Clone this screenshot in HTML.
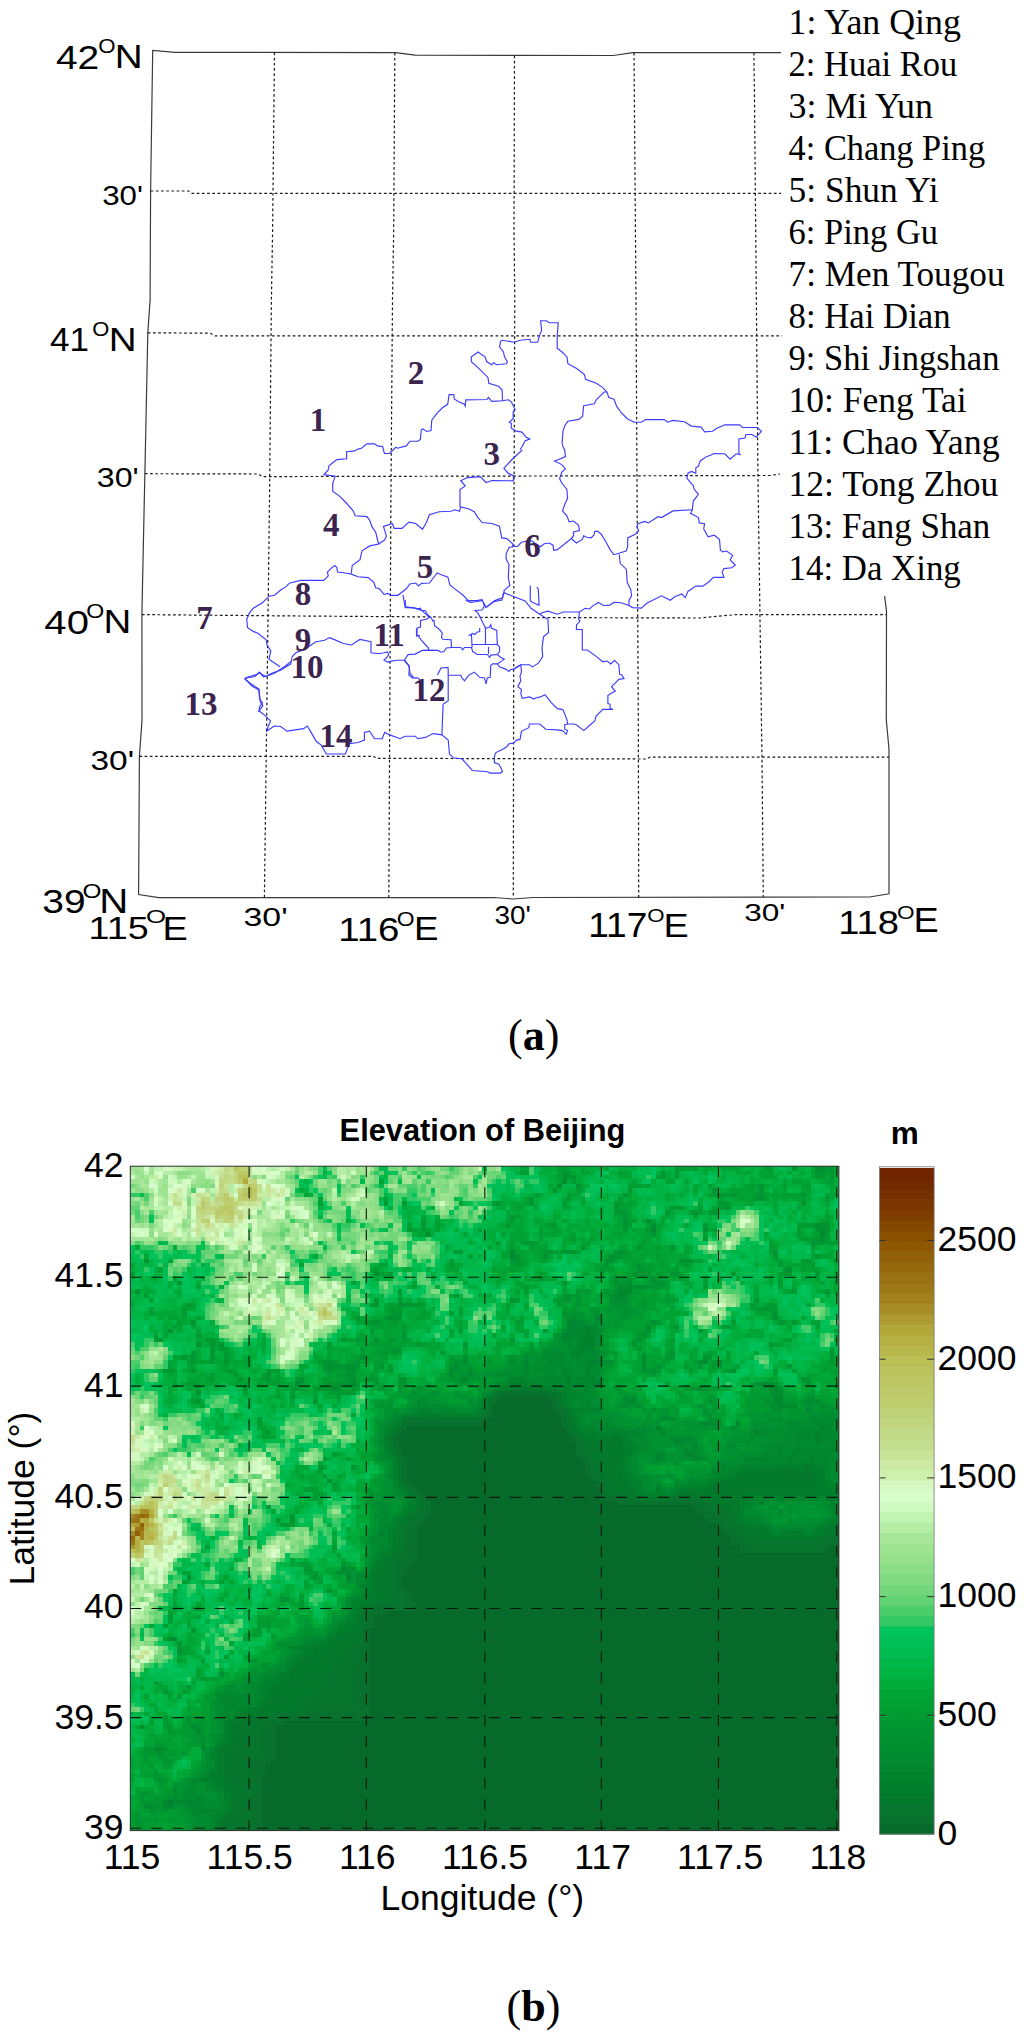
<!DOCTYPE html><html><head><meta charset="utf-8"><style>html,body{margin:0;padding:0;background:#fff;}svg{display:block;}</style></head><body><svg width="1024" height="2038" viewBox="0 0 1024 2038"><rect width="1024" height="2038" fill="#fff"/><g shape-rendering="crispEdges"><path fill="#066a2b" d="M501 1395h47v4h-47zM496 1399h57v5h-57zM492 1404h61v4h-61zM492 1408h61v5h-61zM492 1413h65v4h-65zM487 1417h75v4h-75zM482 1421h80v5h-80zM407 1426h155v4h-155zM402 1430h165v5h-165zM398 1435h173v4h-173zM398 1439h173v4h-173zM398 1443h178v5h-178zM402 1448h174v4h-174zM402 1452h174v5h-174zM407 1457h174v4h-174zM407 1461h178v4h-178zM407 1465h178v5h-178zM407 1470h178v4h-178zM407 1474h183v5h-183zM407 1479h188v4h-188zM412 1483h183v4h-183zM417 1487h183v5h-183zM421 1492h179v4h-179zM426 1496h174v5h-174zM431 1501h187v4h-187zM431 1505h262v4h-262zM431 1509h267v5h-267zM426 1514h277v4h-277zM426 1518h282v5h-282zM421 1523h296v4h-296zM417 1527h300v4h-300zM417 1531h309v5h-309zM417 1536h314v4h-314zM417 1540h314v5h-314zM417 1545h323v4h-323zM830 1545h9v4h-9zM417 1549h323v4h-323zM825 1549h14v4h-14zM417 1553h422v5h-422zM417 1558h422v4h-422zM412 1562h427v5h-427zM407 1567h432v4h-432zM407 1571h432v4h-432zM402 1575h437v5h-437zM402 1580h437v4h-437zM402 1584h437v5h-437zM407 1589h432v4h-432zM412 1593h427v4h-427zM412 1597h427v5h-427zM417 1602h422v4h-422zM412 1606h427v5h-427zM388 1611h451v4h-451zM374 1615h465v4h-465zM374 1619h465v5h-465zM374 1624h465v4h-465zM370 1628h469v5h-469zM370 1633h469v4h-469zM370 1637h469v4h-469zM370 1641h469v5h-469zM370 1646h469v4h-469zM370 1650h469v5h-469zM370 1655h469v4h-469zM370 1659h469v4h-469zM370 1663h469v5h-469zM370 1668h469v4h-469zM370 1672h469v5h-469zM370 1677h469v4h-469zM370 1681h469v4h-469zM370 1685h469v5h-469zM370 1690h469v4h-469zM370 1694h469v5h-469zM370 1699h469v4h-469zM370 1703h469v4h-469zM370 1707h469v5h-469zM370 1712h469v4h-469zM365 1716h474v5h-474zM285 1721h554v4h-554zM276 1725h563v4h-563zM276 1729h563v5h-563zM276 1734h563v4h-563zM276 1738h563v5h-563zM276 1743h563v4h-563zM276 1747h563v4h-563zM276 1751h563v5h-563zM276 1756h563v4h-563zM271 1760h568v5h-568zM266 1765h573v4h-573zM266 1769h573v4h-573zM262 1773h577v5h-577zM262 1778h577v4h-577zM262 1782h577v5h-577zM262 1787h577v4h-577zM262 1791h577v4h-577zM262 1795h577v5h-577zM262 1800h577v4h-577zM262 1804h577v5h-577zM262 1809h577v4h-577zM262 1813h577v4h-577zM262 1817h577v5h-577zM262 1822h577v4h-577zM262 1826h577v5h-577z"/><path fill="#08712d" d="M501 1391h47v4h-47zM496 1395h5v4h-5zM548 1395h5v4h-5zM492 1399h4v5h-4zM553 1399h4v5h-4zM553 1404h4v4h-4zM487 1408h5v5h-5zM553 1408h9v5h-9zM487 1413h5v4h-5zM557 1413h10v4h-10zM482 1417h5v4h-5zM562 1417h5v4h-5zM407 1421h75v5h-75zM562 1421h5v5h-5zM402 1426h5v4h-5zM562 1426h5v4h-5zM398 1430h4v5h-4zM567 1430h4v5h-4zM393 1435h5v4h-5zM571 1435h5v4h-5zM393 1439h5v4h-5zM571 1439h5v4h-5zM393 1443h5v5h-5zM576 1443h5v5h-5zM398 1448h4v4h-4zM576 1448h5v4h-5zM398 1452h4v5h-4zM576 1452h9v5h-9zM402 1457h5v4h-5zM581 1457h9v4h-9zM402 1461h5v4h-5zM585 1461h5v4h-5zM402 1465h5v5h-5zM585 1465h5v5h-5zM402 1470h5v4h-5zM585 1470h5v4h-5zM402 1474h5v5h-5zM590 1474h5v5h-5zM402 1479h5v4h-5zM595 1479h5v4h-5zM407 1483h5v4h-5zM595 1483h9v4h-9zM412 1487h5v5h-5zM600 1487h4v5h-4zM417 1492h4v4h-4zM600 1492h4v4h-4zM421 1496h5v5h-5zM600 1496h28v5h-28zM684 1496h5v5h-5zM426 1501h5v4h-5zM618 1501h80v4h-80zM426 1505h5v4h-5zM693 1505h15v4h-15zM421 1509h10v5h-10zM698 1509h14v5h-14zM421 1514h5v4h-5zM703 1514h14v4h-14zM417 1518h9v5h-9zM708 1518h18v5h-18zM412 1523h9v4h-9zM717 1523h9v4h-9zM407 1527h10v4h-10zM717 1527h19v4h-19zM407 1531h10v5h-10zM726 1531h10v5h-10zM407 1536h10v4h-10zM731 1536h14v4h-14zM834 1536h5v4h-5zM407 1540h10v5h-10zM731 1540h19v5h-19zM825 1540h14v5h-14zM407 1545h10v4h-10zM740 1545h14v4h-14zM820 1545h10v4h-10zM407 1549h10v4h-10zM740 1549h85v4h-85zM407 1553h10v5h-10zM402 1558h15v4h-15zM398 1562h14v5h-14zM398 1567h9v4h-9zM398 1571h9v4h-9zM398 1575h4v5h-4zM398 1580h4v4h-4zM398 1584h4v5h-4zM398 1589h9v4h-9zM402 1593h10v4h-10zM402 1597h10v5h-10zM402 1602h15v4h-15zM374 1606h38v5h-38zM370 1611h18v4h-18zM370 1615h4v4h-4zM365 1619h9v5h-9zM365 1624h9v4h-9zM365 1628h5v5h-5zM365 1633h5v4h-5zM365 1637h5v4h-5zM365 1641h5v5h-5zM360 1646h10v4h-10zM360 1650h10v5h-10zM360 1655h10v4h-10zM360 1659h10v4h-10zM356 1663h14v5h-14zM356 1668h14v4h-14zM356 1672h14v5h-14zM356 1677h14v4h-14zM356 1681h14v4h-14zM356 1685h14v5h-14zM356 1690h14v4h-14zM356 1694h14v5h-14zM356 1699h14v4h-14zM356 1703h14v4h-14zM323 1707h47v5h-47zM304 1712h66v4h-66zM280 1716h85v5h-85zM271 1721h14v4h-14zM266 1725h10v4h-10zM262 1729h14v5h-14zM262 1734h14v4h-14zM262 1738h14v5h-14zM262 1743h14v4h-14zM262 1747h14v4h-14zM262 1751h14v5h-14zM257 1756h19v4h-19zM252 1760h19v5h-19zM252 1765h14v4h-14zM252 1769h14v4h-14zM252 1773h10v5h-10zM252 1778h10v4h-10zM257 1782h5v5h-5zM257 1787h5v4h-5zM257 1791h5v4h-5zM252 1795h10v5h-10zM252 1800h10v4h-10zM252 1804h10v5h-10zM252 1809h10v4h-10zM252 1813h10v4h-10zM252 1817h10v5h-10zM252 1822h10v4h-10zM252 1826h10v5h-10z"/><path fill="#06752d" d="M496 1391h5v4h-5zM548 1391h9v4h-9zM492 1395h4v4h-4zM553 1395h4v4h-4zM487 1399h5v5h-5zM487 1404h5v4h-5zM557 1404h5v4h-5zM562 1408h5v5h-5zM482 1413h5v4h-5zM402 1417h80v4h-80zM567 1417h4v4h-4zM402 1421h5v5h-5zM567 1421h4v5h-4zM398 1426h4v4h-4zM567 1426h4v4h-4zM393 1430h5v5h-5zM571 1430h5v5h-5zM388 1435h5v4h-5zM576 1435h5v4h-5zM388 1439h5v4h-5zM576 1439h5v4h-5zM581 1443h4v5h-4zM393 1448h5v4h-5zM581 1448h9v4h-9zM585 1452h5v5h-5zM398 1457h4v4h-4zM590 1457h5v4h-5zM398 1461h4v4h-4zM590 1461h5v4h-5zM614 1461h4v4h-4zM398 1465h4v5h-4zM590 1465h10v5h-10zM398 1470h4v4h-4zM590 1470h10v4h-10zM783 1470h4v4h-4zM398 1474h4v5h-4zM595 1474h9v5h-9zM806 1474h5v5h-5zM398 1479h4v4h-4zM600 1479h9v4h-9zM402 1483h5v4h-5zM604 1483h5v4h-5zM623 1483h5v4h-5zM407 1487h5v5h-5zM604 1487h5v5h-5zM712 1487h5v5h-5zM412 1492h5v4h-5zM604 1492h28v4h-28zM684 1492h9v4h-9zM417 1496h4v5h-4zM628 1496h9v5h-9zM670 1496h14v5h-14zM689 1496h14v5h-14zM421 1501h5v4h-5zM698 1501h14v4h-14zM421 1505h5v4h-5zM708 1505h18v4h-18zM417 1509h4v5h-4zM712 1509h19v5h-19zM407 1514h14v4h-14zM717 1514h19v4h-19zM407 1518h10v5h-10zM726 1518h10v5h-10zM402 1523h10v4h-10zM726 1523h14v4h-14zM402 1527h5v4h-5zM736 1527h9v4h-9zM834 1527h5v4h-5zM402 1531h5v5h-5zM736 1531h18v5h-18zM830 1531h9v5h-9zM402 1536h5v4h-5zM745 1536h14v4h-14zM820 1536h14v4h-14zM402 1540h5v5h-5zM750 1540h75v5h-75zM402 1545h5v4h-5zM754 1545h66v4h-66zM398 1549h9v4h-9zM393 1553h14v5h-14zM388 1558h14v4h-14zM388 1562h10v5h-10zM388 1567h10v4h-10zM388 1571h10v4h-10zM388 1575h10v5h-10zM388 1580h10v4h-10zM388 1584h10v5h-10zM388 1589h10v4h-10zM388 1593h14v4h-14zM393 1597h9v5h-9zM374 1602h28v4h-28zM365 1606h9v5h-9zM360 1611h10v4h-10zM360 1615h10v4h-10zM360 1619h5v5h-5zM360 1624h5v4h-5zM360 1628h5v5h-5zM360 1633h5v4h-5zM341 1637h10v4h-10zM356 1637h9v4h-9zM356 1641h9v5h-9zM351 1646h9v4h-9zM332 1650h5v5h-5zM346 1650h14v5h-14zM341 1655h19v4h-19zM304 1659h9v4h-9zM337 1659h23v4h-23zM332 1663h24v5h-24zM332 1668h24v4h-24zM327 1672h29v5h-29zM313 1677h5v4h-5zM327 1677h29v4h-29zM295 1681h4v4h-4zM327 1681h29v4h-29zM318 1685h38v5h-38zM318 1690h38v4h-38zM313 1694h43v5h-43zM271 1699h5v4h-5zM304 1699h52v4h-52zM304 1703h52v4h-52zM299 1707h24v5h-24zM276 1712h28v4h-28zM248 1716h32v5h-32zM243 1721h28v4h-28zM234 1725h32v4h-32zM238 1729h24v5h-24zM238 1734h24v4h-24zM234 1738h28v5h-28zM234 1743h28v4h-28zM234 1747h28v4h-28zM224 1751h38v5h-38zM229 1756h28v4h-28zM229 1760h23v5h-23zM224 1765h28v4h-28zM224 1769h28v4h-28zM224 1773h28v5h-28zM229 1778h23v4h-23zM234 1782h23v5h-23zM243 1787h14v4h-14zM238 1791h19v4h-19zM238 1795h14v5h-14zM234 1800h18v4h-18zM234 1804h18v5h-18zM234 1809h18v4h-18zM229 1813h23v4h-23zM224 1817h28v5h-28zM219 1822h33v4h-33zM219 1826h33v5h-33z"/><path fill="#047a2d" d="M510 1386h33v5h-33zM557 1391h5v4h-5zM557 1395h5v4h-5zM557 1399h5v5h-5zM562 1404h5v4h-5zM482 1408h5v5h-5zM567 1408h4v5h-4zM426 1413h9v4h-9zM478 1413h4v4h-4zM567 1413h4v4h-4zM398 1421h4v5h-4zM571 1421h5v5h-5zM393 1426h5v4h-5zM571 1426h5v4h-5zM576 1430h5v5h-5zM581 1435h4v4h-4zM604 1435h5v4h-5zM614 1435h4v4h-4zM581 1439h42v4h-42zM388 1443h5v5h-5zM585 1443h38v5h-38zM388 1448h5v4h-5zM590 1448h38v4h-38zM393 1452h5v5h-5zM590 1452h33v5h-33zM595 1457h28v4h-28zM595 1461h19v4h-19zM600 1465h18v5h-18zM783 1465h4v5h-4zM806 1465h5v5h-5zM600 1470h23v4h-23zM750 1470h4v4h-4zM759 1470h24v4h-24zM787 1470h28v4h-28zM604 1474h19v5h-19zM736 1474h70v5h-70zM811 1474h4v5h-4zM609 1479h19v4h-19zM726 1479h94v4h-94zM398 1483h4v4h-4zM609 1483h14v4h-14zM628 1483h4v4h-4zM712 1483h108v4h-108zM402 1487h5v5h-5zM609 1487h28v5h-28zM689 1487h4v5h-4zM708 1487h4v5h-4zM717 1487h103v5h-103zM407 1492h5v4h-5zM632 1492h5v4h-5zM675 1492h9v4h-9zM693 1492h52v4h-52zM412 1496h5v5h-5zM637 1496h33v5h-33zM703 1496h37v5h-37zM417 1501h4v4h-4zM712 1501h28v4h-28zM417 1505h4v4h-4zM726 1505h14v4h-14zM412 1509h5v5h-5zM731 1509h9v5h-9zM736 1514h4v4h-4zM402 1518h5v5h-5zM736 1518h4v5h-4zM398 1523h4v4h-4zM740 1523h10v4h-10zM830 1523h9v4h-9zM398 1527h4v4h-4zM745 1527h19v4h-19zM825 1527h9v4h-9zM393 1531h9v5h-9zM754 1531h15v5h-15zM792 1531h9v5h-9zM820 1531h10v5h-10zM393 1536h9v4h-9zM759 1536h61v4h-61zM393 1540h9v5h-9zM393 1545h9v4h-9zM393 1549h5v4h-5zM388 1553h5v5h-5zM384 1558h4v4h-4zM379 1562h9v5h-9zM374 1567h14v4h-14zM374 1571h14v4h-14zM374 1575h14v5h-14zM374 1580h14v4h-14zM374 1584h14v5h-14zM374 1589h14v4h-14zM374 1593h14v4h-14zM370 1597h23v5h-23zM360 1602h14v4h-14zM360 1606h5v5h-5zM356 1611h4v4h-4zM356 1615h4v4h-4zM356 1619h4v5h-4zM351 1624h9v4h-9zM346 1628h14v5h-14zM337 1633h23v4h-23zM337 1637h4v4h-4zM351 1637h5v4h-5zM327 1641h29v5h-29zM313 1646h38v4h-38zM313 1650h19v5h-19zM337 1650h9v5h-9zM304 1655h37v4h-37zM299 1659h5v4h-5zM313 1659h24v4h-24zM295 1663h37v5h-37zM290 1668h42v4h-42zM290 1672h37v5h-37zM285 1677h28v4h-28zM318 1677h9v4h-9zM280 1681h15v4h-15zM299 1681h28v4h-28zM271 1685h47v5h-47zM271 1690h47v4h-47zM271 1694h42v5h-42zM266 1699h5v4h-5zM276 1699h28v4h-28zM262 1703h42v4h-42zM257 1707h42v5h-42zM243 1712h33v4h-33zM238 1716h10v5h-10zM229 1721h14v4h-14zM229 1725h5v4h-5zM229 1729h9v5h-9zM229 1734h9v4h-9zM229 1738h5v5h-5zM224 1743h10v4h-10zM219 1747h15v4h-15zM219 1751h5v5h-5zM219 1756h10v4h-10zM219 1760h10v5h-10zM219 1765h5v4h-5zM219 1769h5v4h-5zM210 1773h5v5h-5zM219 1773h5v5h-5zM224 1778h5v4h-5zM224 1782h10v5h-10zM224 1787h19v4h-19zM229 1791h9v4h-9zM229 1795h9v5h-9zM229 1800h5v4h-5zM229 1804h5v5h-5zM229 1809h5v4h-5zM224 1813h5v4h-5zM219 1817h5v5h-5z"/><path fill="#027f2d" d="M581 1342h4v5h-4zM590 1360h5v4h-5zM567 1377h4v5h-4zM510 1382h14v4h-14zM501 1386h9v5h-9zM543 1386h14v5h-14zM492 1391h4v4h-4zM487 1395h5v4h-5zM562 1395h5v4h-5zM482 1399h5v5h-5zM562 1399h5v5h-5zM482 1404h5v4h-5zM421 1408h5v5h-5zM478 1408h4v5h-4zM412 1413h14v4h-14zM435 1413h19v4h-19zM459 1413h19v4h-19zM571 1413h5v4h-5zM571 1417h5v4h-5zM393 1421h5v5h-5zM576 1426h5v4h-5zM388 1430h5v5h-5zM581 1430h4v5h-4zM590 1430h5v5h-5zM614 1430h4v5h-4zM384 1435h4v4h-4zM585 1435h19v4h-19zM609 1435h5v4h-5zM618 1435h10v4h-10zM815 1435h5v4h-5zM384 1439h4v4h-4zM623 1439h5v4h-5zM384 1443h4v5h-4zM623 1443h5v5h-5zM628 1448h4v4h-4zM388 1452h5v5h-5zM623 1452h5v5h-5zM393 1457h5v4h-5zM623 1457h5v4h-5zM787 1457h5v4h-5zM811 1457h4v4h-4zM393 1461h5v4h-5zM618 1461h10v4h-10zM393 1465h5v5h-5zM618 1465h10v5h-10zM745 1465h5v5h-5zM764 1465h5v5h-5zM773 1465h10v5h-10zM787 1465h19v5h-19zM811 1465h9v5h-9zM393 1470h5v4h-5zM623 1470h5v4h-5zM736 1470h14v4h-14zM754 1470h5v4h-5zM815 1470h10v4h-10zM393 1474h5v5h-5zM623 1474h9v5h-9zM731 1474h5v5h-5zM815 1474h10v5h-10zM628 1479h4v4h-4zM712 1479h14v4h-14zM820 1479h5v4h-5zM632 1483h10v4h-10zM708 1483h4v4h-4zM820 1483h5v4h-5zM656 1487h5v5h-5zM675 1487h14v5h-14zM693 1487h15v5h-15zM820 1487h19v5h-19zM637 1492h5v4h-5zM656 1492h5v4h-5zM745 1492h94v4h-94zM740 1496h14v5h-14zM830 1496h9v5h-9zM412 1501h5v4h-5zM740 1501h5v4h-5zM759 1501h5v4h-5zM412 1505h5v4h-5zM402 1509h10v5h-10zM402 1514h5v4h-5zM398 1518h4v5h-4zM740 1518h5v5h-5zM834 1518h5v5h-5zM393 1523h5v4h-5zM750 1523h14v4h-14zM825 1523h5v4h-5zM393 1527h5v4h-5zM764 1527h5v4h-5zM820 1527h5v4h-5zM769 1531h4v5h-4zM778 1531h14v5h-14zM801 1531h5v5h-5zM811 1531h9v5h-9zM388 1549h5v4h-5zM379 1553h9v5h-9zM379 1558h5v4h-5zM374 1562h5v5h-5zM370 1571h4v4h-4zM370 1575h4v5h-4zM370 1580h4v4h-4zM370 1584h4v5h-4zM370 1589h4v4h-4zM365 1593h9v4h-9zM360 1597h10v5h-10zM356 1602h4v4h-4zM356 1606h4v5h-4zM351 1615h5v4h-5zM346 1619h10v5h-10zM346 1624h5v4h-5zM337 1628h9v5h-9zM332 1633h5v4h-5zM327 1637h10v4h-10zM313 1641h14v5h-14zM299 1646h14v4h-14zM304 1650h9v5h-9zM299 1655h5v4h-5zM295 1659h4v4h-4zM290 1663h5v5h-5zM285 1668h5v4h-5zM280 1672h10v5h-10zM276 1677h9v4h-9zM271 1681h9v4h-9zM266 1685h5v5h-5zM262 1690h9v4h-9zM262 1694h9v5h-9zM262 1699h4v4h-4zM248 1707h9v5h-9zM238 1712h5v4h-5zM234 1716h4v5h-4zM224 1725h5v4h-5zM224 1729h5v5h-5zM224 1738h5v5h-5zM219 1743h5v4h-5zM215 1747h4v4h-4zM215 1751h4v5h-4zM215 1756h4v4h-4zM215 1760h4v5h-4zM215 1765h4v4h-4zM215 1769h4v4h-4zM215 1773h4v5h-4zM201 1778h9v4h-9zM215 1778h9v4h-9zM215 1782h9v5h-9zM215 1787h9v4h-9zM224 1791h5v4h-5zM224 1795h5v5h-5zM168 1800h5v4h-5zM224 1809h5v4h-5zM215 1822h4v4h-4zM215 1826h4v5h-4z"/><path fill="#00832d" d="M585 1325h5v4h-5zM585 1329h5v4h-5zM562 1333h5v5h-5zM585 1333h10v5h-10zM581 1338h14v4h-14zM585 1342h10v5h-10zM581 1347h4v4h-4zM571 1351h10v4h-10zM524 1364h5v5h-5zM562 1369h5v4h-5zM585 1369h5v4h-5zM585 1373h5v4h-5zM510 1377h14v5h-14zM590 1377h5v5h-5zM524 1382h10v4h-10zM567 1382h4v4h-4zM496 1386h5v5h-5zM557 1386h14v5h-14zM562 1391h14v4h-14zM567 1395h4v4h-4zM567 1399h4v5h-4zM567 1404h4v4h-4zM417 1408h4v5h-4zM426 1408h5v5h-5zM571 1408h14v5h-14zM590 1408h10v5h-10zM402 1413h10v4h-10zM454 1413h5v4h-5zM576 1413h5v4h-5zM398 1417h4v4h-4zM576 1417h5v4h-5zM576 1421h5v5h-5zM388 1426h5v4h-5zM581 1426h14v4h-14zM604 1426h5v4h-5zM656 1426h5v4h-5zM820 1426h5v4h-5zM384 1430h4v5h-4zM585 1430h5v5h-5zM595 1430h19v5h-19zM618 1430h19v5h-19zM661 1430h4v5h-4zM754 1430h5v5h-5zM815 1430h5v5h-5zM830 1430h4v5h-4zM801 1435h5v4h-5zM628 1439h4v4h-4zM675 1439h4v4h-4zM797 1439h4v4h-4zM815 1439h5v4h-5zM628 1443h9v5h-9zM384 1448h4v4h-4zM632 1448h5v4h-5zM797 1448h4v4h-4zM830 1448h4v4h-4zM384 1452h4v5h-4zM628 1452h4v5h-4zM689 1452h4v5h-4zM792 1452h5v5h-5zM656 1457h5v4h-5zM754 1457h15v4h-15zM834 1457h5v4h-5zM764 1461h5v4h-5zM783 1461h9v4h-9zM797 1461h18v4h-18zM722 1465h4v5h-4zM740 1465h5v5h-5zM750 1465h14v5h-14zM769 1465h4v5h-4zM820 1465h5v5h-5zM628 1470h4v4h-4zM712 1470h5v4h-5zM731 1470h5v4h-5zM722 1474h9v5h-9zM393 1479h5v4h-5zM632 1479h10v4h-10zM708 1479h4v4h-4zM825 1479h5v4h-5zM393 1483h5v4h-5zM689 1483h19v4h-19zM825 1483h9v4h-9zM398 1487h4v5h-4zM637 1487h5v5h-5zM402 1492h5v4h-5zM642 1492h14v4h-14zM661 1492h4v4h-4zM670 1492h5v4h-5zM407 1496h5v5h-5zM754 1496h5v5h-5zM778 1496h9v5h-9zM801 1496h5v5h-5zM825 1496h5v5h-5zM407 1501h5v4h-5zM745 1501h5v4h-5zM830 1501h4v4h-4zM407 1505h5v4h-5zM740 1505h5v4h-5zM830 1505h9v4h-9zM740 1509h5v5h-5zM834 1509h5v5h-5zM398 1514h4v4h-4zM740 1514h5v4h-5zM834 1514h5v4h-5zM393 1518h5v5h-5zM745 1518h14v5h-14zM825 1518h9v5h-9zM388 1523h5v4h-5zM764 1523h5v4h-5zM820 1523h5v4h-5zM388 1527h5v4h-5zM769 1527h4v4h-4zM792 1527h14v4h-14zM815 1527h5v4h-5zM379 1531h5v5h-5zM388 1531h5v5h-5zM773 1531h5v5h-5zM806 1531h5v5h-5zM388 1536h5v4h-5zM388 1540h5v5h-5zM388 1545h5v4h-5zM379 1549h9v4h-9zM374 1558h5v4h-5zM370 1567h4v4h-4zM365 1575h5v5h-5zM365 1580h5v4h-5zM360 1584h10v5h-10zM365 1589h5v4h-5zM351 1597h9v5h-9zM351 1602h5v4h-5zM351 1606h5v5h-5zM351 1611h5v4h-5zM346 1615h5v4h-5zM337 1624h9v4h-9zM327 1633h5v4h-5zM309 1641h4v5h-4zM290 1646h9v4h-9zM299 1650h5v5h-5zM295 1655h4v4h-4zM290 1659h5v4h-5zM285 1663h5v5h-5zM276 1672h4v5h-4zM262 1677h14v4h-14zM262 1681h9v4h-9zM257 1685h9v5h-9zM257 1690h5v4h-5zM224 1699h5v4h-5zM257 1699h5v4h-5zM229 1703h5v4h-5zM257 1703h5v4h-5zM238 1707h10v5h-10zM224 1712h5v4h-5zM234 1712h4v4h-4zM224 1716h10v5h-10zM224 1721h5v4h-5zM224 1734h5v4h-5zM219 1738h5v5h-5zM210 1751h5v5h-5zM210 1756h5v4h-5zM210 1769h5v4h-5zM205 1773h5v5h-5zM210 1778h5v4h-5zM187 1800h9v4h-9zM224 1800h5v4h-5zM224 1804h5v5h-5zM201 1809h9v4h-9zM215 1809h4v4h-4zM215 1813h9v4h-9zM215 1817h4v5h-4zM210 1826h5v5h-5z"/><path fill="#00872f" d="M628 1285h4v4h-4zM618 1289h10v5h-10zM618 1294h5v4h-5zM595 1316h5v4h-5zM567 1320h14v5h-14zM567 1325h9v4h-9zM581 1325h4v4h-4zM567 1329h18v4h-18zM590 1329h5v4h-5zM567 1333h18v5h-18zM562 1338h5v4h-5zM567 1342h4v5h-4zM576 1342h5v5h-5zM576 1347h5v4h-5zM585 1347h10v4h-10zM543 1351h5v4h-5zM581 1351h4v4h-4zM590 1351h10v4h-10zM543 1355h5v5h-5zM553 1355h9v5h-9zM576 1355h5v5h-5zM590 1355h5v5h-5zM524 1360h5v4h-5zM548 1360h5v4h-5zM585 1360h5v4h-5zM595 1360h5v4h-5zM557 1364h5v5h-5zM585 1364h10v5h-10zM524 1369h5v4h-5zM524 1373h5v4h-5zM548 1373h5v4h-5zM562 1373h9v4h-9zM463 1377h5v5h-5zM524 1377h5v5h-5zM539 1377h28v5h-28zM576 1377h14v5h-14zM501 1382h9v4h-9zM534 1382h28v4h-28zM576 1382h9v4h-9zM590 1382h10v4h-10zM492 1386h4v5h-4zM571 1386h5v5h-5zM585 1386h5v5h-5zM773 1386h5v5h-5zM487 1391h5v4h-5zM576 1391h5v4h-5zM482 1395h5v4h-5zM571 1395h14v4h-14zM773 1395h5v4h-5zM417 1399h4v5h-4zM571 1399h5v5h-5zM581 1399h9v5h-9zM628 1399h4v5h-4zM417 1404h4v4h-4zM478 1404h4v4h-4zM571 1404h19v4h-19zM778 1404h5v4h-5zM412 1408h5v5h-5zM431 1408h23v5h-23zM473 1408h5v5h-5zM585 1408h5v5h-5zM806 1408h5v5h-5zM393 1413h9v4h-9zM581 1413h4v4h-4zM393 1417h5v4h-5zM811 1417h9v4h-9zM834 1417h5v4h-5zM388 1421h5v5h-5zM581 1421h4v5h-4zM590 1421h5v5h-5zM604 1421h5v5h-5zM703 1421h5v5h-5zM787 1421h10v5h-10zM820 1421h10v5h-10zM384 1426h4v4h-4zM595 1426h9v4h-9zM609 1426h5v4h-5zM618 1426h5v4h-5zM642 1426h4v4h-4zM801 1426h10v4h-10zM825 1426h5v4h-5zM637 1430h5v5h-5zM764 1430h5v5h-5zM797 1430h18v5h-18zM820 1430h10v5h-10zM628 1435h4v4h-4zM750 1435h4v4h-4zM797 1435h4v4h-4zM806 1435h5v4h-5zM820 1435h14v4h-14zM379 1439h5v4h-5zM632 1439h5v4h-5zM642 1439h4v4h-4zM679 1439h5v4h-5zM783 1439h4v4h-4zM820 1439h14v4h-14zM637 1443h5v5h-5zM693 1443h5v5h-5zM773 1443h10v5h-10zM797 1443h4v5h-4zM815 1443h5v5h-5zM830 1443h4v5h-4zM637 1448h5v4h-5zM769 1448h14v4h-14zM787 1448h10v4h-10zM801 1448h29v4h-29zM632 1452h5v5h-5zM656 1452h9v5h-9zM684 1452h5v5h-5zM764 1452h5v5h-5zM773 1452h10v5h-10zM797 1452h4v5h-4zM806 1452h24v5h-24zM379 1457h5v4h-5zM388 1457h5v4h-5zM628 1457h4v4h-4zM661 1457h4v4h-4zM693 1457h10v4h-10zM745 1457h9v4h-9zM769 1457h18v4h-18zM792 1457h19v4h-19zM815 1457h19v4h-19zM628 1461h4v4h-4zM745 1461h19v4h-19zM769 1461h14v4h-14zM792 1461h5v4h-5zM815 1461h15v4h-15zM834 1461h5v4h-5zM628 1465h9v5h-9zM717 1465h5v5h-5zM726 1465h5v5h-5zM736 1465h4v5h-4zM825 1465h5v5h-5zM834 1465h5v5h-5zM632 1470h5v4h-5zM717 1470h14v4h-14zM825 1470h5v4h-5zM388 1474h5v5h-5zM632 1474h5v5h-5zM642 1474h4v5h-4zM712 1474h10v5h-10zM825 1474h5v5h-5zM642 1479h9v4h-9zM675 1479h4v4h-4zM689 1479h19v4h-19zM830 1479h4v4h-4zM656 1483h5v4h-5zM675 1483h4v4h-4zM684 1483h5v4h-5zM834 1483h5v4h-5zM393 1487h5v5h-5zM642 1487h4v5h-4zM670 1487h5v5h-5zM398 1492h4v4h-4zM665 1492h5v4h-5zM402 1496h5v5h-5zM759 1496h10v5h-10zM773 1496h5v5h-5zM787 1496h14v5h-14zM806 1496h19v5h-19zM750 1501h4v4h-4zM834 1501h5v4h-5zM384 1505h4v4h-4zM402 1505h5v4h-5zM745 1505h9v4h-9zM384 1509h4v5h-4zM778 1509h5v5h-5zM830 1509h4v5h-4zM393 1514h5v4h-5zM754 1514h5v4h-5zM830 1514h4v4h-4zM379 1518h14v5h-14zM759 1518h5v5h-5zM811 1518h4v5h-4zM379 1523h9v4h-9zM769 1523h4v4h-4zM815 1523h5v4h-5zM379 1527h9v4h-9zM773 1527h19v4h-19zM806 1527h9v4h-9zM384 1531h4v5h-4zM370 1536h9v4h-9zM384 1536h4v4h-4zM379 1540h9v5h-9zM379 1545h9v4h-9zM374 1553h5v5h-5zM370 1562h4v5h-4zM341 1567h5v4h-5zM346 1575h5v5h-5zM360 1580h5v4h-5zM360 1593h5v4h-5zM341 1619h5v5h-5zM332 1628h5v5h-5zM309 1637h18v4h-18zM304 1641h5v5h-5zM295 1650h4v5h-4zM290 1655h5v4h-5zM285 1659h5v4h-5zM266 1668h5v4h-5zM280 1668h5v4h-5zM266 1672h10v5h-10zM257 1681h5v4h-5zM252 1685h5v5h-5zM252 1690h5v4h-5zM219 1694h29v5h-29zM257 1694h5v5h-5zM219 1699h5v4h-5zM229 1699h28v4h-28zM224 1703h5v4h-5zM234 1703h23v4h-23zM224 1707h5v5h-5zM234 1707h4v5h-4zM219 1721h5v4h-5zM191 1725h5v4h-5zM196 1729h5v5h-5zM219 1734h5v4h-5zM215 1743h4v4h-4zM154 1747h4v4h-4zM210 1747h5v4h-5zM210 1765h5v4h-5zM191 1778h10v4h-10zM210 1782h5v5h-5zM210 1787h5v4h-5zM219 1791h5v4h-5zM196 1795h9v5h-9zM219 1795h5v5h-5zM163 1800h5v4h-5zM177 1800h10v4h-10zM196 1800h5v4h-5zM219 1800h5v4h-5zM163 1804h10v5h-10zM187 1804h18v5h-18zM219 1804h5v5h-5zM191 1809h10v4h-10zM210 1809h5v4h-5zM219 1809h5v4h-5zM196 1813h5v4h-5zM205 1813h10v4h-10zM210 1817h5v5h-5zM210 1822h5v4h-5zM196 1826h5v5h-5zM205 1826h5v5h-5z"/><path fill="#008b30" d="M651 1228h5v4h-5zM820 1232h5v5h-5zM510 1250h5v4h-5zM510 1254h5v5h-5zM618 1285h5v4h-5zM637 1285h5v4h-5zM628 1289h4v5h-4zM614 1294h4v4h-4zM623 1294h5v4h-5zM614 1298h9v5h-9zM567 1316h9v4h-9zM581 1320h4v5h-4zM576 1325h5v4h-5zM590 1325h10v4h-10zM595 1329h9v4h-9zM595 1333h5v5h-5zM567 1338h14v4h-14zM595 1338h5v4h-5zM567 1347h9v4h-9zM548 1351h19v4h-19zM585 1351h5v4h-5zM600 1351h4v4h-4zM524 1355h5v5h-5zM548 1355h5v5h-5zM562 1355h5v5h-5zM571 1355h5v5h-5zM581 1355h9v5h-9zM595 1355h5v5h-5zM642 1355h4v5h-4zM463 1360h5v4h-5zM510 1360h5v4h-5zM539 1360h4v4h-4zM553 1360h18v4h-18zM576 1360h9v4h-9zM600 1360h4v4h-4zM642 1360h4v4h-4zM703 1360h5v4h-5zM454 1364h5v5h-5zM534 1364h23v5h-23zM562 1364h9v5h-9zM576 1364h9v5h-9zM595 1364h5v5h-5zM449 1369h5v4h-5zM468 1369h5v4h-5zM506 1369h4v4h-4zM534 1369h23v4h-23zM567 1369h14v4h-14zM590 1369h10v4h-10zM449 1373h5v4h-5zM468 1373h5v4h-5zM496 1373h19v4h-19zM520 1373h4v4h-4zM543 1373h5v4h-5zM553 1373h9v4h-9zM571 1373h5v4h-5zM581 1373h4v4h-4zM590 1373h10v4h-10zM459 1377h4v5h-4zM506 1377h4v5h-4zM529 1377h10v5h-10zM571 1377h5v5h-5zM595 1377h5v5h-5zM295 1382h4v4h-4zM351 1382h5v4h-5zM496 1382h5v4h-5zM562 1382h5v4h-5zM571 1382h5v4h-5zM585 1382h5v4h-5zM764 1382h5v4h-5zM332 1386h5v5h-5zM576 1386h9v5h-9zM590 1386h5v5h-5zM698 1386h5v5h-5zM769 1386h4v5h-4zM431 1391h4v4h-4zM581 1391h14v4h-14zM585 1395h10v4h-10zM778 1395h5v4h-5zM421 1399h5v5h-5zM468 1399h5v5h-5zM478 1399h4v5h-4zM576 1399h5v5h-5zM590 1399h5v5h-5zM632 1399h5v5h-5zM773 1399h10v5h-10zM806 1399h5v5h-5zM412 1404h5v4h-5zM421 1404h19v4h-19zM445 1404h4v4h-4zM473 1404h5v4h-5zM590 1404h10v4h-10zM623 1404h5v4h-5zM769 1404h4v4h-4zM783 1404h14v4h-14zM820 1404h5v4h-5zM407 1408h5v5h-5zM454 1408h19v5h-19zM600 1408h4v5h-4zM773 1408h5v5h-5zM585 1413h5v4h-5zM595 1413h9v4h-9zM811 1413h4v4h-4zM825 1413h9v4h-9zM388 1417h5v4h-5zM581 1417h4v4h-4zM590 1417h24v4h-24zM661 1417h4v4h-4zM670 1417h5v4h-5zM769 1417h14v4h-14zM820 1417h14v4h-14zM384 1421h4v5h-4zM585 1421h5v5h-5zM595 1421h9v5h-9zM609 1421h5v5h-5zM708 1421h9v5h-9zM736 1421h4v5h-4zM797 1421h23v5h-23zM830 1421h9v5h-9zM614 1426h4v4h-4zM623 1426h5v4h-5zM637 1426h5v4h-5zM787 1426h14v4h-14zM811 1426h9v4h-9zM830 1426h4v4h-4zM379 1430h5v5h-5zM642 1430h9v5h-9zM759 1430h5v5h-5zM773 1430h24v5h-24zM834 1430h5v5h-5zM379 1435h5v4h-5zM632 1435h14v4h-14zM670 1435h5v4h-5zM689 1435h4v4h-4zM769 1435h4v4h-4zM778 1435h19v4h-19zM811 1435h4v4h-4zM834 1435h5v4h-5zM637 1439h5v4h-5zM646 1439h5v4h-5zM684 1439h9v4h-9zM745 1439h5v4h-5zM769 1439h4v4h-4zM778 1439h5v4h-5zM787 1439h10v4h-10zM801 1439h14v4h-14zM834 1439h5v4h-5zM379 1443h5v5h-5zM642 1443h9v5h-9zM726 1443h10v5h-10zM759 1443h14v5h-14zM783 1443h14v5h-14zM801 1443h14v5h-14zM820 1443h10v5h-10zM834 1443h5v5h-5zM642 1448h9v4h-9zM684 1448h5v4h-5zM693 1448h5v4h-5zM764 1448h5v4h-5zM783 1448h4v4h-4zM834 1448h5v4h-5zM379 1452h5v5h-5zM637 1452h5v5h-5zM693 1452h5v5h-5zM740 1452h10v5h-10zM759 1452h5v5h-5zM769 1452h4v5h-4zM783 1452h9v5h-9zM801 1452h5v5h-5zM830 1452h9v5h-9zM384 1457h4v4h-4zM632 1457h5v4h-5zM651 1457h5v4h-5zM679 1457h5v4h-5zM689 1457h4v4h-4zM740 1457h5v4h-5zM388 1461h5v4h-5zM632 1461h5v4h-5zM675 1461h4v4h-4zM722 1461h23v4h-23zM830 1461h4v4h-4zM388 1465h5v5h-5zM731 1465h5v5h-5zM830 1465h4v5h-4zM388 1470h5v4h-5zM830 1470h4v4h-4zM637 1474h5v5h-5zM646 1474h5v5h-5zM708 1474h4v5h-4zM830 1474h9v5h-9zM834 1479h5v4h-5zM642 1483h9v4h-9zM679 1483h5v4h-5zM646 1487h10v5h-10zM661 1487h9v5h-9zM393 1492h5v4h-5zM370 1496h4v5h-4zM398 1496h4v5h-4zM769 1496h4v5h-4zM374 1501h14v4h-14zM402 1501h5v4h-5zM754 1501h5v4h-5zM764 1501h5v4h-5zM825 1501h5v4h-5zM379 1505h5v4h-5zM773 1505h5v4h-5zM825 1505h5v4h-5zM379 1509h5v5h-5zM398 1509h4v5h-4zM745 1509h14v5h-14zM374 1514h19v4h-19zM745 1514h9v4h-9zM759 1514h5v4h-5zM764 1518h5v5h-5zM787 1518h5v5h-5zM820 1518h5v5h-5zM783 1523h14v4h-14zM806 1523h9v4h-9zM374 1531h5v5h-5zM379 1536h5v4h-5zM370 1540h9v5h-9zM374 1545h5v4h-5zM374 1549h5v4h-5zM370 1558h4v4h-4zM337 1571h4v4h-4zM346 1571h5v4h-5zM365 1571h5v4h-5zM356 1575h9v5h-9zM356 1580h4v4h-4zM360 1589h5v4h-5zM356 1593h4v4h-4zM346 1602h5v4h-5zM346 1606h5v5h-5zM346 1611h5v4h-5zM332 1619h9v5h-9zM332 1624h5v4h-5zM327 1628h5v5h-5zM173 1637h4v4h-4zM304 1637h5v4h-5zM299 1641h5v5h-5zM290 1650h5v5h-5zM285 1655h5v4h-5zM280 1663h5v5h-5zM271 1668h9v4h-9zM262 1672h4v5h-4zM248 1677h4v4h-4zM257 1677h5v4h-5zM248 1681h9v4h-9zM229 1685h5v5h-5zM243 1685h9v5h-9zM224 1690h14v4h-14zM243 1690h9v4h-9zM248 1694h9v5h-9zM215 1699h4v4h-4zM215 1703h9v4h-9zM219 1707h5v5h-5zM229 1707h5v5h-5zM219 1712h5v4h-5zM229 1712h5v4h-5zM219 1716h5v5h-5zM219 1725h5v4h-5zM219 1729h5v5h-5zM215 1734h4v4h-4zM201 1738h4v5h-4zM215 1738h4v5h-4zM201 1743h4v4h-4zM158 1747h5v4h-5zM201 1747h4v4h-4zM205 1751h5v5h-5zM205 1756h5v4h-5zM205 1760h10v5h-10zM205 1765h5v4h-5zM205 1769h5v4h-5zM201 1773h4v5h-4zM191 1782h10v5h-10zM205 1782h5v5h-5zM173 1787h4v4h-4zM187 1787h9v4h-9zM205 1787h5v4h-5zM173 1791h4v4h-4zM182 1791h14v4h-14zM215 1791h4v4h-4zM173 1795h4v5h-4zM182 1795h14v5h-14zM215 1795h4v5h-4zM173 1800h4v4h-4zM201 1800h18v4h-18zM144 1804h10v5h-10zM205 1804h10v5h-10zM191 1813h5v4h-5zM201 1813h4v4h-4zM196 1817h14v5h-14zM196 1822h14v4h-14zM191 1826h5v5h-5zM201 1826h4v5h-4z"/><path fill="#008f31" d="M820 1166h5v5h-5zM562 1175h5v4h-5zM562 1179h5v5h-5zM557 1184h5v4h-5zM576 1184h5v4h-5zM646 1219h5v4h-5zM651 1223h5v5h-5zM815 1223h10v5h-10zM703 1228h5v4h-5zM820 1228h10v4h-10zM811 1241h4v4h-4zM618 1250h5v4h-5zM609 1254h5v5h-5zM679 1259h5v4h-5zM689 1259h4v4h-4zM787 1267h5v5h-5zM374 1272h5v4h-5zM539 1276h4v5h-4zM651 1276h5v5h-5zM614 1281h4v4h-4zM628 1281h4v4h-4zM623 1285h5v4h-5zM642 1285h4v4h-4zM609 1294h5v4h-5zM609 1298h5v5h-5zM623 1298h5v5h-5zM614 1303h4v4h-4zM571 1311h5v5h-5zM595 1311h5v5h-5zM623 1311h5v5h-5zM388 1316h10v4h-10zM773 1316h5v4h-5zM374 1320h5v5h-5zM595 1320h5v5h-5zM651 1320h5v5h-5zM600 1325h4v4h-4zM646 1325h5v4h-5zM562 1329h5v4h-5zM646 1329h5v4h-5zM553 1338h4v4h-4zM562 1342h5v5h-5zM571 1342h5v5h-5zM595 1342h5v5h-5zM548 1347h19v4h-19zM595 1347h5v4h-5zM567 1351h4v4h-4zM604 1351h5v4h-5zM670 1351h5v4h-5zM360 1355h5v5h-5zM463 1355h5v5h-5zM510 1355h5v5h-5zM534 1355h9v5h-9zM567 1355h4v5h-4zM600 1355h4v5h-4zM520 1360h4v4h-4zM534 1360h5v4h-5zM543 1360h5v4h-5zM571 1360h5v4h-5zM604 1360h10v4h-10zM717 1360h5v4h-5zM327 1364h5v5h-5zM346 1364h10v5h-10zM510 1364h14v5h-14zM529 1364h5v5h-5zM571 1364h5v5h-5zM600 1364h4v5h-4zM642 1364h4v5h-4zM351 1369h5v4h-5zM501 1369h5v4h-5zM510 1369h14v4h-14zM529 1369h5v4h-5zM557 1369h5v4h-5zM581 1369h4v4h-4zM651 1369h5v4h-5zM731 1369h5v4h-5zM492 1373h4v4h-4zM515 1373h5v4h-5zM529 1373h14v4h-14zM576 1373h5v4h-5zM299 1377h5v5h-5zM351 1377h5v5h-5zM402 1377h5v5h-5zM482 1377h5v5h-5zM600 1377h4v5h-4zM801 1377h5v5h-5zM492 1382h4v4h-4zM759 1382h5v4h-5zM769 1382h4v4h-4zM806 1382h5v4h-5zM337 1386h4v5h-4zM478 1386h4v5h-4zM487 1386h5v5h-5zM412 1391h5v4h-5zM482 1391h5v4h-5zM595 1391h5v4h-5zM769 1391h14v4h-14zM463 1395h5v4h-5zM595 1395h5v4h-5zM623 1395h5v4h-5zM632 1395h5v4h-5zM811 1395h4v4h-4zM426 1399h14v5h-14zM595 1399h5v5h-5zM623 1399h5v5h-5zM708 1399h4v5h-4zM764 1399h5v5h-5zM811 1399h9v5h-9zM440 1404h5v4h-5zM459 1404h4v4h-4zM600 1404h4v4h-4zM618 1404h5v4h-5zM637 1404h5v4h-5zM773 1404h5v4h-5zM806 1404h5v4h-5zM825 1404h5v4h-5zM393 1408h5v5h-5zM402 1408h5v5h-5zM778 1408h5v5h-5zM820 1408h5v5h-5zM830 1408h4v5h-4zM388 1413h5v4h-5zM590 1413h5v4h-5zM604 1413h14v4h-14zM801 1413h5v4h-5zM815 1413h10v4h-10zM834 1413h5v4h-5zM384 1417h4v4h-4zM585 1417h5v4h-5zM614 1417h4v4h-4zM646 1417h5v4h-5zM665 1417h5v4h-5zM708 1417h4v4h-4zM797 1417h4v4h-4zM806 1417h5v4h-5zM379 1421h5v5h-5zM614 1421h9v5h-9zM642 1421h4v5h-4zM698 1421h5v5h-5zM754 1421h15v5h-15zM778 1421h9v5h-9zM379 1426h5v4h-5zM628 1426h9v4h-9zM646 1426h10v4h-10zM703 1426h5v4h-5zM731 1426h5v4h-5zM754 1426h33v4h-33zM834 1426h5v4h-5zM651 1430h10v5h-10zM750 1430h4v5h-4zM769 1430h4v5h-4zM646 1435h10v4h-10zM661 1435h9v4h-9zM675 1435h14v4h-14zM754 1435h15v4h-15zM773 1435h5v4h-5zM374 1439h5v4h-5zM651 1439h10v4h-10zM670 1439h5v4h-5zM693 1439h5v4h-5zM731 1439h14v4h-14zM759 1439h10v4h-10zM773 1439h5v4h-5zM661 1443h9v5h-9zM675 1443h14v5h-14zM379 1448h5v4h-5zM651 1448h5v4h-5zM679 1448h5v4h-5zM689 1448h4v4h-4zM731 1448h9v4h-9zM759 1448h5v4h-5zM642 1452h14v5h-14zM670 1452h5v5h-5zM698 1452h5v5h-5zM726 1452h5v5h-5zM736 1452h4v5h-4zM750 1452h9v5h-9zM374 1457h5v4h-5zM646 1457h5v4h-5zM670 1457h5v4h-5zM684 1457h5v4h-5zM703 1457h5v4h-5zM717 1457h23v4h-23zM651 1461h10v4h-10zM717 1461h5v4h-5zM637 1465h5v5h-5zM712 1465h5v5h-5zM637 1470h5v4h-5zM834 1470h5v4h-5zM384 1474h4v5h-4zM656 1474h5v5h-5zM670 1474h5v5h-5zM689 1474h4v5h-4zM703 1474h5v5h-5zM384 1479h9v4h-9zM651 1479h10v4h-10zM684 1479h5v4h-5zM384 1483h9v4h-9zM651 1483h5v4h-5zM388 1487h5v5h-5zM370 1492h4v4h-4zM388 1492h5v4h-5zM388 1496h10v5h-10zM365 1501h5v4h-5zM388 1501h5v4h-5zM773 1501h19v4h-19zM797 1501h4v4h-4zM811 1501h14v4h-14zM374 1505h5v4h-5zM388 1505h5v4h-5zM398 1505h4v4h-4zM754 1505h5v4h-5zM769 1505h4v4h-4zM787 1505h5v4h-5zM820 1505h5v4h-5zM374 1509h5v5h-5zM388 1509h5v5h-5zM759 1509h5v5h-5zM769 1509h4v5h-4zM787 1509h5v5h-5zM825 1509h5v5h-5zM764 1514h9v4h-9zM825 1514h5v4h-5zM290 1518h5v5h-5zM769 1518h4v5h-4zM797 1518h14v5h-14zM815 1518h5v5h-5zM773 1523h10v4h-10zM797 1523h9v4h-9zM365 1540h5v5h-5zM370 1545h4v4h-4zM370 1549h4v4h-4zM370 1553h4v5h-4zM365 1562h5v5h-5zM346 1567h10v4h-10zM365 1567h5v4h-5zM356 1571h9v4h-9zM187 1575h4v5h-4zM346 1580h5v4h-5zM356 1584h4v5h-4zM356 1589h4v4h-4zM346 1597h5v5h-5zM332 1615h5v4h-5zM341 1615h5v4h-5zM327 1624h5v4h-5zM304 1633h23v4h-23zM168 1637h5v4h-5zM295 1637h9v4h-9zM276 1641h23v5h-23zM285 1646h5v4h-5zM285 1650h5v5h-5zM280 1659h5v4h-5zM262 1663h4v5h-4zM276 1663h4v5h-4zM219 1672h5v5h-5zM252 1672h10v5h-10zM243 1677h5v4h-5zM252 1677h5v4h-5zM234 1681h4v4h-4zM243 1681h5v4h-5zM234 1685h4v5h-4zM215 1690h9v4h-9zM238 1690h5v4h-5zM215 1694h4v5h-4zM215 1707h4v5h-4zM187 1716h4v5h-4zM215 1716h4v5h-4zM187 1721h4v4h-4zM215 1721h4v4h-4zM140 1725h4v4h-4zM215 1725h4v4h-4zM196 1734h5v4h-5zM210 1734h5v4h-5zM205 1747h5v4h-5zM201 1765h4v4h-4zM201 1769h4v4h-4zM196 1773h5v5h-5zM158 1778h5v4h-5zM187 1778h4v4h-4zM187 1782h4v5h-4zM201 1782h4v5h-4zM182 1787h5v4h-5zM196 1787h5v4h-5zM196 1791h19v4h-19zM168 1795h5v5h-5zM177 1795h5v5h-5zM205 1795h10v5h-10zM154 1804h4v5h-4zM173 1804h4v5h-4zM182 1804h5v5h-5zM215 1804h4v5h-4zM187 1809h4v4h-4zM191 1817h5v5h-5zM191 1822h5v4h-5z"/><path fill="#009332" d="M792 1166h5v5h-5zM815 1166h5v5h-5zM562 1171h5v4h-5zM815 1171h5v4h-5zM830 1171h4v4h-4zM571 1175h5v4h-5zM553 1188h4v5h-4zM712 1188h5v5h-5zM759 1188h5v5h-5zM717 1193h5v4h-5zM759 1193h5v4h-5zM801 1193h5v4h-5zM529 1197h5v4h-5zM759 1197h5v4h-5zM801 1201h5v5h-5zM614 1206h4v4h-4zM726 1206h5v4h-5zM618 1210h5v5h-5zM712 1210h5v5h-5zM623 1219h5v4h-5zM506 1223h4v5h-4zM623 1223h5v5h-5zM825 1223h5v5h-5zM426 1232h5v5h-5zM651 1232h5v5h-5zM820 1237h5v4h-5zM581 1245h4v5h-4zM637 1245h5v5h-5zM567 1250h4v4h-4zM515 1254h5v5h-5zM543 1254h5v5h-5zM144 1259h5v4h-5zM515 1259h5v4h-5zM604 1259h10v4h-10zM684 1259h5v4h-5zM604 1263h5v4h-5zM811 1263h4v4h-4zM637 1267h5v5h-5zM632 1272h5v4h-5zM642 1272h4v4h-4zM675 1272h4v4h-4zM614 1276h4v5h-4zM618 1281h10v4h-10zM651 1281h14v4h-14zM632 1285h5v4h-5zM646 1285h5v4h-5zM604 1289h5v5h-5zM614 1289h4v5h-4zM567 1294h4v4h-4zM374 1298h5v5h-5zM510 1298h5v5h-5zM567 1298h4v5h-4zM374 1303h5v4h-5zM398 1303h9v4h-9zM618 1303h10v4h-10zM750 1303h4v4h-4zM590 1307h5v4h-5zM623 1307h5v4h-5zM764 1307h5v4h-5zM562 1311h5v5h-5zM628 1311h4v5h-4zM773 1311h5v5h-5zM356 1316h4v4h-4zM576 1316h9v4h-9zM590 1316h5v4h-5zM618 1316h5v4h-5zM191 1320h5v5h-5zM370 1320h4v5h-4zM585 1320h5v5h-5zM614 1320h4v5h-4zM168 1329h5v4h-5zM553 1333h9v5h-9zM600 1333h4v5h-4zM642 1333h4v5h-4zM374 1338h5v4h-5zM557 1338h5v4h-5zM600 1338h4v4h-4zM637 1338h5v4h-5zM196 1342h5v5h-5zM210 1342h5v5h-5zM463 1342h5v5h-5zM557 1342h5v5h-5zM600 1342h4v5h-4zM632 1342h5v5h-5zM210 1347h5v4h-5zM219 1347h5v4h-5zM398 1347h4v4h-4zM543 1347h5v4h-5zM637 1347h5v4h-5zM210 1351h5v4h-5zM384 1351h4v4h-4zM393 1351h5v4h-5zM524 1351h10v4h-10zM830 1351h4v4h-4zM529 1355h5v5h-5zM665 1355h5v5h-5zM703 1355h5v5h-5zM830 1355h4v5h-4zM323 1360h9v4h-9zM356 1360h4v4h-4zM454 1360h5v4h-5zM506 1360h4v4h-4zM529 1360h5v4h-5zM698 1360h5v4h-5zM830 1360h4v4h-4zM332 1364h14v5h-14zM379 1364h5v5h-5zM449 1364h5v5h-5zM506 1364h4v5h-4zM604 1364h5v5h-5zM656 1364h5v5h-5zM698 1364h5v5h-5zM717 1364h5v5h-5zM191 1369h5v4h-5zM327 1369h5v4h-5zM346 1369h5v4h-5zM454 1369h5v4h-5zM496 1369h5v4h-5zM600 1369h4v4h-4zM642 1369h4v4h-4zM234 1373h4v4h-4zM266 1373h5v4h-5zM459 1373h9v4h-9zM473 1373h5v4h-5zM482 1373h10v4h-10zM600 1373h4v4h-4zM266 1377h5v5h-5zM449 1377h10v5h-10zM468 1377h5v5h-5zM492 1377h14v5h-14zM332 1382h5v4h-5zM341 1382h5v4h-5zM398 1382h9v4h-9zM459 1382h4v4h-4zM600 1382h4v4h-4zM754 1382h5v4h-5zM773 1382h5v4h-5zM318 1386h14v5h-14zM398 1386h4v5h-4zM417 1386h9v5h-9zM595 1386h5v5h-5zM614 1386h4v5h-4zM703 1386h5v5h-5zM778 1386h5v5h-5zM196 1391h5v4h-5zM346 1391h5v4h-5zM417 1391h4v4h-4zM426 1391h5v4h-5zM435 1391h5v4h-5zM454 1391h5v4h-5zM618 1391h5v4h-5zM407 1395h5v4h-5zM417 1395h18v4h-18zM459 1395h4v4h-4zM478 1395h4v4h-4zM628 1395h4v4h-4zM806 1395h5v4h-5zM196 1399h5v5h-5zM388 1399h5v5h-5zM412 1399h5v5h-5zM473 1399h5v5h-5zM600 1399h4v5h-4zM769 1399h4v5h-4zM783 1399h4v5h-4zM801 1399h5v5h-5zM379 1404h5v4h-5zM388 1404h5v4h-5zM407 1404h5v4h-5zM449 1404h10v4h-10zM463 1404h10v4h-10zM628 1404h4v4h-4zM698 1404h5v4h-5zM811 1404h4v4h-4zM388 1408h5v5h-5zM398 1408h4v5h-4zM604 1408h5v5h-5zM642 1408h4v5h-4zM651 1408h5v5h-5zM661 1408h4v5h-4zM703 1408h5v5h-5zM712 1408h5v5h-5zM787 1408h10v5h-10zM811 1408h4v5h-4zM825 1408h5v5h-5zM834 1408h5v5h-5zM384 1413h4v4h-4zM646 1413h5v4h-5zM661 1413h9v4h-9zM703 1413h9v4h-9zM754 1413h5v4h-5zM764 1413h9v4h-9zM778 1413h5v4h-5zM797 1413h4v4h-4zM806 1413h5v4h-5zM618 1417h5v4h-5zM632 1417h5v4h-5zM712 1417h5v4h-5zM754 1417h5v4h-5zM783 1417h9v4h-9zM801 1417h5v4h-5zM623 1421h14v5h-14zM646 1421h15v5h-15zM679 1421h14v5h-14zM717 1421h5v5h-5zM750 1421h4v5h-4zM769 1421h9v5h-9zM661 1426h4v4h-4zM670 1426h5v4h-5zM689 1426h14v4h-14zM708 1426h9v4h-9zM736 1426h4v4h-4zM750 1426h4v4h-4zM665 1430h10v5h-10zM740 1430h10v5h-10zM656 1435h5v4h-5zM693 1435h5v4h-5zM731 1435h19v4h-19zM661 1439h9v4h-9zM750 1439h9v4h-9zM651 1443h10v5h-10zM670 1443h5v5h-5zM689 1443h4v5h-4zM698 1443h5v5h-5zM745 1443h14v5h-14zM656 1448h9v4h-9zM698 1448h5v4h-5zM726 1448h5v4h-5zM745 1448h14v4h-14zM374 1452h5v5h-5zM679 1452h5v5h-5zM722 1452h4v5h-4zM731 1452h5v5h-5zM637 1457h9v4h-9zM665 1457h5v4h-5zM675 1457h4v4h-4zM384 1461h4v4h-4zM637 1461h5v4h-5zM646 1461h5v4h-5zM708 1461h9v4h-9zM384 1470h4v4h-4zM642 1470h4v4h-4zM689 1470h23v4h-23zM651 1474h5v5h-5zM661 1474h9v5h-9zM693 1474h10v5h-10zM327 1479h5v4h-5zM379 1479h5v4h-5zM679 1479h5v4h-5zM379 1483h5v4h-5zM661 1483h4v4h-4zM384 1487h4v5h-4zM384 1492h4v4h-4zM374 1496h14v5h-14zM370 1501h4v4h-4zM393 1501h9v4h-9zM769 1501h4v4h-4zM792 1501h5v4h-5zM801 1501h10v4h-10zM370 1505h4v4h-4zM393 1505h5v4h-5zM759 1505h5v4h-5zM815 1505h5v4h-5zM393 1509h5v5h-5zM764 1509h5v5h-5zM773 1509h5v5h-5zM797 1509h4v5h-4zM820 1509h5v5h-5zM773 1514h19v4h-19zM797 1514h9v4h-9zM820 1514h5v4h-5zM374 1518h5v5h-5zM792 1518h5v5h-5zM374 1523h5v4h-5zM370 1527h9v4h-9zM370 1531h4v5h-4zM365 1536h5v4h-5zM365 1558h5v4h-5zM341 1562h5v5h-5zM341 1571h5v4h-5zM313 1575h5v5h-5zM351 1575h5v5h-5zM351 1580h5v4h-5zM351 1593h5v4h-5zM280 1597h10v5h-10zM173 1606h4v5h-4zM341 1611h5v4h-5zM304 1628h9v5h-9zM323 1628h4v5h-4zM299 1633h5v4h-5zM177 1646h5v4h-5zM276 1646h9v4h-9zM177 1650h5v5h-5zM280 1655h5v4h-5zM252 1659h5v4h-5zM266 1663h10v5h-10zM252 1668h5v4h-5zM262 1668h4v4h-4zM248 1672h4v5h-4zM229 1681h5v4h-5zM238 1681h5v4h-5zM224 1685h5v5h-5zM238 1685h5v5h-5zM210 1699h5v4h-5zM210 1703h5v4h-5zM210 1707h5v5h-5zM215 1712h4v4h-4zM210 1716h5v5h-5zM196 1721h5v4h-5zM210 1721h5v4h-5zM196 1725h9v4h-9zM210 1725h5v4h-5zM210 1729h9v5h-9zM201 1734h4v4h-4zM210 1738h5v5h-5zM210 1743h5v4h-5zM149 1747h5v4h-5zM163 1747h5v4h-5zM158 1751h5v5h-5zM201 1751h4v5h-4zM201 1760h4v5h-4zM196 1769h5v4h-5zM154 1773h4v5h-4zM173 1782h14v5h-14zM201 1787h4v4h-4zM140 1791h9v4h-9zM177 1791h5v4h-5zM154 1795h4v5h-4zM163 1795h5v5h-5zM154 1800h4v4h-4zM158 1804h5v5h-5zM177 1804h5v5h-5zM149 1809h5v4h-5zM182 1809h5v4h-5zM187 1813h4v4h-4zM135 1822h9v4h-9zM187 1822h4v4h-4zM187 1826h4v5h-4z"/><path fill="#009732" d="M825 1166h9v5h-9zM567 1171h4v4h-4zM661 1171h4v4h-4zM675 1171h4v4h-4zM820 1171h5v4h-5zM567 1175h4v4h-4zM661 1175h4v4h-4zM675 1175h4v4h-4zM815 1175h10v4h-10zM830 1175h4v4h-4zM759 1184h5v4h-5zM628 1188h4v5h-4zM623 1193h5v4h-5zM722 1193h14v4h-14zM567 1197h4v4h-4zM754 1197h5v4h-5zM825 1197h5v4h-5zM384 1201h4v5h-4zM496 1201h5v5h-5zM529 1201h5v5h-5zM614 1201h4v5h-4zM717 1201h9v5h-9zM670 1206h5v4h-5zM679 1206h5v4h-5zM623 1210h5v5h-5zM665 1210h5v5h-5zM693 1210h5v5h-5zM510 1215h5v4h-5zM623 1215h5v4h-5zM421 1219h5v4h-5zM421 1223h5v5h-5zM553 1223h4v5h-4zM703 1223h5v5h-5zM811 1223h4v5h-4zM623 1228h5v4h-5zM646 1228h5v4h-5zM815 1228h5v4h-5zM797 1232h4v5h-4zM825 1232h5v5h-5zM571 1237h5v4h-5zM801 1237h5v4h-5zM815 1237h5v4h-5zM825 1237h5v4h-5zM524 1241h10v4h-10zM815 1241h10v4h-10zM830 1241h4v4h-4zM670 1245h5v5h-5zM543 1250h10v4h-10zM562 1250h5v4h-5zM571 1250h5v4h-5zM614 1250h4v4h-4zM623 1250h5v4h-5zM773 1250h5v4h-5zM614 1254h9v5h-9zM773 1254h5v5h-5zM815 1254h5v5h-5zM510 1259h5v4h-5zM806 1259h5v4h-5zM834 1259h5v4h-5zM449 1263h5v4h-5zM515 1263h9v4h-9zM637 1263h5v4h-5zM684 1263h5v4h-5zM778 1263h5v4h-5zM600 1267h4v5h-4zM642 1267h4v5h-4zM783 1267h4v5h-4zM637 1272h5v4h-5zM646 1272h5v4h-5zM670 1272h5v4h-5zM731 1272h5v4h-5zM783 1272h9v4h-9zM815 1272h5v4h-5zM623 1276h9v5h-9zM177 1281h5v4h-5zM562 1281h5v4h-5zM834 1281h5v4h-5zM524 1285h5v4h-5zM614 1285h4v4h-4zM651 1285h14v4h-14zM703 1285h5v4h-5zM135 1289h5v5h-5zM576 1289h5v5h-5zM585 1289h5v5h-5zM825 1289h5v5h-5zM562 1294h5v4h-5zM576 1294h5v4h-5zM628 1294h4v4h-4zM398 1298h4v5h-4zM562 1298h5v5h-5zM576 1298h5v5h-5zM628 1298h4v5h-4zM642 1298h4v5h-4zM665 1298h5v5h-5zM754 1298h5v5h-5zM187 1303h4v4h-4zM370 1303h4v4h-4zM407 1303h14v4h-14zM557 1303h5v4h-5zM576 1303h5v4h-5zM609 1303h5v4h-5zM637 1303h9v4h-9zM769 1303h4v4h-4zM388 1307h5v4h-5zM595 1307h5v4h-5zM604 1307h19v4h-19zM628 1307h9v4h-9zM642 1307h4v4h-4zM759 1307h5v4h-5zM769 1307h4v4h-4zM393 1311h9v5h-9zM567 1311h4v5h-4zM576 1311h9v5h-9zM590 1311h5v5h-5zM609 1311h5v5h-5zM618 1311h5v5h-5zM632 1311h10v5h-10zM384 1316h4v4h-4zM398 1316h4v4h-4zM600 1316h4v4h-4zM614 1316h4v4h-4zM623 1316h9v4h-9zM393 1320h5v5h-5zM590 1320h5v5h-5zM600 1320h14v5h-14zM618 1320h5v5h-5zM656 1320h5v5h-5zM778 1320h5v5h-5zM792 1320h5v5h-5zM402 1325h5v4h-5zM604 1325h14v4h-14zM675 1325h4v4h-4zM370 1329h4v4h-4zM459 1329h4v4h-4zM698 1329h5v4h-5zM402 1333h5v5h-5zM637 1333h5v5h-5zM158 1338h5v4h-5zM210 1338h5v4h-5zM341 1338h5v4h-5zM356 1338h4v4h-4zM388 1338h5v4h-5zM402 1338h5v4h-5zM510 1338h5v4h-5zM219 1342h5v5h-5zM417 1342h4v5h-4zM548 1342h9v5h-9zM604 1342h5v5h-5zM769 1342h4v5h-4zM360 1347h5v4h-5zM388 1347h10v4h-10zM529 1347h5v4h-5zM224 1351h5v4h-5zM379 1351h5v4h-5zM398 1351h4v4h-4zM440 1351h5v4h-5zM534 1351h9v4h-9zM614 1351h4v4h-4zM191 1355h5v5h-5zM210 1355h5v5h-5zM224 1355h5v5h-5zM449 1355h5v5h-5zM506 1355h4v5h-4zM515 1355h9v5h-9zM670 1355h5v5h-5zM708 1355h4v5h-4zM210 1360h5v4h-5zM224 1360h5v4h-5zM332 1360h5v4h-5zM459 1360h4v4h-4zM487 1360h5v4h-5zM515 1360h5v4h-5zM712 1360h5v4h-5zM323 1364h4v5h-4zM356 1364h4v5h-4zM459 1364h14v5h-14zM482 1364h10v5h-10zM501 1364h5v5h-5zM651 1364h5v5h-5zM684 1364h5v5h-5zM712 1364h5v5h-5zM787 1364h5v5h-5zM168 1369h5v4h-5zM229 1369h5v4h-5zM266 1369h5v4h-5zM388 1369h5v4h-5zM459 1369h9v4h-9zM473 1369h5v4h-5zM482 1369h14v4h-14zM646 1369h5v4h-5zM656 1369h5v4h-5zM689 1369h4v4h-4zM834 1369h5v4h-5zM337 1373h19v4h-19zM478 1373h4v4h-4zM210 1377h5v5h-5zM238 1377h5v5h-5zM295 1377h4v5h-4zM346 1377h5v5h-5zM370 1377h9v5h-9zM398 1377h4v5h-4zM473 1377h9v5h-9zM806 1377h5v5h-5zM299 1382h5v4h-5zM323 1382h9v4h-9zM337 1382h4v4h-4zM346 1382h5v4h-5zM356 1382h4v4h-4zM374 1382h5v4h-5zM463 1382h5v4h-5zM478 1382h14v4h-14zM243 1386h5v5h-5zM295 1386h4v5h-4zM351 1386h5v5h-5zM379 1386h5v5h-5zM482 1386h5v5h-5zM618 1386h5v5h-5zM637 1386h5v5h-5zM684 1386h14v5h-14zM764 1386h5v5h-5zM398 1391h4v4h-4zM468 1391h5v4h-5zM478 1391h4v4h-4zM750 1391h4v4h-4zM811 1391h4v4h-4zM290 1395h5v4h-5zM337 1395h4v4h-4zM412 1395h5v4h-5zM435 1395h5v4h-5zM445 1395h4v4h-4zM454 1395h5v4h-5zM468 1395h5v4h-5zM600 1395h9v4h-9zM754 1395h10v4h-10zM769 1395h4v4h-4zM313 1399h5v5h-5zM379 1399h5v5h-5zM407 1399h5v5h-5zM440 1399h9v5h-9zM604 1399h5v5h-5zM618 1399h5v5h-5zM712 1399h5v5h-5zM745 1399h5v5h-5zM787 1399h10v5h-10zM820 1399h5v5h-5zM374 1404h5v4h-5zM384 1404h4v4h-4zM604 1404h5v4h-5zM614 1404h4v4h-4zM632 1404h5v4h-5zM712 1404h5v4h-5zM750 1404h4v4h-4zM759 1404h10v4h-10zM801 1404h5v4h-5zM815 1404h5v4h-5zM830 1404h9v4h-9zM384 1408h4v5h-4zM609 1408h14v5h-14zM628 1408h4v5h-4zM656 1408h5v5h-5zM665 1408h5v5h-5zM675 1408h4v5h-4zM750 1408h9v5h-9zM764 1408h9v5h-9zM797 1408h9v5h-9zM815 1408h5v5h-5zM618 1413h10v4h-10zM745 1413h9v4h-9zM759 1413h5v4h-5zM773 1413h5v4h-5zM787 1413h10v4h-10zM374 1417h10v4h-10zM623 1417h9v4h-9zM637 1417h5v4h-5zM656 1417h5v4h-5zM675 1417h4v4h-4zM750 1417h4v4h-4zM759 1417h10v4h-10zM792 1417h5v4h-5zM374 1421h5v5h-5zM637 1421h5v5h-5zM693 1421h5v5h-5zM675 1426h4v4h-4zM684 1426h5v4h-5zM717 1426h5v4h-5zM726 1426h5v4h-5zM266 1430h5v5h-5zM374 1430h5v5h-5zM679 1430h29v5h-29zM731 1430h9v5h-9zM374 1435h5v4h-5zM698 1435h5v4h-5zM722 1435h9v4h-9zM708 1439h4v4h-4zM726 1439h5v4h-5zM374 1443h5v5h-5zM712 1443h14v5h-14zM736 1443h9v5h-9zM675 1448h4v4h-4zM712 1448h14v4h-14zM740 1448h5v4h-5zM665 1452h5v5h-5zM675 1452h4v5h-4zM703 1452h5v5h-5zM708 1457h9v4h-9zM379 1461h5v4h-5zM642 1461h4v4h-4zM661 1461h14v4h-14zM318 1465h5v5h-5zM351 1465h5v5h-5zM384 1465h4v5h-4zM642 1465h4v5h-4zM684 1465h5v5h-5zM693 1465h5v5h-5zM703 1465h9v5h-9zM665 1470h5v4h-5zM684 1470h5v4h-5zM379 1474h5v5h-5zM684 1474h5v5h-5zM374 1479h5v4h-5zM332 1483h5v4h-5zM665 1483h10v4h-10zM365 1487h5v5h-5zM379 1487h5v5h-5zM374 1492h10v4h-10zM365 1496h5v5h-5zM356 1505h4v4h-4zM764 1505h5v4h-5zM783 1505h4v4h-4zM792 1505h23v4h-23zM370 1509h4v5h-4zM783 1509h4v5h-4zM792 1509h5v5h-5zM801 1509h19v5h-19zM290 1514h5v4h-5zM370 1514h4v4h-4zM806 1514h5v4h-5zM815 1514h5v4h-5zM276 1518h4v5h-4zM370 1518h4v5h-4zM773 1518h14v5h-14zM285 1523h5v4h-5zM370 1523h4v4h-4zM360 1536h5v4h-5zM365 1545h5v4h-5zM365 1553h5v5h-5zM304 1567h9v4h-9zM313 1571h5v4h-5zM351 1571h5v4h-5zM327 1589h5v4h-5zM351 1589h5v4h-5zM299 1602h5v4h-5zM341 1602h5v4h-5zM196 1606h5v5h-5zM341 1606h5v5h-5zM332 1611h5v4h-5zM337 1615h4v4h-4zM266 1619h5v5h-5zM304 1619h5v5h-5zM266 1624h5v4h-5zM304 1624h9v4h-9zM191 1628h5v5h-5zM299 1628h5v5h-5zM313 1628h10v5h-10zM295 1633h4v4h-4zM285 1637h10v4h-10zM177 1641h5v5h-5zM280 1650h5v5h-5zM201 1659h4v4h-4zM248 1659h4v4h-4zM276 1659h4v4h-4zM248 1668h4v4h-4zM257 1668h5v4h-5zM201 1677h4v4h-4zM154 1681h4v4h-4zM187 1685h4v5h-4zM219 1685h5v5h-5zM163 1690h5v4h-5zM205 1694h5v5h-5zM210 1712h5v4h-5zM163 1716h5v5h-5zM196 1716h5v5h-5zM191 1721h5v4h-5zM201 1721h4v4h-4zM168 1725h5v4h-5zM168 1729h5v5h-5zM182 1729h5v5h-5zM191 1729h5v5h-5zM201 1729h4v5h-4zM187 1734h9v4h-9zM205 1734h5v4h-5zM191 1738h10v5h-10zM205 1738h5v5h-5zM154 1743h4v4h-4zM191 1743h5v4h-5zM144 1747h5v4h-5zM144 1751h14v5h-14zM168 1751h9v5h-9zM182 1751h5v5h-5zM144 1756h5v4h-5zM158 1756h10v4h-10zM201 1756h4v4h-4zM163 1760h10v5h-10zM149 1765h5v4h-5zM154 1769h4v4h-4zM191 1773h5v5h-5zM154 1778h4v4h-4zM163 1778h5v4h-5zM182 1778h5v4h-5zM158 1782h5v5h-5zM177 1787h5v4h-5zM149 1791h5v4h-5zM163 1791h10v4h-10zM140 1795h4v5h-4zM158 1795h5v5h-5zM140 1800h14v4h-14zM158 1800h5v4h-5zM154 1809h14v4h-14zM177 1809h5v4h-5zM135 1813h5v4h-5zM154 1813h4v4h-4zM177 1813h10v4h-10zM135 1817h23v5h-23zM168 1817h23v5h-23zM130 1826h14v5h-14zM149 1826h9v5h-9z"/><path fill="#009c32" d="M557 1166h10v5h-10zM675 1166h4v5h-4zM693 1166h5v5h-5zM764 1166h9v5h-9zM520 1171h4v4h-4zM618 1171h5v4h-5zM769 1171h4v4h-4zM656 1175h5v4h-5zM571 1179h5v5h-5zM797 1179h4v5h-4zM830 1179h4v5h-4zM632 1184h10v4h-10zM708 1184h4v4h-4zM750 1184h4v4h-4zM806 1184h5v4h-5zM576 1188h5v5h-5zM534 1193h5v4h-5zM567 1193h4v4h-4zM712 1193h5v4h-5zM736 1193h4v4h-4zM754 1193h5v4h-5zM764 1193h5v4h-5zM783 1193h14v4h-14zM834 1193h5v4h-5zM618 1197h5v4h-5zM740 1197h5v4h-5zM764 1197h5v4h-5zM402 1201h5v5h-5zM492 1201h4v5h-4zM562 1201h5v5h-5zM618 1201h5v5h-5zM726 1201h5v5h-5zM515 1206h5v4h-5zM675 1206h4v4h-4zM698 1206h5v4h-5zM717 1206h9v4h-9zM614 1210h4v5h-4zM689 1210h4v5h-4zM698 1210h5v5h-5zM708 1210h4v5h-4zM510 1219h5v4h-5zM628 1219h9v4h-9zM825 1219h5v4h-5zM435 1223h5v5h-5zM548 1223h5v5h-5zM628 1223h4v5h-4zM797 1223h14v5h-14zM407 1228h5v4h-5zM421 1228h5v4h-5zM539 1228h4v4h-4zM553 1228h4v4h-4zM712 1228h5v4h-5zM797 1228h4v4h-4zM539 1232h4v5h-4zM539 1237h4v4h-4zM590 1237h5v4h-5zM703 1237h5v4h-5zM806 1237h9v4h-9zM496 1241h5v4h-5zM510 1241h5v4h-5zM534 1241h5v4h-5zM585 1241h5v4h-5zM642 1241h4v4h-4zM769 1241h4v4h-4zM825 1241h5v4h-5zM834 1241h5v4h-5zM510 1245h5v5h-5zM529 1245h5v5h-5zM656 1245h5v5h-5zM769 1245h4v5h-4zM811 1245h4v5h-4zM454 1250h9v4h-9zM539 1250h4v4h-4zM623 1254h5v5h-5zM656 1254h5v5h-5zM449 1259h5v4h-5zM520 1259h4v4h-4zM623 1259h5v4h-5zM698 1259h5v4h-5zM778 1259h5v4h-5zM801 1259h5v4h-5zM632 1263h5v4h-5zM646 1263h5v4h-5zM661 1263h4v4h-4zM374 1267h5v5h-5zM510 1267h5v5h-5zM604 1267h10v5h-10zM646 1267h5v5h-5zM675 1267h4v5h-4zM801 1267h5v5h-5zM130 1272h5v4h-5zM379 1272h5v4h-5zM388 1272h5v4h-5zM656 1272h9v4h-9zM679 1272h5v4h-5zM618 1276h5v5h-5zM646 1276h5v5h-5zM656 1276h9v5h-9zM679 1276h5v5h-5zM703 1276h5v5h-5zM717 1276h5v5h-5zM609 1281h5v4h-5zM778 1281h5v4h-5zM820 1281h5v4h-5zM412 1285h5v4h-5zM665 1285h5v4h-5zM398 1289h4v5h-4zM524 1289h5v5h-5zM581 1289h4v5h-4zM600 1289h4v5h-4zM609 1289h5v5h-5zM632 1289h10v5h-10zM792 1289h5v5h-5zM144 1294h5v4h-5zM454 1294h5v4h-5zM571 1294h5v4h-5zM632 1294h5v4h-5zM642 1294h4v4h-4zM651 1294h5v4h-5zM665 1294h5v4h-5zM515 1298h5v5h-5zM553 1298h9v5h-9zM637 1298h5v5h-5zM646 1298h10v5h-10zM670 1298h5v5h-5zM421 1303h5v4h-5zM506 1303h4v4h-4zM571 1303h5v4h-5zM581 1303h9v4h-9zM628 1303h4v4h-4zM646 1303h10v4h-10zM182 1307h5v4h-5zM393 1307h9v4h-9zM459 1307h4v4h-4zM562 1307h5v4h-5zM571 1307h10v4h-10zM637 1307h5v4h-5zM646 1307h5v4h-5zM754 1307h5v4h-5zM773 1307h5v4h-5zM149 1311h5v5h-5zM182 1311h5v5h-5zM388 1311h5v5h-5zM421 1311h5v5h-5zM600 1311h9v5h-9zM614 1311h4v5h-4zM520 1316h4v4h-4zM562 1316h5v4h-5zM585 1316h5v4h-5zM604 1316h10v4h-10zM632 1316h10v4h-10zM177 1320h5v5h-5zM365 1320h5v5h-5zM379 1320h5v5h-5zM388 1320h5v5h-5zM515 1320h9v5h-9zM562 1320h5v5h-5zM646 1320h5v5h-5zM731 1320h5v5h-5zM783 1320h4v5h-4zM173 1325h4v4h-4zM374 1325h10v4h-10zM388 1325h5v4h-5zM562 1325h5v4h-5zM618 1325h10v4h-10zM642 1325h4v4h-4zM670 1325h5v4h-5zM722 1325h9v4h-9zM384 1329h4v4h-4zM402 1329h5v4h-5zM543 1329h5v4h-5zM604 1329h5v4h-5zM632 1329h14v4h-14zM154 1333h4v5h-4zM196 1333h5v5h-5zM604 1333h5v5h-5zM646 1333h5v5h-5zM154 1338h4v4h-4zM205 1338h5v4h-5zM360 1338h5v4h-5zM393 1338h5v4h-5zM632 1338h5v4h-5zM670 1338h5v4h-5zM787 1338h5v4h-5zM327 1342h5v5h-5zM370 1342h23v5h-23zM421 1342h5v5h-5zM529 1342h5v5h-5zM539 1342h4v5h-4zM224 1347h5v4h-5zM384 1347h4v4h-4zM539 1347h4v4h-4zM600 1347h9v4h-9zM670 1347h5v4h-5zM830 1347h4v4h-4zM191 1351h5v4h-5zM360 1351h5v4h-5zM374 1351h5v4h-5zM388 1351h5v4h-5zM520 1351h4v4h-4zM609 1351h5v4h-5zM642 1351h4v4h-4zM665 1351h5v4h-5zM708 1351h4v4h-4zM726 1351h5v4h-5zM182 1355h5v5h-5zM356 1355h4v5h-4zM365 1355h5v5h-5zM379 1355h9v5h-9zM454 1355h5v5h-5zM604 1355h5v5h-5zM187 1360h9v4h-9zM201 1360h4v4h-4zM318 1360h5v4h-5zM351 1360h5v4h-5zM374 1360h10v4h-10zM449 1360h5v4h-5zM651 1360h5v4h-5zM661 1360h4v4h-4zM693 1360h5v4h-5zM374 1364h5v5h-5zM388 1364h5v5h-5zM492 1364h9v5h-9zM609 1364h5v5h-5zM661 1364h4v5h-4zM163 1369h5v4h-5zM173 1369h4v4h-4zM276 1369h4v4h-4zM323 1369h4v4h-4zM332 1369h9v4h-9zM374 1369h5v4h-5zM478 1369h4v4h-4zM604 1369h5v4h-5zM637 1369h5v4h-5zM708 1369h4v4h-4zM726 1369h5v4h-5zM773 1369h5v4h-5zM792 1369h5v4h-5zM210 1373h5v4h-5zM262 1373h4v4h-4zM327 1373h5v4h-5zM370 1373h4v4h-4zM445 1373h4v4h-4zM454 1373h5v4h-5zM646 1373h10v4h-10zM262 1377h4v5h-4zM276 1377h4v5h-4zM323 1377h9v5h-9zM337 1377h9v5h-9zM365 1377h5v5h-5zM440 1377h9v5h-9zM487 1377h5v5h-5zM604 1377h5v5h-5zM642 1377h4v5h-4zM769 1377h4v5h-4zM834 1377h5v5h-5zM187 1382h9v4h-9zM257 1382h5v4h-5zM271 1382h9v4h-9zM454 1382h5v4h-5zM468 1382h5v4h-5zM665 1382h5v4h-5zM290 1386h5v5h-5zM313 1386h5v5h-5zM356 1386h4v5h-4zM384 1386h4v5h-4zM402 1386h5v5h-5zM412 1386h5v5h-5zM426 1386h5v5h-5zM435 1386h5v5h-5zM473 1386h5v5h-5zM600 1386h4v5h-4zM708 1386h9v5h-9zM750 1386h4v5h-4zM759 1386h5v5h-5zM290 1391h5v4h-5zM332 1391h14v4h-14zM351 1391h5v4h-5zM402 1391h10v4h-10zM421 1391h5v4h-5zM440 1391h5v4h-5zM449 1391h5v4h-5zM459 1391h9v4h-9zM600 1391h9v4h-9zM623 1391h5v4h-5zM632 1391h5v4h-5zM679 1391h5v4h-5zM754 1391h10v4h-10zM783 1391h4v4h-4zM276 1395h4v4h-4zM388 1395h10v4h-10zM402 1395h5v4h-5zM440 1395h5v4h-5zM449 1395h5v4h-5zM473 1395h5v4h-5zM679 1395h10v4h-10zM708 1395h9v4h-9zM750 1395h4v4h-4zM764 1395h5v4h-5zM783 1395h14v4h-14zM820 1395h5v4h-5zM191 1399h5v5h-5zM384 1399h4v5h-4zM449 1399h19v5h-19zM614 1399h4v5h-4zM637 1399h9v5h-9zM703 1399h5v5h-5zM750 1399h14v5h-14zM797 1399h4v5h-4zM825 1399h9v5h-9zM402 1404h5v4h-5zM609 1404h5v4h-5zM642 1404h4v4h-4zM670 1404h5v4h-5zM703 1404h5v4h-5zM745 1404h5v4h-5zM754 1404h5v4h-5zM797 1404h4v4h-4zM379 1408h5v5h-5zM623 1408h5v5h-5zM632 1408h5v5h-5zM646 1408h5v5h-5zM670 1408h5v5h-5zM708 1408h4v5h-4zM745 1408h5v5h-5zM759 1408h5v5h-5zM783 1408h4v5h-4zM628 1413h4v4h-4zM656 1413h5v4h-5zM675 1413h4v4h-4zM712 1413h14v4h-14zM740 1413h5v4h-5zM783 1413h4v4h-4zM257 1417h5v4h-5zM642 1417h4v4h-4zM651 1417h5v4h-5zM684 1417h14v4h-14zM717 1417h5v4h-5zM257 1421h5v5h-5zM670 1421h9v5h-9zM374 1426h5v4h-5zM665 1426h5v4h-5zM679 1426h5v4h-5zM722 1426h4v4h-4zM745 1426h5v4h-5zM675 1430h4v5h-4zM708 1430h4v5h-4zM722 1430h9v5h-9zM708 1435h9v4h-9zM370 1439h4v4h-4zM698 1439h5v4h-5zM712 1439h14v4h-14zM703 1443h9v5h-9zM374 1448h5v4h-5zM665 1448h5v4h-5zM703 1448h5v4h-5zM332 1452h5v5h-5zM365 1452h9v5h-9zM708 1452h14v5h-14zM323 1457h4v4h-4zM346 1457h5v4h-5zM374 1461h5v4h-5zM679 1461h5v4h-5zM693 1461h10v4h-10zM675 1465h9v5h-9zM689 1465h4v5h-4zM698 1465h5v5h-5zM318 1470h5v4h-5zM646 1470h10v4h-10zM323 1474h4v5h-4zM370 1479h4v4h-4zM661 1479h4v4h-4zM670 1479h5v4h-5zM374 1483h5v4h-5zM304 1487h14v5h-14zM370 1487h4v5h-4zM318 1492h5v4h-5zM365 1492h5v4h-5zM313 1496h5v5h-5zM266 1505h5v4h-5zM778 1505h5v4h-5zM792 1514h5v4h-5zM811 1514h4v4h-4zM280 1523h5v4h-5zM290 1523h5v4h-5zM365 1531h5v5h-5zM360 1540h5v5h-5zM205 1545h5v4h-5zM332 1545h5v4h-5zM365 1549h5v4h-5zM337 1553h4v5h-4zM299 1562h10v5h-10zM346 1562h5v5h-5zM360 1567h5v4h-5zM309 1571h4v4h-4zM332 1571h5v4h-5zM219 1580h5v4h-5zM318 1580h5v4h-5zM341 1584h15v5h-15zM346 1593h5v4h-5zM299 1597h5v5h-5zM341 1597h5v5h-5zM276 1606h4v5h-4zM299 1606h5v5h-5zM337 1611h4v4h-4zM168 1615h5v4h-5zM271 1615h5v4h-5zM257 1619h9v5h-9zM299 1619h5v5h-5zM327 1619h5v5h-5zM257 1624h9v4h-9zM323 1624h4v4h-4zM257 1628h5v5h-5zM252 1633h5v4h-5zM271 1633h5v4h-5zM271 1637h5v4h-5zM187 1646h4v4h-4zM271 1646h5v4h-5zM182 1650h5v5h-5zM224 1655h5v4h-5zM276 1655h4v4h-4zM177 1659h5v4h-5zM252 1663h10v5h-10zM196 1672h5v5h-5zM243 1672h5v5h-5zM210 1677h9v4h-9zM234 1677h9v4h-9zM224 1681h5v4h-5zM215 1685h4v5h-4zM182 1690h5v4h-5zM210 1690h5v4h-5zM177 1694h5v5h-5zM210 1694h5v5h-5zM205 1699h5v4h-5zM201 1703h4v4h-4zM187 1707h4v5h-4zM205 1712h5v4h-5zM182 1716h5v5h-5zM201 1716h9v5h-9zM149 1721h5v4h-5zM163 1721h5v4h-5zM182 1721h5v4h-5zM205 1721h5v4h-5zM163 1725h5v4h-5zM182 1725h9v4h-9zM205 1725h5v4h-5zM173 1729h9v5h-9zM187 1729h4v5h-4zM205 1729h5v5h-5zM182 1734h5v4h-5zM154 1738h9v5h-9zM168 1738h5v5h-5zM187 1738h4v5h-4zM158 1743h10v4h-10zM182 1743h9v4h-9zM196 1743h5v4h-5zM205 1743h5v4h-5zM173 1747h4v4h-4zM187 1747h4v4h-4zM140 1751h4v5h-4zM163 1751h5v5h-5zM168 1756h9v4h-9zM140 1760h14v5h-14zM163 1765h10v4h-10zM196 1765h5v4h-5zM191 1769h5v4h-5zM144 1773h10v5h-10zM158 1773h5v5h-5zM163 1782h5v5h-5zM158 1787h15v4h-15zM144 1795h10v5h-10zM140 1804h4v5h-4zM144 1809h5v4h-5zM168 1809h9v4h-9zM130 1813h5v4h-5zM149 1813h5v4h-5zM158 1813h5v4h-5zM168 1813h9v4h-9zM130 1817h5v5h-5zM158 1817h10v5h-10zM130 1822h5v4h-5zM144 1822h14v4h-14zM168 1822h19v4h-19zM144 1826h5v5h-5zM158 1826h5v5h-5zM168 1826h19v5h-19z"/><path fill="#00a032" d="M567 1166h4v5h-4zM581 1166h4v5h-4zM604 1166h5v5h-5zM679 1166h14v5h-14zM722 1166h4v5h-4zM736 1166h4v5h-4zM524 1171h5v4h-5zM581 1171h9v4h-9zM745 1171h5v4h-5zM759 1171h5v4h-5zM811 1171h4v4h-4zM825 1171h5v4h-5zM834 1171h5v4h-5zM557 1175h5v4h-5zM628 1175h4v4h-4zM764 1175h5v4h-5zM557 1179h5v5h-5zM632 1179h5v5h-5zM665 1179h10v5h-10zM783 1179h4v5h-4zM792 1179h5v5h-5zM825 1179h5v5h-5zM628 1184h4v4h-4zM646 1184h5v4h-5zM745 1184h5v4h-5zM754 1184h5v4h-5zM783 1184h4v4h-4zM801 1184h5v4h-5zM830 1184h4v4h-4zM581 1188h4v5h-4zM693 1188h5v5h-5zM731 1188h9v5h-9zM745 1188h9v5h-9zM783 1188h4v5h-4zM801 1188h10v5h-10zM571 1193h5v4h-5zM708 1193h4v4h-4zM740 1193h5v4h-5zM750 1193h4v4h-4zM773 1193h10v4h-10zM797 1193h4v4h-4zM825 1193h5v4h-5zM318 1197h5v4h-5zM384 1197h4v4h-4zM581 1197h4v4h-4zM717 1197h5v4h-5zM736 1197h4v4h-4zM745 1197h9v4h-9zM783 1197h4v4h-4zM792 1197h14v4h-14zM318 1201h5v5h-5zM524 1201h5v5h-5zM581 1201h4v5h-4zM628 1201h4v5h-4zM750 1201h4v5h-4zM825 1201h5v5h-5zM520 1206h4v4h-4zM618 1206h10v4h-10zM712 1206h5v4h-5zM797 1206h4v4h-4zM515 1215h5v4h-5zM618 1215h5v4h-5zM628 1215h4v4h-4zM693 1215h5v4h-5zM825 1215h5v4h-5zM435 1219h5v4h-5zM520 1219h4v4h-4zM534 1219h5v4h-5zM562 1219h5v4h-5zM585 1219h5v4h-5zM618 1219h5v4h-5zM642 1219h4v4h-4zM661 1219h4v4h-4zM820 1219h5v4h-5zM407 1223h5v5h-5zM543 1223h5v5h-5zM618 1223h5v5h-5zM646 1223h5v5h-5zM656 1223h5v5h-5zM412 1228h5v4h-5zM426 1228h5v4h-5zM478 1228h4v4h-4zM557 1228h5v4h-5zM656 1228h5v4h-5zM421 1232h5v5h-5zM501 1232h5v5h-5zM515 1232h14v5h-14zM548 1232h9v5h-9zM571 1232h5v5h-5zM614 1232h9v5h-9zM646 1232h5v5h-5zM703 1232h5v5h-5zM811 1232h9v5h-9zM510 1237h14v4h-14zM567 1237h4v4h-4zM581 1237h4v4h-4zM642 1237h9v4h-9zM520 1241h4v4h-4zM534 1245h14v5h-14zM618 1245h10v5h-10zM642 1245h4v5h-4zM651 1245h5v5h-5zM773 1245h5v5h-5zM506 1250h4v4h-4zM515 1250h9v4h-9zM534 1250h5v4h-5zM553 1250h4v4h-4zM576 1250h5v4h-5zM628 1250h9v4h-9zM642 1250h19v4h-19zM670 1250h5v4h-5zM684 1250h5v4h-5zM769 1250h4v4h-4zM468 1254h5v5h-5zM506 1254h4v5h-4zM520 1254h4v5h-4zM539 1254h4v5h-4zM548 1254h5v5h-5zM604 1254h5v5h-5zM628 1254h4v5h-4zM637 1254h9v5h-9zM661 1254h4v5h-4zM679 1254h5v5h-5zM820 1254h10v5h-10zM524 1259h5v4h-5zM539 1259h9v4h-9zM614 1259h4v4h-4zM628 1259h14v4h-14zM656 1259h9v4h-9zM693 1259h5v4h-5zM130 1263h5v4h-5zM379 1263h5v4h-5zM510 1263h5v4h-5zM524 1263h5v4h-5zM595 1263h9v4h-9zM628 1263h4v4h-4zM642 1263h4v4h-4zM651 1263h5v4h-5zM665 1263h5v4h-5zM675 1263h9v4h-9zM689 1263h4v4h-4zM792 1263h19v4h-19zM158 1267h5v5h-5zM449 1267h10v5h-10zM492 1267h4v5h-4zM515 1267h5v5h-5zM595 1267h5v5h-5zM632 1267h5v5h-5zM651 1267h5v5h-5zM661 1267h14v5h-14zM708 1267h4v5h-4zM806 1267h14v5h-14zM384 1272h4v4h-4zM501 1272h5v4h-5zM539 1272h4v4h-4zM600 1272h4v4h-4zM623 1272h9v4h-9zM778 1272h5v4h-5zM173 1276h4v5h-4zM501 1276h5v5h-5zM524 1276h15v5h-15zM543 1276h14v5h-14zM609 1276h5v5h-5zM632 1276h5v5h-5zM670 1276h5v5h-5zM684 1276h5v5h-5zM736 1276h4v5h-4zM778 1276h5v5h-5zM815 1276h5v5h-5zM351 1281h5v4h-5zM515 1281h5v4h-5zM646 1281h5v4h-5zM665 1281h5v4h-5zM703 1281h5v4h-5zM196 1285h5v4h-5zM520 1285h4v4h-4zM562 1285h5v4h-5zM609 1285h5v4h-5zM689 1285h4v4h-4zM778 1285h5v4h-5zM792 1285h5v4h-5zM515 1289h5v5h-5zM562 1289h5v5h-5zM642 1289h4v5h-4zM651 1289h5v5h-5zM754 1289h5v5h-5zM787 1289h5v5h-5zM834 1289h5v5h-5zM585 1294h5v4h-5zM600 1294h9v4h-9zM637 1294h5v4h-5zM646 1294h5v4h-5zM656 1294h5v4h-5zM149 1298h5v5h-5zM571 1298h5v5h-5zM581 1298h9v5h-9zM632 1298h5v5h-5zM656 1298h9v5h-9zM675 1298h4v5h-4zM182 1303h5v4h-5zM191 1303h5v4h-5zM388 1303h10v4h-10zM562 1303h5v4h-5zM604 1303h5v4h-5zM632 1303h5v4h-5zM665 1303h5v4h-5zM764 1303h5v4h-5zM773 1303h5v4h-5zM149 1307h5v4h-5zM187 1307h4v4h-4zM506 1307h4v4h-4zM567 1307h4v4h-4zM600 1307h4v4h-4zM651 1307h5v4h-5zM670 1307h5v4h-5zM750 1307h4v4h-4zM168 1311h5v5h-5zM426 1311h5v5h-5zM449 1311h5v5h-5zM459 1311h4v5h-4zM585 1311h5v5h-5zM642 1311h4v5h-4zM670 1311h9v5h-9zM759 1311h5v5h-5zM769 1311h4v5h-4zM168 1316h9v4h-9zM182 1316h5v4h-5zM196 1316h5v4h-5zM374 1316h5v4h-5zM412 1316h14v4h-14zM510 1316h5v4h-5zM642 1316h4v4h-4zM769 1316h4v4h-4zM356 1320h9v5h-9zM384 1320h4v5h-4zM398 1320h4v5h-4zM459 1320h4v5h-4zM623 1320h23v5h-23zM670 1320h5v5h-5zM811 1320h9v5h-9zM191 1325h5v4h-5zM370 1325h4v4h-4zM393 1325h5v4h-5zM459 1325h4v4h-4zM501 1325h5v4h-5zM515 1325h5v4h-5zM628 1325h14v4h-14zM651 1325h5v4h-5zM787 1325h5v4h-5zM815 1325h5v4h-5zM196 1329h5v4h-5zM388 1329h5v4h-5zM449 1329h5v4h-5zM520 1329h9v4h-9zM557 1329h5v4h-5zM609 1329h9v4h-9zM623 1329h5v4h-5zM675 1329h4v4h-4zM750 1329h4v4h-4zM163 1333h5v5h-5zM360 1333h5v5h-5zM370 1333h4v5h-4zM384 1333h18v5h-18zM492 1333h4v5h-4zM524 1333h5v5h-5zM609 1333h9v5h-9zM215 1338h4v4h-4zM346 1338h10v4h-10zM407 1338h5v4h-5zM604 1338h5v4h-5zM642 1338h4v4h-4zM783 1338h4v4h-4zM215 1342h4v5h-4zM393 1342h14v5h-14zM412 1342h5v5h-5zM426 1342h5v5h-5zM435 1342h5v5h-5zM496 1342h5v5h-5zM510 1342h5v5h-5zM543 1342h5v5h-5zM637 1342h5v5h-5zM665 1342h10v5h-10zM773 1342h10v5h-10zM327 1347h5v4h-5zM374 1347h10v4h-10zM431 1347h4v4h-4zM463 1347h5v4h-5zM492 1347h9v4h-9zM693 1347h5v4h-5zM370 1351h4v4h-4zM431 1351h4v4h-4zM463 1351h5v4h-5zM496 1351h5v4h-5zM712 1351h5v4h-5zM754 1351h5v4h-5zM177 1355h5v5h-5zM187 1355h4v5h-4zM313 1355h5v5h-5zM327 1355h5v5h-5zM351 1355h5v5h-5zM370 1355h9v5h-9zM459 1355h4v5h-4zM468 1355h14v5h-14zM487 1355h14v5h-14zM614 1355h4v5h-4zM637 1355h5v5h-5zM646 1355h15v5h-15zM689 1355h4v5h-4zM726 1355h5v5h-5zM196 1360h5v4h-5zM205 1360h5v4h-5zM234 1360h4v4h-4zM243 1360h9v4h-9zM337 1360h4v4h-4zM346 1360h5v4h-5zM360 1360h10v4h-10zM468 1360h10v4h-10zM482 1360h5v4h-5zM492 1360h14v4h-14zM614 1360h4v4h-4zM637 1360h5v4h-5zM646 1360h5v4h-5zM665 1360h5v4h-5zM708 1360h4v4h-4zM825 1360h5v4h-5zM834 1360h5v4h-5zM168 1364h5v5h-5zM191 1364h5v5h-5zM224 1364h5v5h-5zM445 1364h4v5h-4zM473 1364h9v5h-9zM614 1364h4v5h-4zM632 1364h10v5h-10zM646 1364h5v5h-5zM708 1364h4v5h-4zM736 1364h4v5h-4zM820 1364h14v5h-14zM224 1369h5v4h-5zM252 1369h5v4h-5zM271 1369h5v4h-5zM341 1369h5v4h-5zM356 1369h4v4h-4zM445 1369h4v4h-4zM609 1369h5v4h-5zM670 1369h5v4h-5zM712 1369h5v4h-5zM722 1369h4v4h-4zM820 1369h14v4h-14zM276 1373h4v4h-4zM332 1373h5v4h-5zM356 1373h9v4h-9zM440 1373h5v4h-5zM604 1373h5v4h-5zM773 1373h5v4h-5zM811 1373h4v4h-4zM830 1373h9v4h-9zM187 1377h4v5h-4zM196 1377h5v5h-5zM205 1377h5v5h-5zM332 1377h5v5h-5zM356 1377h4v5h-4zM435 1377h5v5h-5zM618 1377h14v5h-14zM173 1382h4v4h-4zM182 1382h5v4h-5zM196 1382h5v4h-5zM234 1382h4v4h-4zM243 1382h5v4h-5zM266 1382h5v4h-5zM426 1382h5v4h-5zM440 1382h5v4h-5zM604 1382h5v4h-5zM618 1382h5v4h-5zM750 1382h4v4h-4zM801 1382h5v4h-5zM825 1382h5v4h-5zM834 1382h5v4h-5zM187 1386h4v5h-4zM196 1386h5v5h-5zM299 1386h5v5h-5zM341 1386h10v5h-10zM431 1386h4v5h-4zM440 1386h5v5h-5zM468 1386h5v5h-5zM604 1386h10v5h-10zM632 1386h5v5h-5zM670 1386h9v5h-9zM717 1386h5v5h-5zM754 1386h5v5h-5zM811 1386h4v5h-4zM825 1386h5v5h-5zM243 1391h5v4h-5zM276 1391h4v4h-4zM313 1391h5v4h-5zM327 1391h5v4h-5zM384 1391h4v4h-4zM445 1391h4v4h-4zM609 1391h5v4h-5zM628 1391h4v4h-4zM675 1391h4v4h-4zM703 1391h9v4h-9zM740 1391h5v4h-5zM764 1391h5v4h-5zM787 1391h5v4h-5zM806 1391h5v4h-5zM820 1391h10v4h-10zM313 1395h5v4h-5zM398 1395h4v4h-4zM609 1395h14v4h-14zM642 1395h4v4h-4zM745 1395h5v4h-5zM801 1395h5v4h-5zM815 1395h5v4h-5zM825 1395h9v4h-9zM374 1399h5v5h-5zM609 1399h5v5h-5zM679 1399h14v5h-14zM834 1399h5v5h-5zM201 1404h4v4h-4zM318 1404h5v4h-5zM398 1404h4v4h-4zM651 1404h5v4h-5zM665 1404h5v4h-5zM675 1404h4v4h-4zM693 1404h5v4h-5zM740 1404h5v4h-5zM637 1408h5v5h-5zM698 1408h5v5h-5zM722 1408h4v5h-4zM379 1413h5v4h-5zM632 1413h14v4h-14zM651 1413h5v4h-5zM670 1413h5v4h-5zM736 1413h4v4h-4zM679 1417h5v4h-5zM703 1417h5v4h-5zM736 1417h4v4h-4zM661 1421h9v5h-9zM740 1421h10v5h-10zM257 1426h9v4h-9zM740 1426h5v4h-5zM262 1430h4v5h-4zM712 1430h10v5h-10zM262 1435h14v4h-14zM370 1435h4v4h-4zM703 1435h5v4h-5zM717 1435h5v4h-5zM703 1439h5v4h-5zM370 1443h4v5h-4zM670 1448h5v4h-5zM708 1448h4v4h-4zM360 1452h5v5h-5zM360 1457h14v4h-14zM689 1461h4v4h-4zM703 1461h5v4h-5zM323 1465h4v5h-4zM379 1465h5v5h-5zM646 1465h15v5h-15zM665 1465h5v5h-5zM295 1470h4v4h-4zM656 1470h5v4h-5zM670 1470h14v4h-14zM299 1474h5v5h-5zM374 1474h5v5h-5zM675 1474h9v5h-9zM370 1483h4v4h-4zM332 1487h5v5h-5zM356 1487h9v5h-9zM374 1487h5v5h-5zM313 1492h5v4h-5zM309 1496h4v5h-4zM360 1496h5v5h-5zM318 1501h5v4h-5zM365 1505h5v4h-5zM295 1509h4v5h-4zM360 1514h10v4h-10zM346 1527h5v4h-5zM365 1527h5v4h-5zM332 1549h5v4h-5zM341 1558h5v4h-5zM360 1558h5v4h-5zM327 1567h5v4h-5zM337 1567h4v4h-4zM182 1571h5v4h-5zM304 1571h5v4h-5zM327 1571h5v4h-5zM224 1575h5v5h-5zM309 1575h4v5h-4zM318 1575h5v5h-5zM332 1575h9v5h-9zM182 1580h5v4h-5zM304 1580h5v4h-5zM341 1580h5v4h-5zM304 1584h5v5h-5zM337 1584h4v5h-4zM173 1589h4v4h-4zM332 1589h5v4h-5zM280 1593h5v4h-5zM299 1593h5v4h-5zM337 1597h4v5h-4zM173 1602h4v4h-4zM196 1602h5v4h-5zM280 1602h5v4h-5zM290 1602h9v4h-9zM168 1611h5v4h-5zM276 1611h4v4h-4zM295 1611h4v4h-4zM196 1615h5v4h-5zM257 1615h14v4h-14zM299 1615h10v4h-10zM327 1615h5v4h-5zM168 1619h5v5h-5zM187 1619h4v5h-4zM271 1619h19v5h-19zM309 1619h4v5h-4zM163 1624h5v4h-5zM187 1624h4v4h-4zM276 1624h9v4h-9zM299 1624h5v4h-5zM252 1628h5v5h-5zM295 1628h4v5h-4zM248 1633h4v4h-4zM257 1633h5v4h-5zM290 1633h5v4h-5zM163 1637h5v4h-5zM187 1637h4v4h-4zM243 1637h5v4h-5zM280 1637h5v4h-5zM271 1641h5v5h-5zM182 1646h5v4h-5zM187 1650h4v5h-4zM262 1650h18v5h-18zM177 1655h5v4h-5zM262 1655h4v4h-4zM257 1659h5v4h-5zM266 1659h10v4h-10zM248 1663h4v5h-4zM196 1668h5v4h-5zM219 1668h5v4h-5zM224 1672h5v5h-5zM238 1672h5v5h-5zM205 1677h5v4h-5zM158 1685h10v5h-10zM144 1694h5v5h-5zM168 1694h5v5h-5zM201 1694h4v5h-4zM196 1699h9v4h-9zM149 1703h5v4h-5zM205 1703h5v4h-5zM201 1707h9v5h-9zM158 1712h5v4h-5zM191 1712h14v4h-14zM191 1716h5v5h-5zM168 1721h5v4h-5zM149 1734h9v4h-9zM163 1734h19v4h-19zM163 1738h5v5h-5zM182 1738h5v5h-5zM144 1743h5v4h-5zM168 1743h9v4h-9zM140 1747h4v4h-4zM168 1747h5v4h-5zM177 1747h10v4h-10zM177 1751h5v5h-5zM187 1751h4v5h-4zM130 1756h5v4h-5zM140 1756h4v4h-4zM149 1756h9v4h-9zM177 1756h5v4h-5zM154 1760h9v5h-9zM196 1760h5v5h-5zM130 1765h5v4h-5zM140 1765h4v4h-4zM191 1765h5v4h-5zM140 1769h14v4h-14zM130 1773h5v5h-5zM140 1773h4v5h-4zM163 1773h5v5h-5zM187 1773h4v5h-4zM130 1778h5v4h-5zM177 1778h5v4h-5zM135 1787h5v4h-5zM149 1787h5v4h-5zM135 1791h5v4h-5zM158 1791h5v4h-5zM135 1795h5v5h-5zM135 1804h5v5h-5zM130 1809h14v4h-14zM140 1813h4v4h-4zM163 1813h5v4h-5zM158 1822h10v4h-10zM163 1826h5v5h-5z"/><path fill="#00a635" d="M520 1166h9v5h-9zM703 1166h9v5h-9zM726 1166h10v5h-10zM811 1166h4v5h-4zM557 1171h5v4h-5zM571 1171h5v4h-5zM623 1171h9v4h-9zM665 1171h5v4h-5zM703 1171h5v4h-5zM736 1171h9v4h-9zM764 1171h5v4h-5zM787 1171h5v4h-5zM801 1171h5v4h-5zM553 1175h4v4h-4zM576 1175h5v4h-5zM618 1175h10v4h-10zM665 1175h5v4h-5zM722 1175h4v4h-4zM759 1175h5v4h-5zM769 1175h9v4h-9zM811 1175h4v4h-4zM825 1175h5v4h-5zM379 1179h5v5h-5zM576 1179h5v5h-5zM684 1179h5v5h-5zM750 1179h4v5h-4zM801 1179h10v5h-10zM820 1179h5v5h-5zM548 1184h5v4h-5zM581 1184h4v4h-4zM642 1184h4v4h-4zM693 1184h5v4h-5zM764 1184h5v4h-5zM726 1188h5v5h-5zM740 1188h5v5h-5zM754 1188h5v5h-5zM773 1188h5v5h-5zM830 1188h4v5h-4zM304 1193h5v4h-5zM539 1193h4v4h-4zM576 1193h5v4h-5zM628 1193h4v4h-4zM665 1193h5v4h-5zM679 1193h5v4h-5zM745 1193h5v4h-5zM769 1193h4v4h-4zM806 1193h5v4h-5zM830 1193h4v4h-4zM524 1197h5v4h-5zM562 1197h5v4h-5zM628 1197h4v4h-4zM665 1197h5v4h-5zM722 1197h4v4h-4zM731 1197h5v4h-5zM773 1197h10v4h-10zM787 1197h5v4h-5zM806 1197h5v4h-5zM830 1197h4v4h-4zM459 1201h4v5h-4zM501 1201h5v5h-5zM510 1201h14v5h-14zM623 1201h5v5h-5zM632 1201h5v5h-5zM698 1201h5v5h-5zM745 1201h5v5h-5zM773 1201h5v5h-5zM402 1206h5v4h-5zM501 1206h5v4h-5zM510 1206h5v4h-5zM534 1206h5v4h-5zM562 1206h9v4h-9zM600 1206h4v4h-4zM628 1206h4v4h-4zM773 1206h5v4h-5zM506 1210h4v5h-4zM515 1210h5v5h-5zM628 1210h4v5h-4zM670 1210h5v5h-5zM773 1210h5v5h-5zM792 1210h5v5h-5zM825 1210h5v5h-5zM421 1215h5v4h-5zM506 1215h4v4h-4zM520 1215h4v4h-4zM553 1215h9v4h-9zM614 1215h4v4h-4zM661 1215h14v4h-14zM801 1215h5v4h-5zM830 1215h4v4h-4zM506 1219h4v4h-4zM539 1219h4v4h-4zM553 1219h4v4h-4zM651 1219h5v4h-5zM440 1223h5v5h-5zM501 1223h5v5h-5zM510 1223h14v5h-14zM539 1223h4v5h-4zM567 1223h14v5h-14zM585 1223h5v5h-5zM600 1223h9v5h-9zM614 1223h4v5h-4zM661 1223h4v5h-4zM684 1223h5v5h-5zM830 1223h4v5h-4zM417 1228h4v4h-4zM435 1228h5v4h-5zM515 1228h9v4h-9zM548 1228h5v4h-5zM567 1228h4v4h-4zM581 1228h4v4h-4zM590 1228h5v4h-5zM614 1228h9v4h-9zM632 1228h14v4h-14zM708 1228h4v4h-4zM801 1228h5v4h-5zM417 1232h4v5h-4zM463 1232h5v5h-5zM510 1232h5v5h-5zM543 1232h5v5h-5zM557 1232h5v5h-5zM567 1232h4v5h-4zM590 1232h10v5h-10zM609 1232h5v5h-5zM623 1232h5v5h-5zM637 1232h9v5h-9zM656 1232h5v5h-5zM764 1232h5v5h-5zM801 1232h5v5h-5zM524 1237h5v4h-5zM562 1237h5v4h-5zM576 1237h5v4h-5zM604 1237h10v4h-10zM618 1237h5v4h-5zM632 1237h5v4h-5zM656 1237h5v4h-5zM797 1237h4v4h-4zM468 1241h5v4h-5zM506 1241h4v4h-4zM543 1241h5v4h-5zM562 1241h5v4h-5zM571 1241h5v4h-5zM581 1241h4v4h-4zM609 1241h5v4h-5zM637 1241h5v4h-5zM646 1241h5v4h-5zM773 1241h5v4h-5zM806 1241h5v4h-5zM135 1245h5v5h-5zM445 1245h4v5h-4zM487 1245h5v5h-5zM506 1245h4v5h-4zM515 1245h5v5h-5zM562 1245h5v5h-5zM585 1245h5v5h-5zM600 1245h4v5h-4zM632 1245h5v5h-5zM646 1245h5v5h-5zM661 1245h9v5h-9zM684 1245h9v5h-9zM501 1250h5v4h-5zM524 1250h10v4h-10zM557 1250h5v4h-5zM600 1250h4v4h-4zM637 1250h5v4h-5zM661 1250h9v4h-9zM811 1250h4v4h-4zM830 1250h4v4h-4zM144 1254h5v5h-5zM313 1254h5v5h-5zM501 1254h5v5h-5zM524 1254h5v5h-5zM534 1254h5v5h-5zM557 1254h5v5h-5zM632 1254h5v5h-5zM646 1254h10v5h-10zM665 1254h14v5h-14zM684 1254h5v5h-5zM811 1254h4v5h-4zM830 1254h4v5h-4zM168 1259h5v4h-5zM642 1259h4v4h-4zM651 1259h5v4h-5zM665 1259h14v4h-14zM773 1259h5v4h-5zM811 1259h4v4h-4zM299 1263h5v4h-5zM384 1263h4v4h-4zM445 1263h4v4h-4zM454 1263h9v4h-9zM590 1263h5v4h-5zM609 1263h5v4h-5zM656 1263h5v4h-5zM754 1263h5v4h-5zM783 1263h9v4h-9zM370 1267h4v5h-4zM445 1267h4v5h-4zM496 1267h14v5h-14zM520 1267h4v5h-4zM614 1267h4v5h-4zM628 1267h4v5h-4zM656 1267h5v5h-5zM684 1267h5v5h-5zM496 1272h5v4h-5zM534 1272h5v4h-5zM543 1272h5v4h-5zM581 1272h9v4h-9zM609 1272h14v4h-14zM651 1272h5v4h-5zM665 1272h5v4h-5zM154 1276h4v5h-4zM201 1276h4v5h-4zM374 1276h5v5h-5zM459 1276h4v5h-4zM496 1276h5v5h-5zM642 1276h4v5h-4zM665 1276h5v5h-5zM675 1276h4v5h-4zM769 1276h4v5h-4zM801 1276h5v5h-5zM834 1276h5v5h-5zM412 1281h5v4h-5zM463 1281h5v4h-5zM496 1281h5v4h-5zM520 1281h4v4h-4zM632 1281h14v4h-14zM684 1281h9v4h-9zM769 1281h4v4h-4zM792 1281h5v4h-5zM407 1285h5v4h-5zM529 1285h10v4h-10zM581 1285h4v4h-4zM590 1285h5v4h-5zM754 1285h5v4h-5zM834 1285h5v4h-5zM144 1289h10v5h-10zM177 1289h5v5h-5zM539 1289h4v5h-4zM590 1289h5v5h-5zM646 1289h5v5h-5zM656 1289h5v5h-5zM665 1289h5v5h-5zM684 1289h5v5h-5zM783 1289h4v5h-4zM820 1289h5v5h-5zM398 1294h4v4h-4zM449 1294h5v4h-5zM478 1294h4v4h-4zM487 1294h5v4h-5zM557 1294h5v4h-5zM581 1294h4v4h-4zM595 1294h5v4h-5zM670 1294h5v4h-5zM754 1294h5v4h-5zM825 1294h5v4h-5zM407 1298h5v5h-5zM417 1298h4v5h-4zM590 1298h19v5h-19zM130 1303h5v4h-5zM384 1303h4v4h-4zM524 1303h5v4h-5zM595 1303h9v4h-9zM670 1303h5v4h-5zM754 1303h5v4h-5zM806 1303h5v4h-5zM191 1307h5v4h-5zM384 1307h4v4h-4zM417 1307h9v4h-9zM431 1307h4v4h-4zM524 1307h5v4h-5zM581 1307h9v4h-9zM656 1307h5v4h-5zM154 1311h14v5h-14zM173 1311h4v5h-4zM351 1311h5v5h-5zM384 1311h4v5h-4zM407 1311h14v5h-14zM506 1311h4v5h-4zM646 1311h5v5h-5zM656 1311h5v5h-5zM665 1311h5v5h-5zM679 1311h10v5h-10zM754 1311h5v5h-5zM764 1311h5v5h-5zM158 1316h5v4h-5zM177 1316h5v4h-5zM351 1316h5v4h-5zM360 1316h5v4h-5zM370 1316h4v4h-4zM379 1316h5v4h-5zM407 1316h5v4h-5zM426 1316h5v4h-5zM501 1316h5v4h-5zM646 1316h5v4h-5zM661 1316h14v4h-14zM778 1316h5v4h-5zM801 1316h5v4h-5zM182 1320h9v5h-9zM402 1320h5v5h-5zM412 1320h5v5h-5zM454 1320h5v5h-5zM661 1320h4v5h-4zM773 1320h5v5h-5zM787 1320h5v5h-5zM163 1325h5v4h-5zM177 1325h5v4h-5zM365 1325h5v4h-5zM384 1325h4v4h-4zM398 1325h4v4h-4zM407 1325h5v4h-5zM417 1325h4v4h-4zM520 1325h4v4h-4zM731 1325h5v4h-5zM163 1329h5v4h-5zM177 1329h5v4h-5zM393 1329h9v4h-9zM426 1329h5v4h-5zM501 1329h5v4h-5zM515 1329h5v4h-5zM618 1329h5v4h-5zM628 1329h4v4h-4zM670 1329h5v4h-5zM754 1329h10v4h-10zM834 1329h5v4h-5zM356 1333h4v5h-4zM374 1333h5v5h-5zM449 1333h5v5h-5zM510 1333h5v5h-5zM632 1333h5v5h-5zM670 1333h5v5h-5zM745 1333h19v5h-19zM792 1333h5v5h-5zM196 1338h9v4h-9zM262 1338h4v4h-4zM370 1338h4v4h-4zM379 1338h9v4h-9zM398 1338h4v4h-4zM431 1338h4v4h-4zM501 1338h5v4h-5zM548 1338h5v4h-5zM665 1338h5v4h-5zM698 1338h5v4h-5zM834 1338h5v4h-5zM205 1342h5v5h-5zM262 1342h4v5h-4zM356 1342h14v5h-14zM407 1342h5v5h-5zM431 1342h4v5h-4zM501 1342h9v5h-9zM609 1342h5v5h-5zM628 1342h4v5h-4zM642 1342h4v5h-4zM215 1347h4v4h-4zM262 1347h4v4h-4zM332 1347h19v4h-19zM365 1347h9v4h-9zM426 1347h5v4h-5zM435 1347h5v4h-5zM520 1347h9v4h-9zM534 1347h5v4h-5zM609 1347h5v4h-5zM632 1347h5v4h-5zM642 1347h4v4h-4zM651 1347h10v4h-10zM665 1347h5v4h-5zM679 1347h5v4h-5zM717 1347h5v4h-5zM769 1347h4v4h-4zM196 1351h5v4h-5zM229 1351h5v4h-5zM327 1351h5v4h-5zM337 1351h19v4h-19zM365 1351h5v4h-5zM478 1351h9v4h-9zM637 1351h5v4h-5zM651 1351h10v4h-10zM689 1351h9v4h-9zM703 1351h5v4h-5zM173 1355h4v5h-4zM196 1355h5v5h-5zM215 1355h4v5h-4zM229 1355h5v5h-5zM243 1355h9v5h-9zM318 1355h5v5h-5zM337 1355h4v5h-4zM346 1355h5v5h-5zM393 1355h5v5h-5zM482 1355h5v5h-5zM501 1355h5v5h-5zM661 1355h4v5h-4zM693 1355h5v5h-5zM834 1355h5v5h-5zM168 1360h9v4h-9zM215 1360h9v4h-9zM229 1360h5v4h-5zM238 1360h5v4h-5zM313 1360h5v4h-5zM370 1360h4v4h-4zM384 1360h4v4h-4zM445 1360h4v4h-4zM478 1360h4v4h-4zM623 1360h14v4h-14zM656 1360h5v4h-5zM684 1360h9v4h-9zM722 1360h9v4h-9zM820 1360h5v4h-5zM187 1364h4v5h-4zM219 1364h5v5h-5zM234 1364h4v5h-4zM243 1364h9v5h-9zM299 1364h10v5h-10zM318 1364h5v5h-5zM689 1364h9v5h-9zM731 1364h5v5h-5zM783 1364h4v5h-4zM811 1364h9v5h-9zM834 1364h5v5h-5zM182 1369h9v4h-9zM219 1369h5v4h-5zM234 1369h4v4h-4zM299 1369h5v4h-5zM360 1369h5v4h-5zM379 1369h9v4h-9zM614 1369h4v4h-4zM632 1369h5v4h-5zM665 1369h5v4h-5zM693 1369h5v4h-5zM168 1373h9v4h-9zM196 1373h14v4h-14zM229 1373h5v4h-5zM238 1373h5v4h-5zM299 1373h5v4h-5zM365 1373h5v4h-5zM374 1373h5v4h-5zM398 1373h4v4h-4zM609 1373h9v4h-9zM628 1373h18v4h-18zM656 1373h5v4h-5zM689 1373h4v4h-4zM797 1373h4v4h-4zM806 1373h5v4h-5zM815 1373h10v4h-10zM173 1377h4v5h-4zM191 1377h5v5h-5zM234 1377h4v5h-4zM243 1377h5v5h-5zM257 1377h5v5h-5zM271 1377h5v5h-5zM280 1377h5v5h-5zM304 1377h5v5h-5zM318 1377h5v5h-5zM360 1377h5v5h-5zM407 1377h5v5h-5zM417 1377h9v5h-9zM609 1377h9v5h-9zM632 1377h5v5h-5zM703 1377h5v5h-5zM745 1377h5v5h-5zM764 1377h5v5h-5zM773 1377h5v5h-5zM811 1377h23v5h-23zM201 1382h18v4h-18zM229 1382h5v4h-5zM238 1382h5v4h-5zM262 1382h4v4h-4zM280 1382h15v4h-15zM304 1382h5v4h-5zM318 1382h5v4h-5zM379 1382h5v4h-5zM417 1382h9v4h-9zM435 1382h5v4h-5zM445 1382h9v4h-9zM473 1382h5v4h-5zM614 1382h4v4h-4zM623 1382h14v4h-14zM693 1382h5v4h-5zM778 1382h5v4h-5zM811 1382h4v4h-4zM820 1382h5v4h-5zM830 1382h4v4h-4zM168 1386h9v5h-9zM191 1386h5v5h-5zM276 1386h14v5h-14zM304 1386h5v5h-5zM370 1386h9v5h-9zM388 1386h5v5h-5zM407 1386h5v5h-5zM445 1386h4v5h-4zM454 1386h9v5h-9zM623 1386h9v5h-9zM679 1386h5v5h-5zM722 1386h9v5h-9zM783 1386h4v5h-4zM801 1386h10v5h-10zM820 1386h5v5h-5zM834 1386h5v5h-5zM168 1391h5v4h-5zM304 1391h5v4h-5zM388 1391h10v4h-10zM473 1391h5v4h-5zM614 1391h4v4h-4zM637 1391h9v4h-9zM689 1391h4v4h-4zM698 1391h5v4h-5zM712 1391h5v4h-5zM745 1391h5v4h-5zM792 1391h5v4h-5zM801 1391h5v4h-5zM830 1391h9v4h-9zM191 1395h10v4h-10zM271 1395h5v4h-5zM280 1395h5v4h-5zM323 1395h14v4h-14zM637 1395h5v4h-5zM656 1395h5v4h-5zM689 1395h4v4h-4zM703 1395h5v4h-5zM740 1395h5v4h-5zM797 1395h4v4h-4zM834 1395h5v4h-5zM168 1399h5v5h-5zM290 1399h5v5h-5zM337 1399h4v5h-4zM370 1399h4v5h-4zM393 1399h5v5h-5zM646 1399h5v5h-5zM661 1399h9v5h-9zM675 1399h4v5h-4zM740 1399h5v5h-5zM271 1404h5v4h-5zM280 1404h5v4h-5zM290 1404h5v4h-5zM332 1404h5v4h-5zM393 1404h5v4h-5zM646 1404h5v4h-5zM661 1404h4v4h-4zM689 1404h4v4h-4zM708 1404h4v4h-4zM717 1404h9v4h-9zM370 1408h9v5h-9zM693 1408h5v5h-5zM717 1408h5v5h-5zM740 1408h5v5h-5zM219 1413h5v4h-5zM234 1413h4v4h-4zM351 1413h5v4h-5zM374 1413h5v4h-5zM689 1413h14v4h-14zM370 1417h4v4h-4zM722 1417h4v4h-4zM740 1417h10v4h-10zM370 1421h4v5h-4zM722 1421h4v5h-4zM731 1421h5v5h-5zM224 1426h5v4h-5zM370 1426h4v4h-4zM356 1439h4v4h-4zM356 1448h4v4h-4zM370 1448h4v4h-4zM337 1452h4v5h-4zM318 1461h5v4h-5zM684 1461h5v4h-5zM295 1465h14v5h-14zM356 1465h4v5h-4zM661 1465h4v5h-4zM670 1465h5v5h-5zM356 1470h4v4h-4zM379 1470h5v4h-5zM661 1470h4v4h-4zM309 1474h9v5h-9zM337 1474h9v5h-9zM309 1479h9v4h-9zM337 1479h4v4h-4zM356 1479h9v4h-9zM665 1479h5v4h-5zM285 1483h5v4h-5zM356 1483h9v4h-9zM337 1487h4v5h-4zM295 1492h4v4h-4zM323 1492h4v4h-4zM318 1496h5v5h-5zM356 1496h4v5h-4zM360 1501h5v4h-5zM295 1505h9v4h-9zM351 1505h5v4h-5zM360 1505h5v4h-5zM271 1509h5v5h-5zM365 1509h5v5h-5zM356 1514h4v4h-4zM356 1518h14v5h-14zM356 1523h4v4h-4zM360 1527h5v4h-5zM332 1531h5v5h-5zM360 1531h5v5h-5zM346 1536h5v4h-5zM356 1536h4v4h-4zM332 1540h5v5h-5zM351 1540h5v5h-5zM360 1545h5v4h-5zM360 1553h5v5h-5zM234 1558h4v4h-4zM290 1558h5v4h-5zM323 1558h4v4h-4zM205 1562h5v5h-5zM290 1562h9v5h-9zM309 1562h4v5h-4zM351 1562h5v5h-5zM360 1562h5v5h-5zM229 1567h5v4h-5zM332 1567h5v4h-5zM187 1571h4v4h-4zM341 1575h5v5h-5zM229 1580h5v4h-5zM313 1580h5v4h-5zM337 1580h4v4h-4zM309 1584h4v5h-4zM327 1584h5v5h-5zM285 1589h5v4h-5zM323 1589h4v4h-4zM346 1589h5v4h-5zM173 1593h4v4h-4zM224 1593h5v4h-5zM266 1593h5v4h-5zM285 1593h5v4h-5zM332 1593h5v4h-5zM173 1597h4v5h-4zM201 1597h4v5h-4zM219 1597h5v5h-5zM276 1597h4v5h-4zM290 1597h5v5h-5zM337 1602h4v4h-4zM177 1606h5v5h-5zM191 1606h5v5h-5zM201 1606h4v5h-4zM295 1606h4v5h-4zM304 1606h5v5h-5zM327 1606h14v5h-14zM187 1611h4v4h-4zM271 1611h5v4h-5zM290 1611h5v4h-5zM309 1611h4v4h-4zM327 1611h5v4h-5zM191 1615h5v4h-5zM295 1615h4v4h-4zM309 1615h4v4h-4zM295 1619h4v5h-4zM323 1619h4v5h-4zM149 1624h5v4h-5zM271 1624h5v4h-5zM285 1624h5v4h-5zM313 1624h10v4h-10zM266 1628h5v5h-5zM280 1628h5v5h-5zM168 1633h5v4h-5zM187 1633h4v4h-4zM243 1633h5v4h-5zM285 1633h5v4h-5zM191 1637h5v4h-5zM276 1637h4v4h-4zM187 1641h9v5h-9zM229 1641h5v5h-5zM266 1646h5v4h-5zM191 1650h5v5h-5zM205 1650h5v5h-5zM229 1650h5v5h-5zM196 1655h5v4h-5zM243 1655h19v4h-19zM266 1655h10v4h-10zM182 1659h5v4h-5zM262 1659h4v4h-4zM238 1668h10v4h-10zM234 1672h4v5h-4zM196 1677h5v4h-5zM219 1677h15v4h-15zM158 1681h5v4h-5zM191 1681h5v4h-5zM215 1681h9v4h-9zM140 1685h4v5h-4zM182 1685h5v5h-5zM210 1685h5v5h-5zM154 1690h4v4h-4zM168 1690h5v4h-5zM187 1690h4v4h-4zM205 1690h5v4h-5zM173 1699h4v4h-4zM187 1699h4v4h-4zM187 1703h4v4h-4zM154 1707h4v5h-4zM191 1707h10v5h-10zM144 1712h5v4h-5zM163 1712h5v4h-5zM182 1712h9v4h-9zM149 1716h5v5h-5zM168 1716h5v5h-5zM135 1725h5v4h-5zM144 1725h5v4h-5zM177 1725h5v4h-5zM149 1729h5v5h-5zM163 1729h5v5h-5zM158 1734h5v4h-5zM144 1738h10v5h-10zM173 1738h9v5h-9zM149 1743h5v4h-5zM177 1743h5v4h-5zM135 1751h5v5h-5zM130 1760h10v5h-10zM173 1760h4v5h-4zM191 1760h5v5h-5zM135 1765h5v4h-5zM144 1765h5v4h-5zM158 1765h5v4h-5zM163 1769h5v4h-5zM182 1769h9v4h-9zM168 1773h5v5h-5zM177 1773h10v5h-10zM168 1778h5v4h-5zM154 1782h4v5h-4zM168 1782h5v5h-5zM140 1787h9v4h-9zM154 1791h4v4h-4zM130 1795h5v5h-5zM130 1800h10v4h-10zM130 1804h5v5h-5zM144 1813h5v4h-5z"/><path fill="#00ad3a" d="M543 1166h14v5h-14zM571 1166h10v5h-10zM585 1166h15v5h-15zM618 1166h10v5h-10zM632 1166h5v5h-5zM661 1166h4v5h-4zM698 1166h5v5h-5zM712 1166h10v5h-10zM740 1166h5v5h-5zM750 1166h4v5h-4zM759 1166h5v5h-5zM797 1166h4v5h-4zM834 1166h5v5h-5zM515 1171h5v4h-5zM539 1171h14v4h-14zM576 1171h5v4h-5zM590 1171h5v4h-5zM609 1171h9v4h-9zM656 1171h5v4h-5zM670 1171h5v4h-5zM722 1171h4v4h-4zM750 1171h4v4h-4zM778 1171h5v4h-5zM797 1171h4v4h-4zM548 1175h5v4h-5zM581 1175h4v4h-4zM604 1175h5v4h-5zM670 1175h5v4h-5zM740 1175h5v4h-5zM750 1175h4v4h-4zM792 1175h9v4h-9zM834 1175h5v4h-5zM548 1179h9v5h-9zM567 1179h4v5h-4zM581 1179h4v5h-4zM600 1179h4v5h-4zM628 1179h4v5h-4zM651 1179h5v5h-5zM703 1179h5v5h-5zM717 1179h5v5h-5zM740 1179h5v5h-5zM754 1179h10v5h-10zM773 1179h5v5h-5zM787 1179h5v5h-5zM815 1179h5v5h-5zM834 1179h5v5h-5zM553 1184h4v4h-4zM585 1184h5v4h-5zM684 1184h5v4h-5zM698 1184h5v4h-5zM712 1184h5v4h-5zM731 1184h5v4h-5zM740 1184h5v4h-5zM769 1184h14v4h-14zM787 1184h14v4h-14zM825 1184h5v4h-5zM834 1184h5v4h-5zM299 1188h5v5h-5zM548 1188h5v5h-5zM557 1188h5v5h-5zM567 1188h9v5h-9zM684 1188h5v5h-5zM708 1188h4v5h-4zM717 1188h9v5h-9zM764 1188h5v5h-5zM778 1188h5v5h-5zM834 1188h5v5h-5zM309 1193h4v4h-4zM501 1193h5v4h-5zM529 1193h5v4h-5zM604 1193h5v4h-5zM618 1193h5v4h-5zM632 1193h5v4h-5zM670 1193h5v4h-5zM693 1193h5v4h-5zM703 1193h5v4h-5zM501 1197h9v4h-9zM520 1197h4v4h-4zM534 1197h9v4h-9zM571 1197h10v4h-10zM600 1197h9v4h-9zM623 1197h5v4h-5zM632 1197h10v4h-10zM646 1197h5v4h-5zM670 1197h5v4h-5zM698 1197h5v4h-5zM726 1197h5v4h-5zM769 1197h4v4h-4zM820 1197h5v4h-5zM506 1201h4v5h-4zM534 1201h5v5h-5zM567 1201h4v5h-4zM731 1201h14v5h-14zM764 1201h9v5h-9zM797 1201h4v5h-4zM806 1201h5v5h-5zM820 1201h5v5h-5zM318 1206h5v4h-5zM388 1206h5v4h-5zM431 1206h4v4h-4zM496 1206h5v4h-5zM585 1206h5v4h-5zM632 1206h5v4h-5zM665 1206h5v4h-5zM684 1206h5v4h-5zM693 1206h5v4h-5zM801 1206h10v4h-10zM825 1206h5v4h-5zM407 1210h5v5h-5zM510 1210h5v5h-5zM520 1210h9v5h-9zM553 1210h9v5h-9zM585 1210h10v5h-10zM600 1210h4v5h-4zM703 1210h5v5h-5zM801 1210h10v5h-10zM407 1215h5v4h-5zM435 1215h5v4h-5zM524 1215h5v4h-5zM534 1215h9v4h-9zM585 1215h5v4h-5zM600 1215h4v4h-4zM632 1215h5v4h-5zM708 1215h4v4h-4zM778 1215h5v4h-5zM787 1215h5v4h-5zM815 1215h10v4h-10zM346 1219h5v4h-5zM449 1219h5v4h-5zM515 1219h5v4h-5zM524 1219h5v4h-5zM543 1219h10v4h-10zM567 1219h4v4h-4zM576 1219h9v4h-9zM590 1219h14v4h-14zM614 1219h4v4h-4zM708 1219h4v4h-4zM769 1219h4v4h-4zM787 1219h5v4h-5zM801 1219h5v4h-5zM815 1219h5v4h-5zM830 1219h4v4h-4zM496 1223h5v5h-5zM524 1223h5v5h-5zM534 1223h5v5h-5zM557 1223h5v5h-5zM581 1223h4v5h-4zM590 1223h10v5h-10zM609 1223h5v5h-5zM708 1223h9v5h-9zM431 1228h4v4h-4zM454 1228h5v4h-5zM487 1228h28v4h-28zM524 1228h5v4h-5zM543 1228h5v4h-5zM562 1228h5v4h-5zM571 1228h10v4h-10zM585 1228h5v4h-5zM595 1228h5v4h-5zM604 1228h10v4h-10zM628 1228h4v4h-4zM811 1228h4v4h-4zM830 1228h4v4h-4zM412 1232h5v5h-5zM431 1232h4v5h-4zM487 1232h9v5h-9zM534 1232h5v5h-5zM562 1232h5v5h-5zM581 1232h4v5h-4zM604 1232h5v5h-5zM628 1232h9v5h-9zM712 1232h5v5h-5zM792 1232h5v5h-5zM806 1232h5v5h-5zM487 1237h9v4h-9zM585 1237h5v4h-5zM595 1237h5v4h-5zM614 1237h4v4h-4zM623 1237h9v4h-9zM637 1237h5v4h-5zM651 1237h5v4h-5zM764 1237h9v4h-9zM783 1237h4v4h-4zM492 1241h4v4h-4zM515 1241h5v4h-5zM539 1241h4v4h-4zM567 1241h4v4h-4zM576 1241h5v4h-5zM590 1241h10v4h-10zM618 1241h10v4h-10zM632 1241h5v4h-5zM651 1241h10v4h-10zM778 1241h5v4h-5zM173 1245h4v5h-4zM496 1245h5v5h-5zM576 1245h5v5h-5zM675 1245h4v5h-4zM815 1245h5v5h-5zM825 1245h9v5h-9zM604 1250h10v4h-10zM675 1250h4v4h-4zM689 1250h4v4h-4zM825 1250h5v4h-5zM478 1254h4v5h-4zM529 1254h5v5h-5zM600 1254h4v5h-4zM740 1254h5v5h-5zM769 1254h4v5h-4zM492 1259h4v4h-4zM501 1259h5v4h-5zM529 1259h10v4h-10zM548 1259h5v4h-5zM585 1259h5v4h-5zM600 1259h4v4h-4zM618 1259h5v4h-5zM769 1259h4v4h-4zM783 1259h9v4h-9zM830 1259h4v4h-4zM201 1263h4v4h-4zM374 1263h5v4h-5zM492 1263h14v4h-14zM623 1263h5v4h-5zM712 1263h5v4h-5zM769 1263h9v4h-9zM834 1263h5v4h-5zM130 1267h5v5h-5zM154 1267h4v5h-4zM379 1267h5v5h-5zM402 1267h10v5h-10zM426 1267h5v5h-5zM524 1267h5v5h-5zM534 1267h9v5h-9zM585 1267h10v5h-10zM618 1267h10v5h-10zM679 1267h5v5h-5zM689 1267h4v5h-4zM736 1267h4v5h-4zM769 1267h4v5h-4zM792 1267h9v5h-9zM820 1267h5v5h-5zM154 1272h9v4h-9zM370 1272h4v4h-4zM431 1272h4v4h-4zM454 1272h9v4h-9zM492 1272h4v4h-4zM506 1272h9v4h-9zM524 1272h5v4h-5zM684 1272h5v4h-5zM769 1272h9v4h-9zM801 1272h10v4h-10zM834 1272h5v4h-5zM140 1276h4v5h-4zM149 1276h5v5h-5zM384 1276h9v5h-9zM431 1276h4v5h-4zM487 1276h9v5h-9zM506 1276h14v5h-14zM595 1276h5v5h-5zM637 1276h5v5h-5zM792 1276h5v5h-5zM806 1276h9v5h-9zM168 1281h5v4h-5zM196 1281h5v4h-5zM524 1281h5v4h-5zM534 1281h5v4h-5zM557 1281h5v4h-5zM567 1281h4v4h-4zM581 1281h4v4h-4zM590 1281h10v4h-10zM604 1281h5v4h-5zM717 1281h5v4h-5zM740 1281h5v4h-5zM764 1281h5v4h-5zM797 1281h4v4h-4zM811 1281h9v4h-9zM830 1281h4v4h-4zM144 1285h5v4h-5zM168 1285h5v4h-5zM219 1285h5v4h-5zM435 1285h5v4h-5zM468 1285h10v4h-10zM496 1285h5v4h-5zM515 1285h5v4h-5zM576 1285h5v4h-5zM604 1285h5v4h-5zM815 1285h5v4h-5zM830 1285h4v4h-4zM130 1289h5v5h-5zM140 1289h4v5h-4zM173 1289h4v5h-4zM510 1289h5v5h-5zM567 1289h4v5h-4zM661 1289h4v5h-4zM815 1289h5v5h-5zM830 1289h4v5h-4zM135 1294h5v4h-5zM177 1294h5v4h-5zM370 1294h4v4h-4zM482 1294h5v4h-5zM510 1294h10v4h-10zM524 1294h5v4h-5zM543 1294h5v4h-5zM590 1294h5v4h-5zM661 1294h4v4h-4zM811 1294h4v4h-4zM130 1298h5v5h-5zM168 1298h9v5h-9zM191 1298h5v5h-5zM402 1298h5v5h-5zM421 1298h5v5h-5zM459 1298h4v5h-4zM492 1298h4v5h-4zM769 1298h9v5h-9zM820 1298h5v5h-5zM173 1303h4v4h-4zM501 1303h5v4h-5zM510 1303h5v4h-5zM567 1303h4v4h-4zM656 1303h9v4h-9zM759 1303h5v4h-5zM163 1307h5v4h-5zM173 1307h9v4h-9zM346 1307h5v4h-5zM402 1307h15v4h-15zM501 1307h5v4h-5zM661 1307h4v4h-4zM679 1307h5v4h-5zM144 1311h5v5h-5zM177 1311h5v5h-5zM356 1311h4v5h-4zM374 1311h10v5h-10zM402 1311h5v5h-5zM496 1311h10v5h-10zM651 1311h5v5h-5zM661 1311h4v5h-4zM144 1316h5v4h-5zM163 1316h5v4h-5zM187 1316h9v4h-9zM201 1316h4v4h-4zM365 1316h5v4h-5zM454 1316h9v4h-9zM496 1316h5v4h-5zM515 1316h5v4h-5zM651 1316h10v4h-10zM731 1316h5v4h-5zM745 1316h9v4h-9zM764 1316h5v4h-5zM163 1320h10v5h-10zM210 1320h5v5h-5zM407 1320h5v5h-5zM417 1320h9v5h-9zM431 1320h9v5h-9zM463 1320h5v5h-5zM510 1320h5v5h-5zM534 1320h5v5h-5zM675 1320h4v5h-4zM797 1320h4v5h-4zM149 1325h5v4h-5zM168 1325h5v4h-5zM196 1325h5v4h-5zM412 1325h5v4h-5zM421 1325h10v4h-10zM454 1325h5v4h-5zM463 1325h5v4h-5zM557 1325h5v4h-5zM665 1325h5v4h-5zM717 1325h5v4h-5zM736 1325h4v4h-4zM750 1325h4v4h-4zM149 1329h9v4h-9zM360 1329h5v4h-5zM374 1329h10v4h-10zM407 1329h5v4h-5zM553 1329h4v4h-4zM651 1329h5v4h-5zM703 1329h5v4h-5zM731 1329h9v4h-9zM745 1329h5v4h-5zM783 1329h9v4h-9zM815 1329h5v4h-5zM201 1333h14v5h-14zM262 1333h4v5h-4zM341 1333h5v5h-5zM379 1333h5v5h-5zM618 1333h14v5h-14zM665 1333h5v5h-5zM703 1333h5v5h-5zM731 1333h14v5h-14zM769 1333h4v5h-4zM187 1338h4v4h-4zM337 1338h4v4h-4zM365 1338h5v4h-5zM417 1338h4v4h-4zM445 1338h4v4h-4zM496 1338h5v4h-5zM506 1338h4v4h-4zM539 1338h4v4h-4zM609 1338h5v4h-5zM628 1338h4v4h-4zM731 1338h9v4h-9zM778 1338h5v4h-5zM201 1342h4v5h-4zM257 1342h5v5h-5zM351 1342h5v5h-5zM440 1342h5v5h-5zM515 1342h5v5h-5zM524 1342h5v5h-5zM614 1342h4v5h-4zM646 1342h5v5h-5zM679 1342h10v5h-10zM726 1342h5v5h-5zM783 1342h9v5h-9zM196 1347h5v4h-5zM229 1347h5v4h-5zM248 1347h4v4h-4zM323 1347h4v4h-4zM351 1347h5v4h-5zM402 1347h5v4h-5zM421 1347h5v4h-5zM440 1347h5v4h-5zM501 1347h5v4h-5zM515 1347h5v4h-5zM628 1347h4v4h-4zM646 1347h5v4h-5zM684 1347h5v4h-5zM722 1347h4v4h-4zM787 1347h5v4h-5zM219 1351h5v4h-5zM248 1351h9v4h-9zM262 1351h4v4h-4zM313 1351h10v4h-10zM332 1351h5v4h-5zM356 1351h4v4h-4zM426 1351h5v4h-5zM445 1351h4v4h-4zM492 1351h4v4h-4zM510 1351h10v4h-10zM618 1351h5v4h-5zM628 1351h4v4h-4zM646 1351h5v4h-5zM679 1351h10v4h-10zM773 1351h5v4h-5zM825 1351h5v4h-5zM219 1355h5v5h-5zM252 1355h5v5h-5zM323 1355h4v5h-4zM332 1355h5v5h-5zM341 1355h5v5h-5zM388 1355h5v5h-5zM398 1355h4v5h-4zM431 1355h4v5h-4zM445 1355h4v5h-4zM609 1355h5v5h-5zM618 1355h5v5h-5zM628 1355h4v5h-4zM712 1355h5v5h-5zM750 1355h4v5h-4zM820 1355h10v5h-10zM309 1360h4v4h-4zM341 1360h5v4h-5zM426 1360h5v4h-5zM618 1360h5v4h-5zM670 1360h5v4h-5zM740 1360h5v4h-5zM778 1360h9v4h-9zM811 1360h4v4h-4zM173 1364h4v5h-4zM215 1364h4v5h-4zM229 1364h5v5h-5zM238 1364h5v5h-5zM257 1364h5v5h-5zM360 1364h10v5h-10zM384 1364h4v5h-4zM628 1364h4v5h-4zM665 1364h19v5h-19zM703 1364h5v5h-5zM722 1364h9v5h-9zM773 1364h10v5h-10zM196 1369h9v4h-9zM210 1369h9v4h-9zM248 1369h4v4h-4zM257 1369h5v4h-5zM318 1369h5v4h-5zM365 1369h9v4h-9zM431 1369h14v4h-14zM684 1369h5v4h-5zM806 1369h14v4h-14zM163 1373h5v4h-5zM187 1373h9v4h-9zM215 1373h14v4h-14zM252 1373h5v4h-5zM271 1373h5v4h-5zM295 1373h4v4h-4zM304 1373h23v4h-23zM384 1373h9v4h-9zM402 1373h5v4h-5zM421 1373h5v4h-5zM431 1373h9v4h-9zM618 1373h10v4h-10zM708 1373h4v4h-4zM801 1373h5v4h-5zM825 1373h5v4h-5zM135 1377h5v5h-5zM163 1377h10v5h-10zM201 1377h4v5h-4zM215 1377h19v5h-19zM248 1377h9v5h-9zM309 1377h4v5h-4zM379 1377h9v5h-9zM393 1377h5v5h-5zM412 1377h5v5h-5zM656 1377h5v5h-5zM698 1377h5v5h-5zM708 1377h4v5h-4zM740 1377h5v5h-5zM754 1377h10v5h-10zM797 1377h4v5h-4zM135 1382h5v4h-5zM163 1382h10v4h-10zM252 1382h5v4h-5zM309 1382h9v4h-9zM370 1382h4v4h-4zM384 1382h4v4h-4zM393 1382h5v4h-5zM407 1382h10v4h-10zM431 1382h4v4h-4zM609 1382h5v4h-5zM689 1382h4v4h-4zM698 1382h10v4h-10zM740 1382h5v4h-5zM182 1386h5v5h-5zM205 1386h5v5h-5zM215 1386h4v5h-4zM257 1386h9v5h-9zM309 1386h4v5h-4zM449 1386h5v5h-5zM463 1386h5v5h-5zM787 1386h10v5h-10zM830 1386h4v5h-4zM191 1391h5v4h-5zM280 1391h5v4h-5zM299 1391h5v4h-5zM309 1391h4v4h-4zM323 1391h4v4h-4zM370 1391h4v4h-4zM684 1391h5v4h-5zM736 1391h4v4h-4zM797 1391h4v4h-4zM815 1391h5v4h-5zM168 1395h9v4h-9zM243 1395h5v4h-5zM257 1395h5v4h-5zM266 1395h5v4h-5zM295 1395h4v4h-4zM661 1395h4v4h-4zM675 1395h4v4h-4zM693 1395h10v4h-10zM163 1399h5v5h-5zM173 1399h4v5h-4zM187 1399h4v5h-4zM201 1399h4v5h-4zM257 1399h5v5h-5zM266 1399h5v5h-5zM280 1399h5v5h-5zM398 1399h9v5h-9zM656 1399h5v5h-5zM670 1399h5v5h-5zM693 1399h10v5h-10zM736 1399h4v5h-4zM168 1404h5v4h-5zM191 1404h10v4h-10zM248 1404h4v4h-4zM370 1404h4v4h-4zM656 1404h5v4h-5zM679 1404h10v4h-10zM215 1408h4v5h-4zM271 1408h5v5h-5zM318 1408h5v5h-5zM365 1408h5v5h-5zM726 1408h5v5h-5zM736 1408h4v5h-4zM163 1413h5v4h-5zM238 1413h5v4h-5zM266 1413h5v4h-5zM679 1413h10v4h-10zM726 1413h10v4h-10zM219 1417h5v4h-5zM234 1417h4v4h-4zM698 1417h5v4h-5zM726 1417h10v4h-10zM215 1421h4v5h-4zM262 1421h4v5h-4zM215 1426h9v4h-9zM266 1426h10v4h-10zM219 1430h5v5h-5zM271 1430h5v5h-5zM370 1430h4v5h-4zM257 1435h5v4h-5zM365 1439h5v4h-5zM351 1443h19v5h-19zM360 1448h10v4h-10zM341 1452h5v5h-5zM356 1452h4v5h-4zM327 1457h5v4h-5zM341 1457h5v4h-5zM351 1457h5v4h-5zM360 1461h10v4h-10zM360 1465h5v5h-5zM290 1470h5v4h-5zM299 1470h5v4h-5zM313 1470h5v4h-5zM341 1470h5v4h-5zM351 1470h5v4h-5zM360 1470h5v4h-5zM290 1474h9v5h-9zM304 1474h5v5h-5zM318 1474h5v5h-5zM370 1474h4v5h-4zM299 1479h10v4h-10zM318 1479h5v4h-5zM332 1479h5v4h-5zM290 1483h5v4h-5zM309 1483h18v4h-18zM337 1483h4v4h-4zM365 1483h5v4h-5zM290 1487h5v5h-5zM299 1487h5v5h-5zM318 1487h5v5h-5zM346 1487h10v5h-10zM299 1492h5v4h-5zM356 1492h9v4h-9zM304 1496h5v5h-5zM299 1501h10v4h-10zM356 1501h4v4h-4zM290 1509h5v5h-5zM356 1509h9v5h-9zM285 1514h5v4h-5zM280 1518h5v5h-5zM276 1523h4v4h-4zM327 1523h5v4h-5zM365 1523h5v4h-5zM356 1527h4v4h-4zM346 1531h14v5h-14zM210 1536h5v4h-5zM248 1536h4v4h-4zM332 1536h5v4h-5zM351 1536h5v4h-5zM356 1540h4v5h-4zM356 1545h4v4h-4zM201 1549h4v4h-4zM360 1549h5v4h-5zM304 1558h5v4h-5zM318 1558h5v4h-5zM337 1558h4v4h-4zM318 1562h9v5h-9zM323 1567h4v4h-4zM356 1567h4v4h-4zM318 1571h9v4h-9zM219 1575h5v5h-5zM187 1580h4v4h-4zM201 1580h4v4h-4zM248 1584h4v5h-4zM285 1584h10v5h-10zM323 1584h4v5h-4zM224 1589h5v4h-5zM238 1589h5v4h-5zM266 1589h5v4h-5zM290 1589h5v4h-5zM304 1589h5v4h-5zM219 1593h5v4h-5zM337 1593h9v4h-9zM234 1597h4v5h-4zM243 1597h9v5h-9zM201 1602h4v4h-4zM229 1602h5v4h-5zM243 1602h9v4h-9zM262 1602h4v4h-4zM271 1602h9v4h-9zM285 1602h5v4h-5zM304 1602h5v4h-5zM323 1602h4v4h-4zM168 1606h5v5h-5zM262 1606h9v5h-9zM290 1606h5v5h-5zM309 1606h4v5h-4zM323 1606h4v5h-4zM173 1611h4v4h-4zM257 1611h5v4h-5zM266 1611h5v4h-5zM285 1611h5v4h-5zM299 1611h10v4h-10zM182 1615h9v4h-9zM224 1615h5v4h-5zM276 1615h14v4h-14zM177 1619h5v5h-5zM205 1619h5v5h-5zM229 1619h5v5h-5zM313 1619h5v5h-5zM173 1624h4v4h-4zM290 1624h9v4h-9zM248 1628h4v5h-4zM276 1628h4v5h-4zM285 1628h10v5h-10zM191 1633h14v4h-14zM276 1633h9v4h-9zM196 1637h5v4h-5zM173 1641h4v5h-4zM182 1641h5v5h-5zM196 1641h5v5h-5zM266 1641h5v5h-5zM191 1646h5v4h-5zM205 1646h5v4h-5zM257 1646h9v4h-9zM257 1650h5v5h-5zM182 1655h5v4h-5zM191 1655h5v4h-5zM243 1659h5v4h-5zM201 1663h9v5h-9zM201 1668h4v4h-4zM229 1668h5v4h-5zM201 1672h4v5h-4zM229 1672h5v5h-5zM140 1677h4v4h-4zM191 1677h5v4h-5zM177 1681h5v4h-5zM205 1681h10v4h-10zM130 1685h5v5h-5zM154 1685h4v5h-4zM177 1685h5v5h-5zM191 1685h5v5h-5zM205 1685h5v5h-5zM158 1690h5v4h-5zM177 1690h5v4h-5zM201 1690h4v4h-4zM196 1694h5v5h-5zM144 1699h5v4h-5zM168 1699h5v4h-5zM191 1699h5v4h-5zM154 1703h4v4h-4zM168 1703h5v4h-5zM191 1703h5v4h-5zM182 1707h5v5h-5zM154 1712h4v4h-4zM177 1721h5v4h-5zM149 1725h5v4h-5zM173 1725h4v4h-4zM144 1729h5v5h-5zM144 1734h5v4h-5zM130 1738h5v5h-5zM135 1747h5v4h-5zM191 1747h10v4h-10zM130 1751h5v5h-5zM191 1751h10v5h-10zM135 1756h5v4h-5zM187 1756h14v4h-14zM154 1765h4v4h-4zM130 1769h5v4h-5zM158 1769h5v4h-5zM168 1769h5v4h-5zM177 1769h5v4h-5zM135 1773h5v5h-5zM144 1778h10v4h-10zM173 1778h4v4h-4zM130 1782h5v5h-5zM144 1782h10v5h-10zM130 1787h5v4h-5zM154 1787h4v4h-4z"/><path fill="#00b342" d="M510 1166h10v5h-10zM539 1166h4v5h-4zM600 1166h4v5h-4zM628 1166h4v5h-4zM670 1166h5v5h-5zM745 1166h5v5h-5zM754 1166h5v5h-5zM773 1166h5v5h-5zM787 1166h5v5h-5zM801 1166h10v5h-10zM323 1171h4v4h-4zM553 1171h4v4h-4zM679 1171h5v4h-5zM698 1171h5v4h-5zM726 1171h10v4h-10zM754 1171h5v4h-5zM773 1171h5v4h-5zM792 1171h5v4h-5zM806 1171h5v4h-5zM384 1175h4v4h-4zM539 1175h9v4h-9zM585 1175h10v4h-10zM609 1175h9v4h-9zM679 1175h10v4h-10zM717 1175h5v4h-5zM731 1175h9v4h-9zM745 1175h5v4h-5zM754 1175h5v4h-5zM783 1175h4v4h-4zM801 1175h10v4h-10zM304 1179h5v5h-5zM618 1179h10v5h-10zM637 1179h5v5h-5zM689 1179h4v5h-4zM698 1179h5v5h-5zM722 1179h4v5h-4zM745 1179h5v5h-5zM764 1179h9v5h-9zM778 1179h5v5h-5zM811 1179h4v5h-4zM524 1184h5v4h-5zM562 1184h5v4h-5zM571 1184h5v4h-5zM651 1184h10v4h-10zM736 1184h4v4h-4zM304 1188h5v5h-5zM562 1188h5v5h-5zM623 1188h5v5h-5zM632 1188h5v5h-5zM656 1188h14v5h-14zM679 1188h5v5h-5zM703 1188h5v5h-5zM792 1188h9v5h-9zM811 1188h4v5h-4zM820 1188h5v5h-5zM384 1193h4v4h-4zM506 1193h4v4h-4zM520 1193h9v4h-9zM543 1193h10v4h-10zM562 1193h5v4h-5zM609 1193h9v4h-9zM656 1193h9v4h-9zM675 1193h4v4h-4zM684 1193h5v4h-5zM811 1193h4v4h-4zM379 1197h5v4h-5zM510 1197h5v4h-5zM543 1197h5v4h-5zM557 1197h5v4h-5zM595 1197h5v4h-5zM614 1197h4v4h-4zM642 1197h4v4h-4zM651 1197h14v4h-14zM679 1197h5v4h-5zM708 1197h9v4h-9zM811 1197h9v4h-9zM585 1201h5v5h-5zM609 1201h5v5h-5zM637 1201h5v5h-5zM665 1201h10v5h-10zM712 1201h5v5h-5zM754 1201h10v5h-10zM778 1201h14v5h-14zM407 1206h14v4h-14zM492 1206h4v4h-4zM524 1206h5v4h-5zM553 1206h9v4h-9zM571 1206h14v4h-14zM590 1206h5v4h-5zM609 1206h5v4h-5zM642 1206h4v4h-4zM708 1206h4v4h-4zM731 1206h14v4h-14zM787 1206h5v4h-5zM820 1206h5v4h-5zM402 1210h5v5h-5zM412 1210h14v5h-14zM529 1210h10v5h-10zM562 1210h9v5h-9zM595 1210h5v5h-5zM609 1210h5v5h-5zM632 1210h10v5h-10zM675 1210h14v5h-14zM717 1210h5v5h-5zM726 1210h5v5h-5zM783 1210h9v5h-9zM811 1210h4v5h-4zM830 1210h4v5h-4zM318 1215h5v4h-5zM402 1215h5v4h-5zM548 1215h5v4h-5zM567 1215h4v4h-4zM581 1215h4v4h-4zM590 1215h5v4h-5zM609 1215h5v4h-5zM637 1215h9v4h-9zM703 1215h5v4h-5zM712 1215h5v4h-5zM792 1215h5v4h-5zM806 1215h9v4h-9zM407 1219h5v4h-5zM426 1219h5v4h-5zM440 1219h9v4h-9zM482 1219h5v4h-5zM501 1219h5v4h-5zM529 1219h5v4h-5zM557 1219h5v4h-5zM571 1219h5v4h-5zM604 1219h10v4h-10zM637 1219h5v4h-5zM656 1219h5v4h-5zM670 1219h5v4h-5zM703 1219h5v4h-5zM792 1219h9v4h-9zM806 1219h9v4h-9zM426 1223h9v5h-9zM487 1223h9v5h-9zM529 1223h5v5h-5zM562 1223h5v5h-5zM637 1223h9v5h-9zM665 1223h5v5h-5zM764 1223h5v5h-5zM778 1223h5v5h-5zM834 1223h5v5h-5zM440 1228h5v4h-5zM473 1228h5v4h-5zM600 1228h4v4h-4zM661 1228h9v4h-9zM773 1228h5v4h-5zM806 1228h5v4h-5zM473 1232h5v5h-5zM482 1232h5v5h-5zM506 1232h4v5h-4zM529 1232h5v5h-5zM576 1232h5v5h-5zM585 1232h5v5h-5zM600 1232h4v5h-4zM661 1232h4v5h-4zM783 1232h9v5h-9zM830 1232h9v5h-9zM468 1237h5v4h-5zM482 1237h5v4h-5zM501 1237h9v4h-9zM534 1237h5v4h-5zM543 1237h14v4h-14zM600 1237h4v4h-4zM661 1237h4v4h-4zM773 1237h10v4h-10zM787 1237h5v4h-5zM830 1237h4v4h-4zM440 1241h5v4h-5zM473 1241h5v4h-5zM548 1241h5v4h-5zM600 1241h9v4h-9zM614 1241h4v4h-4zM628 1241h4v4h-4zM661 1241h14v4h-14zM679 1241h10v4h-10zM783 1241h14v4h-14zM801 1241h5v4h-5zM449 1245h5v5h-5zM478 1245h4v5h-4zM492 1245h4v5h-4zM520 1245h9v5h-9zM548 1245h5v5h-5zM557 1245h5v5h-5zM567 1245h4v5h-4zM609 1245h9v5h-9zM628 1245h4v5h-4zM754 1245h5v5h-5zM778 1245h5v5h-5zM787 1245h5v5h-5zM820 1245h5v5h-5zM445 1250h4v4h-4zM496 1250h5v4h-5zM581 1250h4v4h-4zM679 1250h5v4h-5zM731 1250h9v4h-9zM787 1250h5v4h-5zM820 1250h5v4h-5zM834 1250h5v4h-5zM388 1254h5v5h-5zM496 1254h5v5h-5zM571 1254h10v5h-10zM689 1254h4v5h-4zM708 1254h4v5h-4zM754 1254h5v5h-5zM787 1254h5v5h-5zM834 1254h5v5h-5zM149 1259h5v4h-5zM299 1259h5v4h-5zM384 1259h4v4h-4zM445 1259h4v4h-4zM459 1259h4v4h-4zM473 1259h5v4h-5zM496 1259h5v4h-5zM506 1259h4v4h-4zM567 1259h4v4h-4zM581 1259h4v4h-4zM646 1259h5v4h-5zM703 1259h5v4h-5zM726 1259h5v4h-5zM754 1259h5v4h-5zM764 1259h5v4h-5zM792 1259h5v4h-5zM140 1263h14v4h-14zM163 1263h5v4h-5zM370 1263h4v4h-4zM463 1263h10v4h-10zM506 1263h4v4h-4zM529 1263h14v4h-14zM585 1263h5v4h-5zM614 1263h4v4h-4zM670 1263h5v4h-5zM693 1263h5v4h-5zM717 1263h5v4h-5zM759 1263h10v4h-10zM187 1267h4v5h-4zM384 1267h4v5h-4zM487 1267h5v5h-5zM543 1267h10v5h-10zM581 1267h4v5h-4zM693 1267h10v5h-10zM722 1267h4v5h-4zM731 1267h5v5h-5zM773 1267h10v5h-10zM825 1267h5v5h-5zM834 1267h5v5h-5zM445 1272h9v4h-9zM515 1272h9v4h-9zM590 1272h10v4h-10zM604 1272h5v4h-5zM736 1272h4v4h-4zM792 1272h5v4h-5zM820 1272h14v4h-14zM130 1276h5v5h-5zM144 1276h5v5h-5zM158 1276h5v5h-5zM370 1276h4v5h-4zM379 1276h5v5h-5zM449 1276h5v5h-5zM585 1276h10v5h-10zM600 1276h9v5h-9zM764 1276h5v5h-5zM773 1276h5v5h-5zM825 1276h9v5h-9zM140 1281h9v4h-9zM154 1281h4v4h-4zM173 1281h4v4h-4zM356 1281h4v4h-4zM492 1281h4v4h-4zM501 1281h5v4h-5zM510 1281h5v4h-5zM529 1281h5v4h-5zM539 1281h9v4h-9zM585 1281h5v4h-5zM600 1281h4v4h-4zM679 1281h5v4h-5zM693 1281h5v4h-5zM712 1281h5v4h-5zM750 1281h14v4h-14zM801 1281h10v4h-10zM825 1281h5v4h-5zM140 1285h4v4h-4zM149 1285h5v4h-5zM177 1285h5v4h-5zM510 1285h5v4h-5zM539 1285h4v4h-4zM585 1285h5v4h-5zM600 1285h4v4h-4zM670 1285h5v4h-5zM684 1285h5v4h-5zM712 1285h10v4h-10zM750 1285h4v4h-4zM769 1285h4v4h-4zM783 1285h4v4h-4zM811 1285h4v4h-4zM820 1285h10v4h-10zM154 1289h4v5h-4zM478 1289h4v5h-4zM520 1289h4v5h-4zM571 1289h5v5h-5zM595 1289h5v5h-5zM693 1289h15v5h-15zM778 1289h5v5h-5zM811 1289h4v5h-4zM140 1294h4v4h-4zM201 1294h4v4h-4zM210 1294h5v4h-5zM365 1294h5v4h-5zM379 1294h5v4h-5zM459 1294h4v4h-4zM520 1294h4v4h-4zM675 1294h4v4h-4zM769 1294h4v4h-4zM834 1294h5v4h-5zM135 1298h9v5h-9zM163 1298h5v5h-5zM196 1298h5v5h-5zM219 1298h5v5h-5zM346 1298h5v5h-5zM379 1298h5v5h-5zM393 1298h5v5h-5zM431 1298h4v5h-4zM463 1298h5v5h-5zM482 1298h10v5h-10zM506 1298h4v5h-4zM524 1298h5v5h-5zM759 1298h5v5h-5zM830 1298h4v5h-4zM163 1303h10v4h-10zM365 1303h5v4h-5zM459 1303h9v4h-9zM553 1303h4v4h-4zM590 1303h5v4h-5zM830 1303h9v4h-9zM130 1307h5v4h-5zM158 1307h5v4h-5zM168 1307h5v4h-5zM341 1307h5v4h-5zM374 1307h5v4h-5zM426 1307h5v4h-5zM553 1307h9v4h-9zM665 1307h5v4h-5zM675 1307h4v4h-4zM745 1307h5v4h-5zM130 1311h14v5h-14zM346 1311h5v5h-5zM370 1311h4v5h-4zM431 1311h4v5h-4zM463 1311h5v5h-5zM520 1311h4v5h-4zM548 1311h5v5h-5zM557 1311h5v5h-5zM731 1311h5v5h-5zM750 1311h4v5h-4zM778 1311h5v5h-5zM154 1316h4v4h-4zM402 1316h5v4h-5zM431 1316h4v4h-4zM506 1316h4v4h-4zM524 1316h10v4h-10zM557 1316h5v4h-5zM675 1316h4v4h-4zM754 1316h10v4h-10zM783 1316h4v4h-4zM173 1320h4v5h-4zM478 1320h4v5h-4zM501 1320h5v5h-5zM557 1320h5v5h-5zM665 1320h5v5h-5zM750 1320h4v5h-4zM764 1320h5v5h-5zM158 1325h5v4h-5zM182 1325h5v4h-5zM210 1325h9v4h-9zM445 1325h4v4h-4zM656 1325h5v4h-5zM693 1325h5v4h-5zM764 1325h5v4h-5zM778 1325h9v4h-9zM130 1329h5v4h-5zM158 1329h5v4h-5zM173 1329h4v4h-4zM182 1329h5v4h-5zM205 1329h10v4h-10zM356 1329h4v4h-4zM365 1329h5v4h-5zM412 1329h5v4h-5zM421 1329h5v4h-5zM454 1329h5v4h-5zM510 1329h5v4h-5zM665 1329h5v4h-5zM679 1329h5v4h-5zM740 1329h5v4h-5zM168 1333h9v5h-9zM187 1333h9v5h-9zM215 1333h4v5h-4zM346 1333h5v5h-5zM365 1333h5v5h-5zM407 1333h5v5h-5zM417 1333h4v5h-4zM459 1333h4v5h-4zM496 1333h5v5h-5zM698 1333h5v5h-5zM764 1333h5v5h-5zM773 1333h19v5h-19zM797 1333h4v5h-4zM815 1333h5v5h-5zM173 1338h14v4h-14zM191 1338h5v4h-5zM257 1338h5v4h-5zM412 1338h5v4h-5zM463 1338h5v4h-5zM543 1338h5v4h-5zM614 1338h4v4h-4zM646 1338h5v4h-5zM726 1338h5v4h-5zM740 1338h5v4h-5zM759 1338h5v4h-5zM769 1338h9v4h-9zM792 1338h5v4h-5zM313 1342h5v5h-5zM332 1342h9v5h-9zM346 1342h5v5h-5zM487 1342h9v5h-9zM520 1342h4v5h-4zM534 1342h5v5h-5zM623 1342h5v5h-5zM661 1342h4v5h-4zM698 1342h5v5h-5zM722 1342h4v5h-4zM731 1342h5v5h-5zM740 1342h5v5h-5zM792 1342h9v5h-9zM191 1347h5v4h-5zM201 1347h4v4h-4zM243 1347h5v4h-5zM252 1347h10v4h-10zM356 1347h4v4h-4zM407 1347h14v4h-14zM449 1347h5v4h-5zM473 1347h5v4h-5zM482 1347h10v4h-10zM506 1347h9v4h-9zM614 1347h4v4h-4zM689 1347h4v4h-4zM708 1347h9v4h-9zM773 1347h10v4h-10zM182 1351h5v4h-5zM201 1351h4v4h-4zM215 1351h4v4h-4zM234 1351h4v4h-4zM435 1351h5v4h-5zM449 1351h14v4h-14zM468 1351h10v4h-10zM487 1351h5v4h-5zM501 1351h9v4h-9zM632 1351h5v4h-5zM661 1351h4v4h-4zM675 1351h4v4h-4zM731 1351h5v4h-5zM815 1351h10v4h-10zM834 1351h5v4h-5zM201 1355h9v5h-9zM234 1355h9v5h-9zM421 1355h10v5h-10zM435 1355h10v5h-10zM623 1355h5v5h-5zM632 1355h5v5h-5zM684 1355h5v5h-5zM698 1355h5v5h-5zM717 1355h9v5h-9zM731 1355h5v5h-5zM745 1355h5v5h-5zM773 1355h5v5h-5zM815 1355h5v5h-5zM182 1360h5v4h-5zM388 1360h5v4h-5zM421 1360h5v4h-5zM675 1360h9v4h-9zM731 1360h5v4h-5zM792 1360h5v4h-5zM806 1360h5v4h-5zM815 1360h5v4h-5zM196 1364h9v5h-9zM252 1364h5v5h-5zM313 1364h5v5h-5zM370 1364h4v5h-4zM393 1364h5v5h-5zM421 1364h5v5h-5zM431 1364h4v5h-4zM618 1364h10v5h-10zM792 1364h5v5h-5zM806 1364h5v5h-5zM158 1369h5v4h-5zM205 1369h5v4h-5zM238 1369h10v4h-10zM262 1369h4v4h-4zM295 1369h4v4h-4zM393 1369h5v4h-5zM417 1369h9v4h-9zM618 1369h10v4h-10zM661 1369h4v4h-4zM675 1369h4v4h-4zM698 1369h10v4h-10zM717 1369h5v4h-5zM797 1369h9v4h-9zM135 1373h5v4h-5zM243 1373h9v4h-9zM257 1373h5v4h-5zM280 1373h5v4h-5zM393 1373h5v4h-5zM417 1373h4v4h-4zM426 1373h5v4h-5zM661 1373h14v4h-14zM693 1373h5v4h-5zM750 1373h4v4h-4zM769 1373h4v4h-4zM182 1377h5v5h-5zM285 1377h10v5h-10zM313 1377h5v5h-5zM426 1377h5v5h-5zM637 1377h5v5h-5zM646 1377h5v5h-5zM661 1377h9v5h-9zM693 1377h5v5h-5zM750 1377h4v5h-4zM778 1377h5v5h-5zM158 1382h5v4h-5zM177 1382h5v4h-5zM219 1382h10v4h-10zM360 1382h10v4h-10zM388 1382h5v4h-5zM637 1382h5v4h-5zM670 1382h9v4h-9zM684 1382h5v4h-5zM708 1382h4v4h-4zM736 1382h4v4h-4zM745 1382h5v4h-5zM797 1382h4v4h-4zM815 1382h5v4h-5zM201 1386h4v5h-4zM210 1386h5v5h-5zM238 1386h5v5h-5zM252 1386h5v5h-5zM266 1386h5v5h-5zM365 1386h5v5h-5zM642 1386h4v5h-4zM665 1386h5v5h-5zM731 1386h5v5h-5zM740 1386h5v5h-5zM797 1386h4v5h-4zM205 1391h5v4h-5zM248 1391h4v4h-4zM262 1391h4v4h-4zM271 1391h5v4h-5zM295 1391h4v4h-4zM318 1391h5v4h-5zM661 1391h14v4h-14zM693 1391h5v4h-5zM717 1391h5v4h-5zM163 1395h5v4h-5zM248 1395h4v4h-4zM299 1395h14v4h-14zM374 1395h14v4h-14zM646 1395h5v4h-5zM670 1395h5v4h-5zM238 1399h5v5h-5zM248 1399h4v5h-4zM262 1399h4v5h-4zM271 1399h9v5h-9zM285 1399h5v5h-5zM327 1399h10v5h-10zM365 1399h5v5h-5zM163 1404h5v4h-5zM243 1404h5v4h-5zM262 1404h9v4h-9zM276 1404h4v4h-4zM285 1404h5v4h-5zM313 1404h5v4h-5zM365 1404h5v4h-5zM726 1404h10v4h-10zM262 1408h9v5h-9zM285 1408h5v5h-5zM299 1408h5v5h-5zM337 1408h4v5h-4zM679 1408h5v5h-5zM689 1408h4v5h-4zM257 1413h5v4h-5zM365 1413h9v4h-9zM210 1417h9v4h-9zM271 1417h5v4h-5zM280 1417h5v4h-5zM365 1417h5v4h-5zM205 1421h5v5h-5zM219 1421h5v5h-5zM266 1421h5v5h-5zM726 1421h5v5h-5zM229 1426h5v4h-5zM224 1430h5v5h-5zM365 1430h5v5h-5zM365 1435h5v4h-5zM262 1439h4v4h-4zM280 1439h5v4h-5zM238 1443h5v5h-5zM337 1443h4v5h-4zM295 1448h9v4h-9zM337 1457h4v4h-4zM356 1457h4v4h-4zM337 1461h9v4h-9zM351 1461h9v4h-9zM370 1461h4v4h-4zM337 1465h4v5h-4zM374 1465h5v5h-5zM304 1470h9v4h-9zM332 1470h5v4h-5zM327 1474h10v5h-10zM351 1474h9v5h-9zM285 1479h14v4h-14zM323 1479h4v4h-4zM341 1479h5v4h-5zM365 1479h5v4h-5zM295 1483h9v4h-9zM327 1483h5v4h-5zM346 1483h5v4h-5zM285 1487h5v5h-5zM295 1487h4v5h-4zM341 1487h5v5h-5zM290 1492h5v4h-5zM309 1492h4v4h-4zM337 1492h4v4h-4zM299 1496h5v5h-5zM304 1505h5v4h-5zM285 1509h5v5h-5zM299 1509h5v5h-5zM280 1514h5v4h-5zM346 1514h5v4h-5zM285 1518h5v5h-5zM323 1518h4v5h-4zM351 1518h5v5h-5zM295 1523h4v4h-4zM341 1523h5v4h-5zM351 1523h5v4h-5zM360 1523h5v4h-5zM309 1527h4v4h-4zM351 1527h5v4h-5zM252 1536h5v4h-5zM205 1540h5v5h-5zM346 1540h5v5h-5zM327 1549h5v4h-5zM351 1549h9v4h-9zM323 1553h14v5h-14zM182 1558h5v4h-5zM238 1558h5v4h-5zM229 1562h5v5h-5zM280 1562h10v5h-10zM313 1562h5v5h-5zM327 1562h14v5h-14zM356 1562h4v5h-4zM177 1567h5v4h-5zM313 1567h10v4h-10zM224 1571h5v4h-5zM295 1571h9v4h-9zM191 1575h5v5h-5zM295 1575h4v5h-4zM304 1575h5v5h-5zM327 1575h5v5h-5zM215 1580h4v4h-4zM224 1580h5v4h-5zM234 1580h4v4h-4zM276 1580h4v4h-4zM332 1580h5v4h-5zM229 1584h5v5h-5zM243 1584h5v5h-5zM313 1584h10v5h-10zM332 1584h5v5h-5zM229 1589h5v4h-5zM243 1589h9v4h-9zM280 1589h5v4h-5zM299 1589h5v4h-5zM309 1589h4v4h-4zM337 1589h9v4h-9zM234 1593h9v4h-9zM271 1593h9v4h-9zM290 1593h5v4h-5zM304 1593h5v4h-5zM327 1593h5v4h-5zM215 1597h4v5h-4zM224 1597h5v5h-5zM238 1597h5v5h-5zM262 1597h4v5h-4zM271 1597h5v5h-5zM295 1597h4v5h-4zM266 1602h5v4h-5zM327 1602h5v4h-5zM271 1606h5v5h-5zM182 1611h5v4h-5zM191 1611h5v4h-5zM201 1611h4v4h-4zM262 1611h4v4h-4zM323 1611h4v4h-4zM252 1615h5v4h-5zM290 1615h5v4h-5zM323 1615h4v4h-4zM173 1619h4v5h-4zM182 1619h5v5h-5zM248 1619h9v5h-9zM290 1619h5v5h-5zM318 1619h5v5h-5zM168 1624h5v4h-5zM177 1624h5v4h-5zM191 1624h5v4h-5zM215 1624h4v4h-4zM168 1628h9v5h-9zM196 1628h5v5h-5zM271 1628h5v5h-5zM163 1633h5v4h-5zM173 1633h4v4h-4zM182 1633h5v4h-5zM177 1637h10v4h-10zM252 1637h5v4h-5zM266 1637h5v4h-5zM248 1646h9v4h-9zM196 1650h5v5h-5zM238 1650h10v5h-10zM252 1650h5v5h-5zM201 1655h4v4h-4zM219 1659h5v4h-5zM229 1659h5v4h-5zM177 1663h10v5h-10zM196 1663h5v5h-5zM229 1663h5v5h-5zM238 1663h10v5h-10zM144 1668h5v4h-5zM224 1668h5v4h-5zM144 1672h5v5h-5zM215 1672h4v5h-4zM149 1677h5v4h-5zM130 1681h5v4h-5zM140 1681h4v4h-4zM163 1681h10v4h-10zM182 1681h5v4h-5zM135 1685h5v5h-5zM149 1685h5v5h-5zM168 1685h5v5h-5zM130 1690h5v4h-5zM149 1690h5v4h-5zM173 1690h4v4h-4zM191 1690h10v4h-10zM140 1694h4v5h-4zM154 1694h4v5h-4zM163 1694h5v5h-5zM173 1694h4v5h-4zM187 1694h4v5h-4zM149 1699h19v4h-19zM163 1703h5v4h-5zM173 1703h4v4h-4zM196 1703h5v4h-5zM158 1707h5v5h-5zM130 1712h5v4h-5zM140 1712h4v4h-4zM149 1712h5v4h-5zM154 1716h9v5h-9zM173 1716h9v5h-9zM140 1721h4v4h-4zM173 1721h4v4h-4zM130 1725h5v4h-5zM154 1725h4v4h-4zM135 1729h9v5h-9zM154 1729h9v5h-9zM140 1734h4v4h-4zM140 1738h4v5h-4zM130 1747h5v4h-5zM182 1756h5v4h-5zM187 1765h4v4h-4zM135 1769h5v4h-5zM173 1773h4v5h-4zM135 1778h9v4h-9zM135 1782h5v5h-5zM130 1791h5v4h-5z"/><path fill="#00b84a" d="M379 1166h5v5h-5zM614 1166h4v5h-4zM665 1166h5v5h-5zM693 1171h5v4h-5zM712 1171h10v4h-10zM783 1171h4v4h-4zM632 1175h10v4h-10zM689 1175h4v4h-4zM698 1175h10v4h-10zM726 1175h5v4h-5zM778 1175h5v4h-5zM543 1179h5v5h-5zM585 1179h5v5h-5zM595 1179h5v5h-5zM614 1179h4v5h-4zM656 1179h9v5h-9zM679 1179h5v5h-5zM712 1179h5v5h-5zM726 1179h14v5h-14zM379 1184h5v4h-5zM506 1184h4v4h-4zM529 1184h5v4h-5zM543 1184h5v4h-5zM567 1184h4v4h-4zM623 1184h5v4h-5zM661 1184h9v4h-9zM679 1184h5v4h-5zM689 1184h4v4h-4zM703 1184h5v4h-5zM717 1184h5v4h-5zM726 1184h5v4h-5zM811 1184h4v4h-4zM820 1184h5v4h-5zM492 1188h4v5h-4zM506 1188h4v5h-4zM604 1188h5v5h-5zM651 1188h5v5h-5zM675 1188h4v5h-4zM689 1188h4v5h-4zM698 1188h5v5h-5zM769 1188h4v5h-4zM787 1188h5v5h-5zM815 1188h5v5h-5zM825 1188h5v5h-5zM510 1193h5v4h-5zM553 1193h4v4h-4zM595 1193h9v4h-9zM637 1193h9v4h-9zM651 1193h5v4h-5zM388 1197h5v4h-5zM402 1197h5v4h-5zM454 1197h5v4h-5zM515 1197h5v4h-5zM675 1197h4v4h-4zM684 1197h5v4h-5zM703 1197h5v4h-5zM463 1201h5v5h-5zM557 1201h5v5h-5zM571 1201h10v5h-10zM590 1201h5v5h-5zM600 1201h9v5h-9zM642 1201h9v5h-9zM656 1201h9v5h-9zM675 1201h4v5h-4zM708 1201h4v5h-4zM792 1201h5v5h-5zM811 1201h9v5h-9zM830 1201h4v5h-4zM529 1206h5v4h-5zM595 1206h5v4h-5zM604 1206h5v4h-5zM637 1206h5v4h-5zM661 1206h4v4h-4zM689 1206h4v4h-4zM759 1206h5v4h-5zM769 1206h4v4h-4zM778 1206h9v4h-9zM792 1206h5v4h-5zM811 1206h9v4h-9zM487 1210h9v5h-9zM501 1210h5v5h-5zM539 1210h4v5h-4zM576 1210h9v5h-9zM604 1210h5v5h-5zM642 1210h4v5h-4zM722 1210h4v5h-4zM764 1210h9v5h-9zM797 1210h4v5h-4zM815 1210h10v5h-10zM834 1210h5v5h-5zM426 1215h5v4h-5zM478 1215h4v4h-4zM492 1215h9v4h-9zM529 1215h5v4h-5zM543 1215h5v4h-5zM562 1215h5v4h-5zM576 1215h5v4h-5zM604 1215h5v4h-5zM646 1215h5v4h-5zM689 1215h4v4h-4zM698 1215h5v4h-5zM769 1215h9v4h-9zM834 1215h5v4h-5zM412 1219h5v4h-5zM487 1219h14v4h-14zM689 1219h9v4h-9zM834 1219h5v4h-5zM412 1223h9v5h-9zM445 1223h9v5h-9zM478 1223h9v5h-9zM632 1223h5v5h-5zM670 1223h5v5h-5zM679 1223h5v5h-5zM689 1223h4v5h-4zM773 1223h5v5h-5zM787 1223h5v5h-5zM384 1228h4v4h-4zM445 1228h4v4h-4zM482 1228h5v4h-5zM529 1228h10v4h-10zM670 1228h5v4h-5zM787 1228h10v4h-10zM834 1228h5v4h-5zM459 1232h4v5h-4zM478 1232h4v5h-4zM679 1232h5v5h-5zM778 1232h5v5h-5zM440 1237h5v4h-5zM459 1237h4v4h-4zM496 1237h5v4h-5zM529 1237h5v4h-5zM557 1237h5v4h-5zM665 1237h5v4h-5zM679 1237h5v4h-5zM689 1237h4v4h-4zM792 1237h5v4h-5zM834 1237h5v4h-5zM158 1241h5v4h-5zM445 1241h4v4h-4zM459 1241h4v4h-4zM482 1241h10v4h-10zM553 1241h9v4h-9zM797 1241h4v4h-4zM501 1245h5v5h-5zM571 1245h5v5h-5zM590 1245h10v5h-10zM604 1245h5v5h-5zM679 1245h5v5h-5zM750 1245h4v5h-4zM759 1245h5v5h-5zM783 1245h4v5h-4zM834 1245h5v5h-5zM144 1250h5v4h-5zM177 1250h5v4h-5zM449 1250h5v4h-5zM463 1250h5v4h-5zM473 1250h5v4h-5zM482 1250h5v4h-5zM585 1250h10v4h-10zM693 1250h5v4h-5zM726 1250h5v4h-5zM740 1250h5v4h-5zM750 1250h9v4h-9zM764 1250h5v4h-5zM801 1250h5v4h-5zM130 1254h5v5h-5zM219 1254h5v5h-5zM440 1254h5v5h-5zM459 1254h4v5h-4zM473 1254h5v5h-5zM482 1254h5v5h-5zM553 1254h4v5h-4zM567 1254h4v5h-4zM585 1254h5v5h-5zM595 1254h5v5h-5zM693 1254h10v5h-10zM745 1254h5v5h-5zM759 1254h10v5h-10zM778 1254h9v5h-9zM797 1254h14v5h-14zM130 1259h5v4h-5zM412 1259h5v4h-5zM454 1259h5v4h-5zM463 1259h10v4h-10zM590 1259h10v4h-10zM717 1259h5v4h-5zM759 1259h5v4h-5zM797 1259h4v4h-4zM815 1259h5v4h-5zM135 1263h5v4h-5zM417 1263h4v4h-4zM440 1263h5v4h-5zM473 1263h9v4h-9zM581 1263h4v4h-4zM618 1263h5v4h-5zM698 1263h5v4h-5zM722 1263h4v4h-4zM750 1263h4v4h-4zM815 1263h5v4h-5zM825 1263h9v4h-9zM135 1267h9v5h-9zM205 1267h5v5h-5zM393 1267h5v5h-5zM412 1267h9v5h-9zM440 1267h5v5h-5zM459 1267h4v5h-4zM468 1267h10v5h-10zM482 1267h5v5h-5zM529 1267h5v5h-5zM553 1267h4v5h-4zM576 1267h5v5h-5zM740 1267h19v5h-19zM764 1267h5v5h-5zM187 1272h4v4h-4zM468 1272h5v4h-5zM478 1272h14v4h-14zM703 1272h5v4h-5zM726 1272h5v4h-5zM740 1272h5v4h-5zM764 1272h5v4h-5zM797 1272h4v4h-4zM811 1272h4v4h-4zM196 1276h5v5h-5zM412 1276h5v5h-5zM463 1276h5v5h-5zM473 1276h9v5h-9zM520 1276h4v5h-4zM557 1276h5v5h-5zM581 1276h4v5h-4zM783 1276h4v5h-4zM797 1276h4v5h-4zM820 1276h5v5h-5zM130 1281h10v4h-10zM149 1281h5v4h-5zM158 1281h5v4h-5zM370 1281h9v4h-9zM478 1281h4v4h-4zM487 1281h5v4h-5zM506 1281h4v4h-4zM548 1281h9v4h-9zM670 1281h5v4h-5zM698 1281h5v4h-5zM745 1281h5v4h-5zM773 1281h5v4h-5zM356 1285h4v4h-4zM417 1285h4v4h-4zM492 1285h4v4h-4zM548 1285h5v4h-5zM571 1285h5v4h-5zM595 1285h5v4h-5zM679 1285h5v4h-5zM693 1285h10v4h-10zM759 1285h5v4h-5zM787 1285h5v4h-5zM797 1285h4v4h-4zM163 1289h5v5h-5zM196 1289h5v5h-5zM506 1289h4v5h-4zM529 1289h5v5h-5zM557 1289h5v5h-5zM670 1289h5v5h-5zM750 1289h4v5h-4zM130 1294h5v4h-5zM149 1294h9v4h-9zM163 1294h14v4h-14zM346 1294h5v4h-5zM374 1294h5v4h-5zM553 1294h4v4h-4zM679 1294h5v4h-5zM693 1294h5v4h-5zM750 1294h4v4h-4zM759 1294h10v4h-10zM830 1294h4v4h-4zM144 1298h5v5h-5zM158 1298h5v5h-5zM177 1298h14v5h-14zM215 1298h4v5h-4zM370 1298h4v5h-4zM388 1298h5v5h-5zM412 1298h5v5h-5zM454 1298h5v5h-5zM468 1298h14v5h-14zM520 1298h4v5h-4zM750 1298h4v5h-4zM764 1298h5v5h-5zM778 1298h5v5h-5zM825 1298h5v5h-5zM135 1303h9v4h-9zM154 1303h9v4h-9zM177 1303h5v4h-5zM196 1303h5v4h-5zM360 1303h5v4h-5zM379 1303h5v4h-5zM426 1303h5v4h-5zM449 1303h10v4h-10zM468 1303h5v4h-5zM482 1303h5v4h-5zM496 1303h5v4h-5zM675 1303h4v4h-4zM740 1303h10v4h-10zM787 1303h10v4h-10zM811 1303h4v4h-4zM135 1307h5v4h-5zM154 1307h4v4h-4zM196 1307h5v4h-5zM356 1307h4v4h-4zM379 1307h5v4h-5zM454 1307h5v4h-5zM463 1307h5v4h-5zM510 1307h5v4h-5zM548 1307h5v4h-5zM778 1307h9v4h-9zM797 1307h4v4h-4zM187 1311h4v5h-4zM196 1311h5v5h-5zM454 1311h5v5h-5zM510 1311h10v5h-10zM524 1311h10v5h-10zM553 1311h4v5h-4zM736 1311h4v5h-4zM783 1311h4v5h-4zM130 1316h14v4h-14zM149 1316h5v4h-5zM346 1316h5v4h-5zM553 1316h4v4h-4zM740 1316h5v4h-5zM787 1316h10v4h-10zM806 1316h5v4h-5zM149 1320h14v5h-14zM196 1320h5v5h-5zM351 1320h5v5h-5zM426 1320h5v5h-5zM726 1320h5v5h-5zM740 1320h10v5h-10zM769 1320h4v5h-4zM806 1320h5v5h-5zM135 1325h5v4h-5zM154 1325h4v4h-4zM201 1325h9v4h-9zM449 1325h5v4h-5zM482 1325h5v4h-5zM510 1325h5v4h-5zM661 1325h4v4h-4zM679 1325h5v4h-5zM740 1325h5v4h-5zM759 1325h5v4h-5zM792 1325h5v4h-5zM187 1329h9v4h-9zM201 1329h4v4h-4zM346 1329h5v4h-5zM417 1329h4v4h-4zM496 1329h5v4h-5zM722 1329h4v4h-4zM764 1329h5v4h-5zM773 1329h10v4h-10zM830 1329h4v4h-4zM177 1333h10v5h-10zM257 1333h5v5h-5zM337 1333h4v5h-4zM412 1333h5v5h-5zM454 1333h5v5h-5zM463 1333h5v5h-5zM506 1333h4v5h-4zM520 1333h4v5h-4zM548 1333h5v5h-5zM651 1333h5v5h-5zM726 1333h5v5h-5zM801 1333h5v5h-5zM163 1338h10v4h-10zM426 1338h5v4h-5zM487 1338h5v4h-5zM618 1338h10v4h-10zM661 1338h4v4h-4zM679 1338h5v4h-5zM712 1338h5v4h-5zM722 1338h4v4h-4zM745 1338h5v4h-5zM754 1338h5v4h-5zM764 1338h5v4h-5zM811 1338h4v4h-4zM187 1342h9v5h-9zM224 1342h5v5h-5zM243 1342h14v5h-14zM318 1342h9v5h-9zM341 1342h5v5h-5zM445 1342h14v5h-14zM482 1342h5v5h-5zM618 1342h5v5h-5zM651 1342h10v5h-10zM689 1342h9v5h-9zM703 1342h9v5h-9zM745 1342h5v5h-5zM764 1342h5v5h-5zM801 1342h14v5h-14zM182 1347h5v4h-5zM205 1347h5v4h-5zM234 1347h4v4h-4zM266 1347h5v4h-5zM318 1347h5v4h-5zM445 1347h4v4h-4zM468 1347h5v4h-5zM478 1347h4v4h-4zM661 1347h4v4h-4zM675 1347h4v4h-4zM698 1347h10v4h-10zM726 1347h10v4h-10zM740 1347h10v4h-10zM764 1347h5v4h-5zM783 1347h4v4h-4zM792 1347h9v4h-9zM834 1347h5v4h-5zM187 1351h4v4h-4zM205 1351h5v4h-5zM238 1351h10v4h-10zM323 1351h4v4h-4zM417 1351h9v4h-9zM623 1351h5v4h-5zM698 1351h5v4h-5zM717 1351h5v4h-5zM740 1351h5v4h-5zM750 1351h4v4h-4zM769 1351h4v4h-4zM778 1351h5v4h-5zM787 1351h10v4h-10zM801 1351h14v4h-14zM257 1355h5v5h-5zM675 1355h9v5h-9zM736 1355h9v5h-9zM811 1355h4v5h-4zM177 1360h5v4h-5zM252 1360h5v4h-5zM393 1360h5v4h-5zM431 1360h4v4h-4zM773 1360h5v4h-5zM797 1360h9v4h-9zM182 1364h5v5h-5zM205 1364h10v5h-10zM417 1364h4v5h-4zM426 1364h5v5h-5zM435 1364h5v5h-5zM750 1364h4v5h-4zM797 1364h9v5h-9zM177 1369h5v4h-5zM313 1369h5v4h-5zM426 1369h5v4h-5zM628 1369h4v4h-4zM736 1369h4v4h-4zM750 1369h4v4h-4zM783 1369h9v4h-9zM177 1373h10v4h-10zM407 1373h5v4h-5zM675 1373h4v4h-4zM698 1373h10v4h-10zM712 1373h5v4h-5zM722 1373h4v4h-4zM745 1373h5v4h-5zM764 1373h5v4h-5zM140 1377h4v5h-4zM177 1377h5v5h-5zM388 1377h5v5h-5zM431 1377h4v5h-4zM651 1377h5v5h-5zM670 1377h9v5h-9zM689 1377h4v5h-4zM722 1377h9v5h-9zM140 1382h4v4h-4zM248 1382h4v4h-4zM642 1382h4v4h-4zM661 1382h4v4h-4zM679 1382h5v4h-5zM163 1386h5v5h-5zM219 1386h10v5h-10zM248 1386h4v5h-4zM271 1386h5v5h-5zM393 1386h5v5h-5zM646 1386h10v5h-10zM745 1386h5v5h-5zM815 1386h5v5h-5zM163 1391h5v4h-5zM173 1391h9v4h-9zM257 1391h5v4h-5zM266 1391h5v4h-5zM285 1391h5v4h-5zM356 1391h4v4h-4zM365 1391h5v4h-5zM374 1391h10v4h-10zM656 1391h5v4h-5zM722 1391h4v4h-4zM731 1391h5v4h-5zM177 1395h5v4h-5zM229 1395h5v4h-5zM238 1395h5v4h-5zM252 1395h5v4h-5zM262 1395h4v4h-4zM285 1395h5v4h-5zM341 1395h10v4h-10zM370 1395h4v4h-4zM665 1395h5v4h-5zM717 1395h5v4h-5zM736 1395h4v4h-4zM177 1399h5v5h-5zM252 1399h5v5h-5zM304 1399h9v5h-9zM318 1399h9v5h-9zM341 1399h5v5h-5zM651 1399h5v5h-5zM726 1399h10v5h-10zM187 1404h4v4h-4zM295 1404h4v4h-4zM337 1404h4v4h-4zM736 1404h4v4h-4zM168 1408h14v5h-14zM219 1408h5v5h-5zM252 1408h10v5h-10zM276 1408h9v5h-9zM290 1408h9v5h-9zM684 1408h5v5h-5zM731 1408h5v5h-5zM215 1413h4v4h-4zM229 1413h5v4h-5zM262 1413h4v4h-4zM271 1413h5v4h-5zM309 1413h4v4h-4zM229 1417h5v4h-5zM238 1417h19v4h-19zM266 1417h5v4h-5zM276 1417h4v4h-4zM210 1421h5v5h-5zM229 1421h5v5h-5zM248 1421h9v5h-9zM365 1421h5v5h-5zM205 1426h5v4h-5zM365 1426h5v4h-5zM257 1430h5v5h-5zM276 1430h4v5h-4zM356 1430h4v5h-4zM299 1435h5v4h-5zM266 1439h5v4h-5zM313 1439h5v4h-5zM360 1439h5v4h-5zM323 1448h4v4h-4zM346 1448h5v4h-5zM323 1452h9v5h-9zM346 1452h10v5h-10zM271 1457h5v4h-5zM332 1457h5v4h-5zM276 1461h4v4h-4zM295 1461h4v4h-4zM323 1461h4v4h-4zM332 1461h5v4h-5zM346 1461h5v4h-5zM341 1465h5v5h-5zM365 1465h9v5h-9zM280 1470h5v4h-5zM337 1470h4v4h-4zM346 1470h5v4h-5zM370 1470h9v4h-9zM280 1474h10v5h-10zM360 1474h5v5h-5zM304 1483h5v4h-5zM341 1483h5v4h-5zM351 1483h5v4h-5zM323 1487h9v5h-9zM304 1492h5v4h-5zM285 1496h5v5h-5zM295 1501h4v4h-4zM309 1501h4v4h-4zM290 1505h5v4h-5zM309 1505h4v4h-4zM318 1505h9v4h-9zM304 1509h5v5h-5zM351 1509h5v5h-5zM229 1514h5v4h-5zM243 1518h5v5h-5zM271 1518h5v5h-5zM295 1518h4v5h-4zM243 1523h5v4h-5zM309 1523h4v4h-4zM191 1527h10v4h-10zM285 1527h5v4h-5zM266 1531h5v5h-5zM238 1540h5v5h-5zM257 1540h5v5h-5zM257 1545h5v4h-5zM318 1545h5v4h-5zM351 1545h5v4h-5zM205 1549h5v4h-5zM346 1549h5v4h-5zM346 1553h5v5h-5zM295 1558h9v4h-9zM332 1558h5v4h-5zM346 1558h14v4h-14zM182 1562h9v5h-9zM299 1567h5v4h-5zM229 1575h5v5h-5zM196 1580h5v4h-5zM210 1580h5v4h-5zM271 1580h5v4h-5zM280 1580h5v4h-5zM309 1580h4v4h-4zM327 1580h5v4h-5zM177 1584h5v5h-5zM201 1584h4v5h-4zM224 1584h5v5h-5zM234 1584h9v5h-9zM262 1584h4v5h-4zM280 1584h5v5h-5zM295 1584h4v5h-4zM177 1589h5v4h-5zM196 1589h5v4h-5zM234 1589h4v4h-4zM295 1589h4v4h-4zM196 1593h9v4h-9zM229 1593h5v4h-5zM243 1593h5v4h-5zM262 1593h4v4h-4zM177 1597h5v5h-5zM210 1597h5v5h-5zM229 1597h5v5h-5zM304 1597h5v5h-5zM327 1597h5v5h-5zM177 1602h5v4h-5zM191 1602h5v4h-5zM224 1602h5v4h-5zM234 1602h9v4h-9zM257 1602h5v4h-5zM332 1602h5v4h-5zM158 1606h10v5h-10zM182 1606h5v5h-5zM205 1606h5v5h-5zM248 1606h4v5h-4zM257 1606h5v5h-5zM280 1606h5v5h-5zM196 1611h5v4h-5zM243 1611h5v4h-5zM280 1611h5v4h-5zM313 1615h5v4h-5zM191 1619h5v5h-5zM215 1619h4v5h-4zM201 1624h4v4h-4zM248 1624h9v4h-9zM187 1628h4v5h-4zM262 1628h4v5h-4zM140 1633h4v4h-4zM219 1633h5v4h-5zM224 1637h5v4h-5zM248 1637h4v4h-4zM257 1637h5v4h-5zM168 1641h5v5h-5zM205 1641h5v5h-5zM243 1641h5v5h-5zM196 1646h5v4h-5zM219 1646h5v4h-5zM234 1646h9v4h-9zM248 1650h4v5h-4zM187 1655h4v4h-4zM173 1659h4v4h-4zM187 1659h14v4h-14zM224 1659h5v4h-5zM219 1663h5v5h-5zM234 1663h4v5h-4zM187 1668h4v4h-4zM205 1668h5v4h-5zM234 1668h4v4h-4zM140 1672h4v5h-4zM191 1672h5v5h-5zM130 1677h5v4h-5zM144 1677h5v4h-5zM163 1677h10v4h-10zM135 1681h5v4h-5zM144 1681h10v4h-10zM196 1681h9v4h-9zM144 1685h5v5h-5zM173 1685h4v5h-4zM196 1685h9v5h-9zM140 1690h9v4h-9zM130 1694h5v5h-5zM182 1694h5v5h-5zM191 1694h5v5h-5zM140 1699h4v4h-4zM177 1699h10v4h-10zM144 1703h5v4h-5zM149 1707h5v5h-5zM163 1707h14v5h-14zM135 1712h5v4h-5zM168 1712h14v4h-14zM144 1721h5v4h-5zM154 1721h9v4h-9zM158 1725h5v4h-5zM130 1729h5v5h-5zM130 1734h5v4h-5zM135 1738h5v5h-5zM130 1743h5v4h-5zM140 1743h4v4h-4zM177 1760h5v5h-5zM187 1760h4v5h-4zM173 1765h14v4h-14zM173 1769h4v4h-4zM140 1782h4v5h-4z"/><path fill="#00bc50" d="M384 1166h4v5h-4zM482 1166h5v5h-5zM609 1166h5v5h-5zM637 1166h14v5h-14zM656 1166h5v5h-5zM778 1166h9v5h-9zM384 1171h4v4h-4zM595 1171h5v4h-5zM632 1171h5v4h-5zM646 1171h5v4h-5zM684 1171h5v4h-5zM708 1171h4v4h-4zM323 1175h4v4h-4zM379 1175h5v4h-5zM520 1175h4v4h-4zM595 1175h9v4h-9zM642 1175h4v4h-4zM693 1175h5v4h-5zM787 1175h5v4h-5zM360 1179h5v5h-5zM398 1179h4v5h-4zM539 1179h4v5h-4zM590 1179h5v5h-5zM609 1179h5v5h-5zM675 1179h4v5h-4zM299 1184h5v4h-5zM492 1184h4v4h-4zM604 1184h5v4h-5zM618 1184h5v4h-5zM675 1184h4v4h-4zM722 1184h4v4h-4zM815 1184h5v4h-5zM510 1188h5v5h-5zM524 1188h10v5h-10zM543 1188h5v5h-5zM600 1188h4v5h-4zM609 1188h5v5h-5zM618 1188h5v5h-5zM637 1188h14v5h-14zM670 1188h5v5h-5zM140 1193h4v4h-4zM496 1193h5v4h-5zM557 1193h5v4h-5zM581 1193h4v4h-4zM646 1193h5v4h-5zM689 1193h4v4h-4zM815 1193h10v4h-10zM496 1197h5v4h-5zM548 1197h5v4h-5zM590 1197h5v4h-5zM609 1197h5v4h-5zM693 1197h5v4h-5zM834 1197h5v4h-5zM407 1201h5v5h-5zM487 1201h5v5h-5zM539 1201h4v5h-4zM548 1201h9v5h-9zM679 1201h10v5h-10zM703 1201h5v5h-5zM323 1206h4v4h-4zM426 1206h5v4h-5zM506 1206h4v4h-4zM548 1206h5v4h-5zM646 1206h5v4h-5zM656 1206h5v4h-5zM754 1206h5v4h-5zM764 1206h5v4h-5zM830 1206h4v4h-4zM346 1210h5v5h-5zM496 1210h5v5h-5zM543 1210h10v5h-10zM571 1210h5v5h-5zM661 1210h4v5h-4zM731 1210h5v5h-5zM759 1210h5v5h-5zM778 1210h5v5h-5zM412 1215h5v4h-5zM501 1215h5v4h-5zM571 1215h5v4h-5zM595 1215h5v4h-5zM656 1215h5v4h-5zM675 1215h9v4h-9zM764 1215h5v4h-5zM783 1215h4v4h-4zM797 1215h4v4h-4zM417 1219h4v4h-4zM431 1219h4v4h-4zM665 1219h5v4h-5zM675 1219h4v4h-4zM698 1219h5v4h-5zM712 1219h5v4h-5zM764 1219h5v4h-5zM778 1219h9v4h-9zM337 1223h4v5h-4zM388 1223h5v5h-5zM402 1223h5v5h-5zM473 1223h5v5h-5zM675 1223h4v5h-4zM783 1223h4v5h-4zM792 1223h5v5h-5zM337 1228h4v4h-4zM402 1228h5v4h-5zM684 1228h5v4h-5zM778 1228h5v4h-5zM440 1232h5v5h-5zM454 1232h5v5h-5zM468 1232h5v5h-5zM496 1232h5v5h-5zM675 1232h4v5h-4zM684 1232h9v5h-9zM769 1232h4v5h-4zM337 1237h4v4h-4zM417 1237h9v4h-9zM435 1237h5v4h-5zM445 1237h4v4h-4zM454 1237h5v4h-5zM463 1237h5v4h-5zM670 1237h5v4h-5zM684 1237h5v4h-5zM745 1237h5v4h-5zM163 1241h5v4h-5zM318 1241h5v4h-5zM388 1241h5v4h-5zM449 1241h10v4h-10zM463 1241h5v4h-5zM478 1241h4v4h-4zM501 1241h5v4h-5zM675 1241h4v4h-4zM689 1241h4v4h-4zM745 1241h9v4h-9zM201 1245h4v5h-4zM323 1245h4v5h-4zM388 1245h5v5h-5zM454 1245h14v5h-14zM473 1245h5v5h-5zM482 1245h5v5h-5zM553 1245h4v5h-4zM693 1245h5v5h-5zM740 1245h5v5h-5zM801 1245h5v5h-5zM196 1250h5v4h-5zM388 1250h5v4h-5zM440 1250h5v4h-5zM468 1250h5v4h-5zM492 1250h4v4h-4zM595 1250h5v4h-5zM722 1250h4v4h-4zM745 1250h5v4h-5zM759 1250h5v4h-5zM778 1250h5v4h-5zM792 1250h9v4h-9zM815 1250h5v4h-5zM173 1254h9v5h-9zM309 1254h4v5h-4zM445 1254h4v5h-4zM463 1254h5v5h-5zM492 1254h4v5h-4zM581 1254h4v5h-4zM590 1254h5v5h-5zM703 1254h5v5h-5zM712 1254h5v5h-5zM731 1254h9v5h-9zM750 1254h4v5h-4zM792 1254h5v5h-5zM135 1259h9v4h-9zM154 1259h4v4h-4zM196 1259h5v4h-5zM440 1259h5v4h-5zM478 1259h4v4h-4zM487 1259h5v4h-5zM553 1259h9v4h-9zM571 1259h10v4h-10zM722 1259h4v4h-4zM731 1259h5v4h-5zM740 1259h14v4h-14zM825 1259h5v4h-5zM205 1263h5v4h-5zM487 1263h5v4h-5zM543 1263h10v4h-10zM567 1263h4v4h-4zM703 1263h9v4h-9zM726 1263h5v4h-5zM736 1263h4v4h-4zM745 1263h5v4h-5zM191 1267h5v5h-5zM388 1267h5v5h-5zM398 1267h4v5h-4zM435 1267h5v5h-5zM463 1267h5v5h-5zM478 1267h4v5h-4zM712 1267h10v5h-10zM726 1267h5v5h-5zM830 1267h4v5h-4zM135 1272h9v4h-9zM191 1272h5v4h-5zM327 1272h5v4h-5zM435 1272h5v4h-5zM473 1272h5v4h-5zM529 1272h5v4h-5zM548 1272h5v4h-5zM689 1272h4v4h-4zM698 1272h5v4h-5zM717 1272h5v4h-5zM745 1272h14v4h-14zM135 1276h5v5h-5zM177 1276h5v5h-5zM191 1276h5v5h-5zM454 1276h5v5h-5zM468 1276h5v5h-5zM482 1276h5v5h-5zM562 1276h5v5h-5zM689 1276h14v5h-14zM712 1276h5v5h-5zM745 1276h19v5h-19zM787 1276h5v5h-5zM163 1281h5v4h-5zM468 1281h10v4h-10zM571 1281h10v4h-10zM708 1281h4v4h-4zM783 1281h4v4h-4zM130 1285h5v4h-5zM154 1285h14v4h-14zM191 1285h5v4h-5zM205 1285h5v4h-5zM370 1285h9v4h-9zM402 1285h5v4h-5zM478 1285h4v4h-4zM487 1285h5v4h-5zM543 1285h5v4h-5zM553 1285h9v4h-9zM567 1285h4v4h-4zM675 1285h4v4h-4zM764 1285h5v4h-5zM158 1289h5v5h-5zM440 1289h5v5h-5zM473 1289h5v5h-5zM487 1289h5v5h-5zM543 1289h5v5h-5zM675 1289h9v5h-9zM759 1289h14v5h-14zM158 1294h5v4h-5zM182 1294h14v4h-14zM407 1294h5v4h-5zM492 1294h4v4h-4zM539 1294h4v4h-4zM548 1294h5v4h-5zM773 1294h14v4h-14zM792 1294h9v4h-9zM815 1294h5v4h-5zM435 1298h5v5h-5zM534 1298h19v5h-19zM679 1298h5v5h-5zM787 1298h10v5h-10zM801 1298h10v5h-10zM834 1298h5v5h-5zM144 1303h10v4h-10zM341 1303h5v4h-5zM431 1303h4v4h-4zM473 1303h9v4h-9zM515 1303h9v4h-9zM543 1303h10v4h-10zM679 1303h5v4h-5zM778 1303h5v4h-5zM797 1303h4v4h-4zM144 1307h5v4h-5zM351 1307h5v4h-5zM370 1307h4v4h-4zM449 1307h5v4h-5zM468 1307h5v4h-5zM496 1307h5v4h-5zM515 1307h9v4h-9zM684 1307h5v4h-5zM740 1307h5v4h-5zM787 1307h10v4h-10zM191 1311h5v5h-5zM201 1311h4v5h-4zM365 1311h5v5h-5zM468 1311h5v5h-5zM787 1311h10v5h-10zM801 1311h5v5h-5zM435 1316h10v4h-10zM548 1316h5v4h-5zM736 1316h4v4h-4zM797 1316h4v4h-4zM825 1316h5v4h-5zM135 1320h14v5h-14zM201 1320h9v5h-9zM482 1320h5v5h-5zM524 1320h5v5h-5zM712 1320h5v5h-5zM736 1320h4v5h-4zM754 1320h10v5h-10zM801 1320h5v5h-5zM820 1320h5v5h-5zM130 1325h5v4h-5zM140 1325h4v4h-4zM187 1325h4v4h-4zM341 1325h5v4h-5zM356 1325h9v4h-9zM431 1325h4v4h-4zM534 1325h5v4h-5zM553 1325h4v4h-4zM745 1325h5v4h-5zM754 1325h5v4h-5zM773 1325h5v4h-5zM825 1325h14v4h-14zM135 1329h9v4h-9zM341 1329h5v4h-5zM463 1329h5v4h-5zM487 1329h5v4h-5zM529 1329h5v4h-5zM548 1329h5v4h-5zM661 1329h4v4h-4zM726 1329h5v4h-5zM792 1329h5v4h-5zM820 1329h5v4h-5zM144 1333h10v5h-10zM158 1333h5v5h-5zM351 1333h5v5h-5zM421 1333h5v5h-5zM468 1333h5v5h-5zM487 1333h5v5h-5zM501 1333h5v5h-5zM515 1333h5v5h-5zM529 1333h5v5h-5zM543 1333h5v5h-5zM679 1333h5v5h-5zM722 1333h4v5h-4zM811 1333h4v5h-4zM834 1333h5v5h-5zM219 1338h5v4h-5zM266 1338h5v4h-5zM327 1338h10v4h-10zM421 1338h5v4h-5zM468 1338h5v4h-5zM492 1338h4v4h-4zM515 1338h5v4h-5zM524 1338h5v4h-5zM675 1338h4v4h-4zM689 1338h4v4h-4zM703 1338h5v4h-5zM717 1338h5v4h-5zM750 1338h4v4h-4zM797 1338h9v4h-9zM173 1342h14v5h-14zM266 1342h5v5h-5zM309 1342h4v5h-4zM459 1342h4v5h-4zM468 1342h10v5h-10zM675 1342h4v5h-4zM712 1342h10v5h-10zM736 1342h4v5h-4zM815 1342h5v5h-5zM834 1342h5v5h-5zM173 1347h4v4h-4zM187 1347h4v4h-4zM238 1347h5v4h-5zM313 1347h5v4h-5zM454 1347h9v4h-9zM618 1347h10v4h-10zM736 1347h4v4h-4zM759 1347h5v4h-5zM801 1347h19v4h-19zM257 1351h5v4h-5zM266 1351h5v4h-5zM402 1351h15v4h-15zM736 1351h4v4h-4zM745 1351h5v4h-5zM797 1351h4v4h-4zM262 1355h4v5h-4zM417 1355h4v5h-4zM769 1355h4v5h-4zM778 1355h5v5h-5zM792 1355h19v5h-19zM257 1360h5v4h-5zM304 1360h5v4h-5zM398 1360h4v4h-4zM435 1360h10v4h-10zM736 1360h4v4h-4zM745 1360h9v4h-9zM787 1360h5v4h-5zM177 1364h5v5h-5zM262 1364h4v5h-4zM309 1364h4v5h-4zM398 1364h4v5h-4zM440 1364h5v5h-5zM740 1364h10v5h-10zM144 1369h5v4h-5zM154 1369h4v4h-4zM280 1369h5v4h-5zM304 1369h9v4h-9zM679 1369h5v4h-5zM764 1369h9v4h-9zM778 1369h5v4h-5zM140 1373h4v4h-4zM379 1373h5v4h-5zM412 1373h5v4h-5zM684 1373h5v4h-5zM754 1373h10v4h-10zM130 1377h5v5h-5zM158 1377h5v5h-5zM679 1377h10v5h-10zM712 1377h5v5h-5zM731 1377h9v5h-9zM787 1377h5v5h-5zM651 1382h5v4h-5zM712 1382h14v4h-14zM783 1382h14v4h-14zM158 1386h5v5h-5zM177 1386h5v5h-5zM234 1386h4v5h-4zM360 1386h5v5h-5zM661 1386h4v5h-4zM736 1386h4v5h-4zM158 1391h5v4h-5zM201 1391h4v4h-4zM210 1391h5v4h-5zM238 1391h5v4h-5zM252 1391h5v4h-5zM646 1391h10v4h-10zM318 1395h5v4h-5zM365 1395h5v4h-5zM651 1395h5v4h-5zM726 1395h10v4h-10zM243 1399h5v5h-5zM346 1399h5v5h-5zM717 1399h9v5h-9zM173 1404h4v4h-4zM238 1404h5v4h-5zM257 1404h5v4h-5zM341 1404h5v4h-5zM163 1408h5v5h-5zM191 1408h5v5h-5zM238 1408h5v5h-5zM158 1413h5v4h-5zM210 1413h5v4h-5zM243 1413h5v4h-5zM252 1413h5v4h-5zM280 1413h10v4h-10zM313 1413h5v4h-5zM360 1413h5v4h-5zM205 1417h5v4h-5zM262 1417h4v4h-4zM201 1421h4v5h-4zM224 1421h5v5h-5zM234 1421h4v5h-4zM243 1421h5v5h-5zM271 1421h5v5h-5zM210 1426h5v4h-5zM234 1426h4v4h-4zM356 1426h9v4h-9zM215 1430h4v5h-4zM313 1430h10v5h-10zM327 1430h5v5h-5zM191 1435h5v4h-5zM215 1435h4v4h-4zM276 1435h4v4h-4zM356 1435h9v4h-9zM229 1439h5v4h-5zM252 1439h5v4h-5zM271 1439h9v4h-9zM252 1443h10v5h-10zM295 1443h4v5h-4zM238 1448h10v4h-10zM262 1448h4v4h-4zM290 1448h5v4h-5zM327 1448h19v4h-19zM351 1448h5v4h-5zM290 1457h5v4h-5zM327 1461h5v4h-5zM280 1465h5v5h-5zM290 1465h5v5h-5zM327 1465h5v5h-5zM346 1465h5v5h-5zM285 1470h5v4h-5zM323 1470h9v4h-9zM365 1470h5v4h-5zM346 1474h5v5h-5zM346 1479h5v4h-5zM327 1492h5v4h-5zM341 1492h5v4h-5zM351 1492h5v4h-5zM290 1496h9v5h-9zM337 1496h4v5h-4zM351 1496h5v5h-5zM262 1501h4v4h-4zM285 1501h10v4h-10zM313 1501h5v4h-5zM229 1505h5v4h-5zM285 1505h5v4h-5zM323 1509h4v5h-4zM271 1514h9v4h-9zM304 1514h5v4h-5zM351 1514h5v4h-5zM196 1523h5v4h-5zM271 1523h5v4h-5zM299 1523h10v4h-10zM332 1527h5v4h-5zM243 1536h5v4h-5zM341 1536h5v4h-5zM201 1540h4v5h-4zM323 1545h9v4h-9zM346 1545h5v4h-5zM313 1549h5v4h-5zM337 1549h9v4h-9zM191 1553h10v5h-10zM341 1553h5v5h-5zM351 1553h9v5h-9zM309 1558h9v4h-9zM327 1558h5v4h-5zM191 1562h5v5h-5zM201 1562h4v5h-4zM219 1562h10v5h-10zM182 1567h5v4h-5zM196 1567h5v4h-5zM205 1567h5v4h-5zM219 1567h5v4h-5zM276 1567h4v4h-4zM290 1567h5v4h-5zM191 1571h5v4h-5zM219 1571h5v4h-5zM234 1571h4v4h-4zM290 1571h5v4h-5zM234 1575h4v5h-4zM276 1575h4v5h-4zM299 1575h5v5h-5zM323 1575h4v5h-4zM191 1580h5v4h-5zM205 1580h5v4h-5zM257 1580h5v4h-5zM295 1580h9v4h-9zM323 1580h4v4h-4zM299 1584h5v5h-5zM219 1589h5v4h-5zM271 1589h9v4h-9zM177 1593h5v4h-5zM215 1593h4v4h-4zM248 1593h4v4h-4zM295 1593h4v4h-4zM168 1597h5v5h-5zM266 1597h5v5h-5zM332 1597h5v5h-5zM168 1602h5v4h-5zM205 1602h19v4h-19zM252 1602h5v4h-5zM318 1602h5v4h-5zM210 1606h5v5h-5zM229 1606h5v5h-5zM243 1606h5v5h-5zM285 1606h5v5h-5zM318 1606h5v5h-5zM215 1611h4v4h-4zM229 1611h5v4h-5zM313 1611h10v4h-10zM173 1615h9v4h-9zM229 1615h5v4h-5zM243 1615h5v4h-5zM318 1615h5v4h-5zM196 1619h5v5h-5zM219 1619h5v5h-5zM196 1624h5v4h-5zM177 1628h10v5h-10zM201 1628h9v5h-9zM243 1628h5v5h-5zM158 1633h5v4h-5zM177 1633h5v4h-5zM262 1633h9v4h-9zM201 1637h9v4h-9zM262 1637h4v4h-4zM238 1641h5v5h-5zM252 1641h14v5h-14zM173 1646h4v4h-4zM229 1655h5v4h-5zM234 1659h9v4h-9zM154 1663h4v5h-4zM187 1663h9v5h-9zM163 1668h5v4h-5zM182 1668h5v4h-5zM215 1668h4v4h-4zM130 1672h5v5h-5zM154 1672h14v5h-14zM173 1672h18v5h-18zM205 1672h10v5h-10zM135 1677h5v4h-5zM154 1677h9v4h-9zM173 1681h4v4h-4zM149 1694h5v5h-5zM158 1694h5v5h-5zM130 1699h5v4h-5zM140 1703h4v4h-4zM158 1703h5v4h-5zM177 1703h10v4h-10zM144 1707h5v5h-5zM177 1707h5v5h-5zM135 1716h9v5h-9zM130 1721h10v4h-10zM135 1734h5v4h-5z"/><path fill="#00bf56" d="M323 1166h4v5h-4zM506 1166h4v5h-4zM534 1166h5v5h-5zM388 1171h5v4h-5zM510 1171h5v4h-5zM534 1171h5v4h-5zM637 1171h9v4h-9zM689 1171h4v4h-4zM295 1175h4v4h-4zM417 1175h4v4h-4zM510 1175h5v4h-5zM524 1175h15v4h-15zM712 1175h5v4h-5zM299 1179h5v5h-5zM473 1179h5v5h-5zM496 1179h5v5h-5zM506 1179h4v5h-4zM524 1179h5v5h-5zM604 1179h5v5h-5zM642 1179h4v5h-4zM693 1179h5v5h-5zM304 1184h5v4h-5zM337 1184h4v4h-4zM496 1184h10v4h-10zM539 1184h4v4h-4zM670 1184h5v4h-5zM295 1188h4v5h-4zM337 1188h4v5h-4zM431 1188h4v5h-4zM496 1188h10v5h-10zM534 1188h5v5h-5zM585 1188h15v5h-15zM614 1188h4v5h-4zM388 1193h5v4h-5zM492 1193h4v4h-4zM590 1193h5v4h-5zM698 1193h5v4h-5zM459 1197h4v4h-4zM553 1197h4v4h-4zM585 1197h5v4h-5zM689 1197h4v4h-4zM379 1201h5v5h-5zM417 1201h4v5h-4zM468 1201h5v5h-5zM543 1201h5v5h-5zM595 1201h5v5h-5zM689 1201h4v5h-4zM834 1201h5v5h-5zM539 1206h4v4h-4zM703 1206h5v4h-5zM834 1206h5v4h-5zM449 1210h5v5h-5zM646 1210h5v5h-5zM656 1210h5v5h-5zM149 1215h5v4h-5zM346 1215h5v4h-5zM417 1215h4v4h-4zM431 1215h4v4h-4zM487 1215h5v4h-5zM651 1215h5v4h-5zM684 1215h5v4h-5zM717 1215h5v4h-5zM726 1215h5v4h-5zM149 1219h5v4h-5zM327 1219h5v4h-5zM402 1219h5v4h-5zM454 1219h5v4h-5zM679 1219h5v4h-5zM759 1219h5v4h-5zM773 1219h5v4h-5zM360 1223h5v5h-5zM454 1223h5v5h-5zM463 1223h5v5h-5zM693 1223h10v5h-10zM717 1223h5v5h-5zM759 1223h5v5h-5zM379 1228h5v4h-5zM449 1228h5v4h-5zM459 1228h9v4h-9zM675 1228h4v4h-4zM689 1228h4v4h-4zM769 1228h4v4h-4zM435 1232h5v5h-5zM445 1232h4v5h-4zM665 1232h10v5h-10zM708 1232h4v5h-4zM759 1232h5v5h-5zM773 1232h5v5h-5zM412 1237h5v4h-5zM449 1237h5v4h-5zM473 1237h9v4h-9zM675 1237h4v4h-4zM693 1237h5v4h-5zM712 1237h5v4h-5zM759 1237h5v4h-5zM201 1241h4v4h-4zM384 1241h4v4h-4zM407 1241h5v4h-5zM693 1241h10v4h-10zM754 1241h5v4h-5zM196 1245h5v5h-5zM468 1245h5v5h-5zM736 1245h4v5h-4zM745 1245h5v5h-5zM764 1245h5v5h-5zM792 1245h9v5h-9zM806 1245h5v5h-5zM130 1250h5v4h-5zM140 1250h4v4h-4zM149 1250h5v4h-5zM182 1250h5v4h-5zM478 1250h4v4h-4zM698 1250h5v4h-5zM783 1250h4v4h-4zM135 1254h5v5h-5zM163 1254h10v5h-10zM191 1254h10v5h-10zM215 1254h4v5h-4zM449 1254h10v5h-10zM487 1254h5v5h-5zM562 1254h5v5h-5zM726 1254h5v5h-5zM158 1259h10v4h-10zM295 1259h4v4h-4zM379 1259h5v4h-5zM426 1259h5v4h-5zM482 1259h5v4h-5zM820 1259h5v4h-5zM154 1263h4v4h-4zM191 1263h5v4h-5zM388 1263h5v4h-5zM412 1263h5v4h-5zM435 1263h5v4h-5zM482 1263h5v4h-5zM562 1263h5v4h-5zM731 1263h5v4h-5zM820 1263h5v4h-5zM163 1267h5v5h-5zM562 1267h5v5h-5zM571 1267h5v5h-5zM703 1267h5v5h-5zM759 1267h5v5h-5zM163 1272h5v4h-5zM182 1272h5v4h-5zM201 1272h9v4h-9zM337 1272h4v4h-4zM393 1272h5v4h-5zM412 1272h5v4h-5zM426 1272h5v4h-5zM553 1272h4v4h-4zM576 1272h5v4h-5zM693 1272h5v4h-5zM722 1272h4v4h-4zM759 1272h5v4h-5zM163 1276h5v5h-5zM187 1276h4v5h-4zM365 1276h5v5h-5zM402 1276h5v5h-5zM435 1276h5v5h-5zM576 1276h5v5h-5zM708 1276h4v5h-4zM731 1276h5v5h-5zM740 1276h5v5h-5zM182 1281h14v4h-14zM224 1281h5v4h-5zM295 1281h4v4h-4zM304 1281h5v4h-5zM365 1281h5v4h-5zM407 1281h5v4h-5zM449 1281h5v4h-5zM482 1281h5v4h-5zM675 1281h4v4h-4zM787 1281h5v4h-5zM135 1285h5v4h-5zM210 1285h5v4h-5zM304 1285h5v4h-5zM398 1285h4v4h-4zM463 1285h5v4h-5zM501 1285h9v4h-9zM708 1285h4v4h-4zM745 1285h5v4h-5zM773 1285h5v4h-5zM806 1285h5v4h-5zM168 1289h5v5h-5zM182 1289h9v5h-9zM201 1289h4v5h-4zM346 1289h5v5h-5zM360 1289h5v5h-5zM393 1289h5v5h-5zM402 1289h5v5h-5zM417 1289h4v5h-4zM492 1289h4v5h-4zM534 1289h5v5h-5zM548 1289h5v5h-5zM689 1289h4v5h-4zM745 1289h5v5h-5zM773 1289h5v5h-5zM797 1289h4v5h-4zM806 1289h5v5h-5zM196 1294h5v4h-5zM205 1294h5v4h-5zM393 1294h5v4h-5zM402 1294h5v4h-5zM473 1294h5v4h-5zM506 1294h4v4h-4zM534 1294h5v4h-5zM684 1294h5v4h-5zM698 1294h10v4h-10zM787 1294h5v4h-5zM801 1294h10v4h-10zM820 1294h5v4h-5zM154 1298h4v5h-4zM201 1298h4v5h-4zM384 1298h4v5h-4zM426 1298h5v5h-5zM449 1298h5v5h-5zM496 1298h5v5h-5zM797 1298h4v5h-4zM811 1298h4v5h-4zM346 1303h5v4h-5zM435 1303h5v4h-5zM539 1303h4v4h-4zM783 1303h4v4h-4zM801 1303h5v4h-5zM825 1303h5v4h-5zM140 1307h4v4h-4zM365 1307h5v4h-5zM726 1307h5v4h-5zM736 1307h4v4h-4zM445 1311h4v5h-4zM745 1311h5v5h-5zM797 1311h4v5h-4zM806 1311h5v5h-5zM834 1311h5v5h-5zM449 1316h5v4h-5zM463 1316h5v4h-5zM534 1316h5v4h-5zM679 1316h5v4h-5zM811 1316h4v4h-4zM830 1316h4v4h-4zM130 1320h5v5h-5zM341 1320h5v5h-5zM440 1320h5v5h-5zM449 1320h5v5h-5zM496 1320h5v5h-5zM506 1320h4v5h-4zM529 1320h5v5h-5zM553 1320h4v5h-4zM679 1320h5v5h-5zM722 1320h4v5h-4zM506 1325h4v4h-4zM524 1325h10v4h-10zM548 1325h5v4h-5zM689 1325h4v4h-4zM712 1325h5v4h-5zM769 1325h4v4h-4zM811 1325h4v4h-4zM820 1325h5v4h-5zM144 1329h5v4h-5zM337 1329h4v4h-4zM351 1329h5v4h-5zM431 1329h18v4h-18zM506 1329h4v4h-4zM693 1329h5v4h-5zM769 1329h4v4h-4zM825 1329h5v4h-5zM140 1333h4v5h-4zM332 1333h5v5h-5zM426 1333h5v5h-5zM445 1333h4v5h-4zM478 1333h4v5h-4zM539 1333h4v5h-4zM661 1333h4v5h-4zM675 1333h4v5h-4zM717 1333h5v5h-5zM806 1333h5v5h-5zM135 1338h9v4h-9zM248 1338h9v4h-9zM435 1338h5v4h-5zM454 1338h9v4h-9zM473 1338h9v4h-9zM520 1338h4v4h-4zM529 1338h5v4h-5zM651 1338h5v4h-5zM684 1338h5v4h-5zM708 1338h4v4h-4zM815 1338h5v4h-5zM135 1342h9v5h-9zM168 1342h5v5h-5zM229 1342h5v5h-5zM478 1342h4v5h-4zM750 1342h9v5h-9zM830 1342h4v5h-4zM135 1347h5v4h-5zM177 1347h5v4h-5zM754 1347h5v4h-5zM820 1347h10v4h-10zM173 1351h9v4h-9zM722 1351h4v4h-4zM764 1351h5v4h-5zM783 1351h4v4h-4zM309 1355h4v5h-4zM407 1355h10v5h-10zM783 1355h4v5h-4zM262 1360h4v4h-4zM417 1360h4v4h-4zM769 1360h4v4h-4zM402 1364h10v5h-10zM140 1369h4v4h-4zM149 1369h5v4h-5zM398 1369h14v4h-14zM759 1369h5v4h-5zM290 1373h5v4h-5zM717 1373h5v4h-5zM726 1373h10v4h-10zM778 1373h19v4h-19zM717 1377h5v5h-5zM783 1377h4v5h-4zM792 1377h5v5h-5zM130 1382h5v4h-5zM154 1382h4v4h-4zM646 1382h5v4h-5zM656 1382h5v4h-5zM731 1382h5v4h-5zM130 1386h10v5h-10zM149 1386h9v5h-9zM229 1386h5v5h-5zM656 1386h5v5h-5zM182 1391h9v4h-9zM215 1391h4v4h-4zM229 1391h5v4h-5zM726 1391h5v4h-5zM182 1395h5v4h-5zM205 1395h5v4h-5zM234 1395h4v4h-4zM722 1395h4v4h-4zM158 1399h5v5h-5zM182 1399h5v5h-5zM295 1399h9v5h-9zM158 1404h5v4h-5zM177 1404h5v4h-5zM323 1404h9v4h-9zM182 1408h9v5h-9zM243 1408h9v5h-9zM313 1408h5v5h-5zM323 1408h4v5h-4zM332 1408h5v5h-5zM360 1408h5v5h-5zM224 1413h5v4h-5zM248 1413h4v4h-4zM201 1417h4v4h-4zM238 1421h5v5h-5zM276 1421h4v5h-4zM360 1421h5v5h-5zM201 1426h4v4h-4zM238 1426h5v4h-5zM248 1426h9v4h-9zM276 1426h4v4h-4zM205 1430h5v5h-5zM229 1430h9v5h-9zM252 1430h5v5h-5zM280 1430h5v5h-5zM360 1430h5v5h-5zM224 1435h5v4h-5zM252 1435h5v4h-5zM182 1439h5v4h-5zM257 1439h5v4h-5zM295 1439h4v4h-4zM182 1443h5v5h-5zM243 1443h9v5h-9zM262 1443h4v5h-4zM299 1443h5v5h-5zM313 1443h5v5h-5zM304 1448h5v4h-5zM187 1452h4v5h-4zM290 1452h9v5h-9zM285 1457h5v4h-5zM285 1461h10v4h-10zM285 1465h5v5h-5zM309 1465h4v5h-4zM332 1465h5v5h-5zM365 1474h5v5h-5zM351 1479h5v4h-5zM285 1492h5v4h-5zM332 1492h5v4h-5zM346 1492h5v4h-5zM280 1496h5v5h-5zM323 1496h4v5h-4zM332 1496h5v5h-5zM341 1496h5v5h-5zM351 1501h5v4h-5zM346 1505h5v4h-5zM266 1509h5v5h-5zM280 1509h5v5h-5zM309 1509h14v5h-14zM295 1514h9v4h-9zM304 1518h9v5h-9zM341 1518h10v5h-10zM191 1523h5v4h-5zM243 1527h5v4h-5zM271 1527h14v4h-14zM341 1527h5v4h-5zM201 1531h4v5h-4zM262 1531h4v5h-4zM318 1531h5v5h-5zM341 1531h5v5h-5zM201 1536h4v4h-4zM215 1536h4v4h-4zM257 1536h9v4h-9zM318 1536h5v4h-5zM318 1540h9v5h-9zM238 1545h5v4h-5zM313 1545h5v4h-5zM243 1549h5v4h-5zM309 1549h4v4h-4zM318 1549h9v4h-9zM234 1553h14v5h-14zM285 1553h5v5h-5zM309 1553h14v5h-14zM187 1558h4v4h-4zM196 1558h5v4h-5zM205 1558h5v4h-5zM219 1558h5v4h-5zM196 1562h5v5h-5zM276 1562h4v5h-4zM191 1567h5v4h-5zM201 1567h4v4h-4zM224 1567h5v4h-5zM285 1567h5v4h-5zM295 1567h4v4h-4zM177 1571h5v4h-5zM196 1571h5v4h-5zM229 1571h5v4h-5zM243 1571h5v4h-5zM168 1575h5v5h-5zM182 1575h5v5h-5zM215 1575h4v5h-4zM280 1575h5v5h-5zM290 1575h5v5h-5zM266 1580h5v4h-5zM196 1584h5v5h-5zM219 1584h5v5h-5zM252 1584h5v5h-5zM271 1584h9v5h-9zM182 1589h5v4h-5zM210 1589h5v4h-5zM262 1589h4v4h-4zM313 1589h10v4h-10zM182 1593h5v4h-5zM191 1593h5v4h-5zM210 1593h5v4h-5zM257 1593h5v4h-5zM182 1597h5v5h-5zM191 1597h10v5h-10zM205 1597h5v5h-5zM182 1602h5v4h-5zM309 1602h4v4h-4zM187 1606h4v5h-4zM224 1606h5v5h-5zM234 1606h9v5h-9zM313 1606h5v5h-5zM177 1611h5v4h-5zM205 1611h10v4h-10zM224 1611h5v4h-5zM248 1611h4v4h-4zM163 1615h5v4h-5zM201 1615h9v4h-9zM219 1615h5v4h-5zM234 1615h4v4h-4zM248 1615h4v4h-4zM163 1619h5v5h-5zM210 1619h5v5h-5zM243 1619h5v5h-5zM154 1624h4v4h-4zM182 1624h5v4h-5zM140 1628h4v5h-4zM158 1628h5v5h-5zM215 1628h4v5h-4zM154 1633h4v4h-4zM140 1637h4v4h-4zM210 1637h5v4h-5zM163 1641h5v5h-5zM248 1641h4v5h-4zM215 1646h4v4h-4zM243 1646h5v4h-5zM173 1650h4v5h-4zM201 1650h4v5h-4zM219 1650h5v5h-5zM234 1650h4v5h-4zM173 1655h4v4h-4zM205 1655h5v4h-5zM234 1655h9v4h-9zM205 1659h14v4h-14zM173 1663h4v5h-4zM210 1663h5v5h-5zM154 1668h9v4h-9zM191 1668h5v4h-5zM210 1668h5v4h-5zM149 1672h5v5h-5zM168 1672h5v5h-5zM173 1677h9v4h-9zM187 1681h4v4h-4zM135 1690h5v4h-5zM135 1699h5v4h-5zM144 1716h5v5h-5zM135 1743h5v4h-5zM182 1760h5v5h-5z"/><path fill="#00c35b" d="M501 1166h5v5h-5zM651 1166h5v5h-5zM327 1171h5v4h-5zM393 1171h5v4h-5zM506 1171h4v4h-4zM600 1171h9v4h-9zM651 1171h5v4h-5zM318 1175h5v4h-5zM478 1175h4v4h-4zM506 1175h4v4h-4zM515 1175h5v4h-5zM651 1175h5v4h-5zM708 1175h4v4h-4zM309 1179h4v5h-4zM384 1179h4v5h-4zM646 1179h5v5h-5zM708 1179h4v5h-4zM487 1184h5v4h-5zM510 1184h5v4h-5zM534 1184h5v4h-5zM590 1184h14v4h-14zM609 1184h9v4h-9zM313 1188h5v5h-5zM384 1188h4v5h-4zM520 1188h4v5h-4zM539 1188h4v5h-4zM318 1193h5v4h-5zM412 1193h5v4h-5zM515 1193h5v4h-5zM492 1197h4v4h-4zM323 1201h4v5h-4zM388 1201h5v5h-5zM412 1201h5v5h-5zM478 1201h9v5h-9zM651 1201h5v5h-5zM327 1206h5v4h-5zM346 1206h5v4h-5zM384 1206h4v4h-4zM398 1206h4v4h-4zM454 1206h5v4h-5zM473 1206h5v4h-5zM543 1206h5v4h-5zM750 1206h4v4h-4zM318 1210h5v5h-5zM398 1210h4v5h-4zM482 1215h5v4h-5zM722 1215h4v4h-4zM759 1215h5v4h-5zM351 1219h5v4h-5zM726 1219h5v4h-5zM769 1223h4v5h-4zM468 1228h5v4h-5zM693 1228h10v4h-10zM759 1228h5v4h-5zM783 1228h4v4h-4zM337 1232h4v5h-4zM449 1232h5v5h-5zM726 1232h5v5h-5zM431 1237h4v4h-4zM374 1241h5v4h-5zM703 1241h5v4h-5zM740 1241h5v4h-5zM764 1241h5v4h-5zM130 1245h5v5h-5zM393 1245h5v5h-5zM407 1245h5v5h-5zM440 1245h5v5h-5zM163 1250h5v4h-5zM173 1250h4v4h-4zM290 1250h5v4h-5zM351 1250h5v4h-5zM487 1250h5v4h-5zM806 1250h5v4h-5zM149 1254h9v5h-9zM182 1254h9v5h-9zM407 1254h5v5h-5zM304 1259h9v4h-9zM388 1259h5v4h-5zM435 1259h5v4h-5zM562 1259h5v4h-5zM712 1259h5v4h-5zM736 1259h4v4h-4zM421 1263h5v4h-5zM553 1263h9v4h-9zM571 1263h10v4h-10zM740 1263h5v4h-5zM149 1267h5v5h-5zM196 1267h9v5h-9zM210 1267h5v5h-5zM299 1267h5v5h-5zM332 1267h5v5h-5zM421 1267h5v5h-5zM431 1267h4v5h-4zM557 1267h5v5h-5zM567 1267h4v5h-4zM144 1272h10v4h-10zM196 1272h5v4h-5zM332 1272h5v4h-5zM365 1272h5v4h-5zM402 1272h5v4h-5zM440 1272h5v4h-5zM463 1272h5v4h-5zM557 1272h10v4h-10zM708 1272h4v4h-4zM182 1276h5v5h-5zM304 1276h5v5h-5zM398 1276h4v5h-4zM445 1276h4v5h-4zM571 1276h5v5h-5zM722 1276h9v5h-9zM285 1281h5v4h-5zM299 1281h5v4h-5zM346 1281h5v4h-5zM431 1281h4v4h-4zM726 1281h5v4h-5zM173 1285h4v4h-4zM182 1285h9v4h-9zM201 1285h4v4h-4zM346 1285h10v4h-10zM365 1285h5v4h-5zM393 1285h5v4h-5zM421 1285h5v4h-5zM482 1285h5v4h-5zM731 1285h5v4h-5zM801 1285h5v4h-5zM191 1289h5v5h-5zM210 1289h9v5h-9zM304 1289h5v5h-5zM370 1289h9v5h-9zM412 1289h5v5h-5zM421 1289h5v5h-5zM454 1289h5v5h-5zM468 1289h5v5h-5zM482 1289h5v5h-5zM496 1289h5v5h-5zM801 1289h5v5h-5zM388 1294h5v4h-5zM412 1294h9v4h-9zM689 1294h4v4h-4zM205 1298h5v5h-5zM684 1298h9v5h-9zM783 1298h4v5h-4zM201 1303h4v4h-4zM487 1303h5v4h-5zM201 1307h4v4h-4zM435 1307h5v4h-5zM473 1307h5v4h-5zM482 1307h5v4h-5zM529 1307h5v4h-5zM543 1307h5v4h-5zM731 1307h5v4h-5zM801 1307h10v4h-10zM830 1307h9v4h-9zM440 1311h5v5h-5zM689 1311h4v5h-4zM740 1311h5v5h-5zM830 1311h4v5h-4zM341 1316h5v4h-5zM468 1316h5v4h-5zM482 1316h5v4h-5zM492 1316h4v4h-4zM726 1316h5v4h-5zM834 1316h5v4h-5zM346 1320h5v5h-5zM487 1320h5v5h-5zM689 1320h4v5h-4zM825 1320h5v5h-5zM144 1325h5v4h-5zM252 1325h5v4h-5zM351 1325h5v4h-5zM435 1325h5v4h-5zM478 1325h4v4h-4zM797 1325h4v4h-4zM215 1329h4v4h-4zM252 1329h10v4h-10zM478 1329h4v4h-4zM534 1329h9v4h-9zM656 1329h5v4h-5zM689 1329h4v4h-4zM708 1329h4v4h-4zM797 1329h4v4h-4zM811 1329h4v4h-4zM130 1333h10v5h-10zM431 1333h4v5h-4zM440 1333h5v5h-5zM473 1333h5v5h-5zM482 1333h5v5h-5zM656 1333h5v5h-5zM689 1333h9v5h-9zM130 1338h5v4h-5zM318 1338h5v4h-5zM440 1338h5v4h-5zM449 1338h5v4h-5zM482 1338h5v4h-5zM534 1338h5v4h-5zM656 1338h5v4h-5zM693 1338h5v4h-5zM806 1338h5v4h-5zM163 1342h5v5h-5zM759 1342h5v5h-5zM168 1347h5v4h-5zM750 1347h4v4h-4zM759 1351h5v4h-5zM168 1355h5v5h-5zM266 1355h5v5h-5zM402 1355h5v5h-5zM787 1355h5v5h-5zM402 1360h10v4h-10zM754 1360h5v4h-5zM266 1364h5v5h-5zM412 1364h5v5h-5zM754 1364h10v5h-10zM769 1364h4v5h-4zM135 1369h5v4h-5zM290 1369h5v4h-5zM412 1369h5v4h-5zM740 1369h10v4h-10zM754 1369h5v4h-5zM130 1373h5v4h-5zM158 1373h5v4h-5zM679 1373h5v4h-5zM736 1373h9v4h-9zM144 1382h10v4h-10zM144 1386h5v5h-5zM219 1391h10v4h-10zM234 1391h4v4h-4zM158 1395h5v4h-5zM187 1395h4v4h-4zM201 1395h4v4h-4zM351 1395h5v4h-5zM229 1399h9v5h-9zM351 1399h5v5h-5zM182 1404h5v4h-5zM205 1404h5v4h-5zM252 1404h5v4h-5zM309 1404h4v4h-4zM346 1404h5v4h-5zM360 1404h5v4h-5zM158 1408h5v5h-5zM210 1408h5v5h-5zM304 1408h9v5h-9zM351 1408h5v5h-5zM201 1413h4v4h-4zM276 1413h4v4h-4zM318 1413h5v4h-5zM224 1417h5v4h-5zM332 1417h5v4h-5zM351 1417h14v4h-14zM196 1421h5v5h-5zM280 1421h5v5h-5zM318 1421h5v5h-5zM341 1421h5v5h-5zM356 1421h4v5h-4zM163 1426h5v4h-5zM243 1426h5v4h-5zM318 1426h9v4h-9zM341 1426h5v4h-5zM238 1430h5v5h-5zM323 1430h4v5h-4zM341 1430h5v5h-5zM182 1435h9v4h-9zM196 1435h5v4h-5zM210 1435h5v4h-5zM229 1435h5v4h-5zM295 1435h4v4h-4zM191 1439h10v4h-10zM290 1439h5v4h-5zM337 1439h4v4h-4zM280 1443h5v5h-5zM304 1443h9v5h-9zM318 1443h5v5h-5zM332 1443h5v5h-5zM346 1443h5v5h-5zM173 1448h4v4h-4zM215 1448h4v4h-4zM234 1448h4v4h-4zM238 1452h5v5h-5zM266 1452h5v5h-5zM295 1457h4v4h-4zM313 1465h5v5h-5zM229 1479h5v4h-5zM280 1479h5v4h-5zM280 1501h5v4h-5zM323 1501h9v4h-9zM252 1505h5v4h-5zM262 1505h4v4h-4zM313 1505h5v4h-5zM341 1505h5v4h-5zM229 1509h5v5h-5zM248 1509h4v5h-4zM341 1509h5v5h-5zM215 1514h4v4h-4zM309 1514h4v4h-4zM323 1514h4v4h-4zM187 1518h4v5h-4zM327 1518h5v5h-5zM266 1523h5v4h-5zM346 1523h5v4h-5zM262 1527h9v4h-9zM196 1531h5v5h-5zM215 1531h14v5h-14zM243 1531h5v5h-5zM257 1531h5v5h-5zM271 1531h5v5h-5zM337 1531h4v5h-4zM196 1536h5v4h-5zM205 1536h5v4h-5zM323 1536h4v4h-4zM210 1540h5v5h-5zM262 1540h4v5h-4zM201 1545h4v4h-4zM210 1545h5v4h-5zM341 1545h5v4h-5zM238 1549h5v4h-5zM177 1558h5v4h-5zM229 1558h5v4h-5zM285 1558h5v4h-5zM215 1562h4v5h-4zM173 1567h4v4h-4zM187 1567h4v4h-4zM215 1567h4v4h-4zM280 1567h5v4h-5zM276 1571h4v4h-4zM285 1571h5v4h-5zM196 1575h5v5h-5zM238 1575h10v5h-10zM271 1575h5v5h-5zM238 1580h5v4h-5zM248 1580h4v4h-4zM285 1580h10v4h-10zM182 1584h5v5h-5zM257 1584h5v5h-5zM201 1589h9v4h-9zM215 1589h4v4h-4zM252 1589h10v4h-10zM163 1593h10v4h-10zM205 1593h5v4h-5zM252 1593h5v4h-5zM309 1593h4v4h-4zM323 1593h4v4h-4zM163 1597h5v5h-5zM187 1597h4v5h-4zM252 1597h10v5h-10zM323 1597h4v5h-4zM187 1602h4v4h-4zM215 1606h4v5h-4zM252 1606h5v5h-5zM234 1611h4v4h-4zM252 1611h5v4h-5zM238 1615h5v4h-5zM201 1619h4v5h-4zM224 1619h5v5h-5zM144 1624h5v4h-5zM158 1624h5v4h-5zM205 1624h10v4h-10zM243 1624h5v4h-5zM154 1628h4v5h-4zM163 1628h5v5h-5zM219 1628h5v5h-5zM238 1628h5v5h-5zM210 1633h5v4h-5zM234 1633h9v4h-9zM158 1641h5v5h-5zM210 1641h5v5h-5zM234 1641h4v5h-4zM168 1646h5v4h-5zM210 1646h5v4h-5zM210 1650h5v5h-5zM224 1650h5v5h-5zM210 1655h5v4h-5zM219 1655h5v4h-5zM168 1659h5v4h-5zM163 1663h10v5h-10zM224 1663h5v5h-5zM149 1668h5v4h-5zM168 1668h14v4h-14zM182 1677h5v4h-5zM135 1694h5v5h-5zM135 1703h5v4h-5zM130 1716h5v5h-5z"/><path fill="#32c864" d="M402 1166h5v5h-5zM449 1166h5v5h-5zM374 1171h5v4h-5zM412 1171h5v4h-5zM426 1171h5v4h-5zM482 1171h5v4h-5zM313 1175h5v4h-5zM332 1175h5v4h-5zM360 1175h5v4h-5zM646 1175h5v4h-5zM426 1179h5v5h-5zM492 1179h4v5h-4zM501 1179h5v5h-5zM510 1179h5v5h-5zM520 1179h4v5h-4zM529 1179h10v5h-10zM309 1184h4v4h-4zM374 1184h5v4h-5zM473 1184h5v4h-5zM309 1188h4v5h-4zM407 1188h10v5h-10zM515 1188h5v5h-5zM130 1193h10v4h-10zM295 1193h9v4h-9zM337 1193h4v4h-4zM407 1193h5v4h-5zM431 1193h4v4h-4zM585 1193h5v4h-5zM407 1197h10v4h-10zM398 1201h4v5h-4zM473 1201h5v5h-5zM693 1201h5v5h-5zM487 1206h5v4h-5zM651 1206h5v4h-5zM745 1206h5v4h-5zM426 1210h5v5h-5zM468 1210h5v5h-5zM482 1210h5v5h-5zM651 1210h5v5h-5zM398 1215h4v4h-4zM449 1215h5v4h-5zM290 1219h5v4h-5zM323 1219h4v4h-4zM463 1219h5v4h-5zM684 1219h5v4h-5zM717 1219h9v4h-9zM341 1223h10v5h-10zM459 1223h4v5h-4zM468 1223h5v5h-5zM370 1228h4v4h-4zM679 1228h5v4h-5zM736 1228h4v4h-4zM764 1228h5v4h-5zM407 1232h5v5h-5zM698 1232h5v5h-5zM698 1237h5v4h-5zM708 1237h4v4h-4zM740 1237h5v4h-5zM379 1241h5v4h-5zM435 1241h5v4h-5zM717 1241h5v4h-5zM759 1241h5v4h-5zM140 1245h14v5h-14zM285 1245h5v5h-5zM341 1245h5v5h-5zM135 1250h5v4h-5zM154 1250h9v4h-9zM168 1250h5v4h-5zM187 1250h4v4h-4zM379 1250h9v4h-9zM393 1250h5v4h-5zM407 1250h5v4h-5zM703 1250h5v4h-5zM717 1250h5v4h-5zM140 1254h4v5h-4zM158 1254h5v5h-5zM262 1254h4v5h-4zM290 1254h5v5h-5zM318 1254h5v5h-5zM435 1254h5v5h-5zM717 1254h5v5h-5zM191 1259h5v4h-5zM205 1259h10v4h-10zM313 1259h5v4h-5zM421 1259h5v4h-5zM708 1259h4v4h-4zM158 1263h5v4h-5zM187 1263h4v4h-4zM196 1263h5v4h-5zM144 1267h5v5h-5zM182 1267h5v5h-5zM327 1267h5v5h-5zM346 1267h5v5h-5zM173 1272h4v4h-4zM210 1272h5v4h-5zM285 1272h5v4h-5zM351 1272h5v4h-5zM571 1272h5v4h-5zM712 1272h5v4h-5zM168 1276h5v5h-5zM205 1276h5v5h-5zM346 1276h10v5h-10zM393 1276h5v5h-5zM407 1276h5v5h-5zM440 1276h5v5h-5zM201 1281h9v4h-9zM388 1281h5v4h-5zM398 1281h9v4h-9zM435 1281h10v4h-10zM454 1281h9v4h-9zM731 1281h5v4h-5zM388 1285h5v4h-5zM440 1285h5v4h-5zM740 1285h5v4h-5zM365 1289h5v5h-5zM379 1289h5v5h-5zM388 1289h5v5h-5zM407 1289h5v5h-5zM449 1289h5v5h-5zM459 1289h4v5h-4zM501 1289h5v5h-5zM553 1289h4v5h-4zM740 1289h5v5h-5zM215 1294h4v4h-4zM360 1294h5v4h-5zM384 1294h4v4h-4zM421 1294h5v4h-5zM431 1294h4v4h-4zM496 1294h5v4h-5zM529 1294h5v4h-5zM745 1294h5v4h-5zM210 1298h5v5h-5zM365 1298h5v5h-5zM501 1298h5v5h-5zM529 1298h5v5h-5zM740 1298h10v5h-10zM205 1303h5v4h-5zM337 1303h4v4h-4zM351 1303h9v4h-9zM492 1303h4v4h-4zM684 1303h5v4h-5zM815 1303h10v4h-10zM487 1307h5v4h-5zM689 1307h4v4h-4zM825 1307h5v4h-5zM435 1311h5v5h-5zM492 1311h4v5h-4zM539 1311h9v5h-9zM825 1311h5v5h-5zM684 1316h9v4h-9zM712 1316h5v4h-5zM468 1320h5v5h-5zM492 1320h4v5h-4zM548 1320h5v5h-5zM219 1325h5v4h-5zM346 1325h5v4h-5zM440 1325h5v4h-5zM468 1325h10v4h-10zM496 1325h5v4h-5zM539 1325h9v4h-9zM698 1325h5v4h-5zM708 1325h4v4h-4zM468 1329h10v4h-10zM482 1329h5v4h-5zM684 1329h5v4h-5zM717 1329h5v4h-5zM801 1329h5v4h-5zM266 1333h5v5h-5zM327 1333h5v5h-5zM684 1333h5v5h-5zM820 1333h5v5h-5zM830 1333h4v5h-4zM144 1338h10v4h-10zM224 1338h5v4h-5zM243 1338h5v4h-5zM820 1338h5v4h-5zM144 1342h5v5h-5zM154 1342h4v5h-4zM234 1342h4v5h-4zM309 1351h4v4h-4zM754 1355h5v5h-5zM163 1360h5v4h-5zM412 1360h5v4h-5zM135 1364h5v5h-5zM163 1364h5v5h-5zM271 1364h5v5h-5zM764 1364h5v5h-5zM130 1369h5v4h-5zM285 1369h5v4h-5zM144 1373h5v4h-5zM285 1373h5v4h-5zM144 1377h5v5h-5zM726 1382h5v4h-5zM140 1386h4v5h-4zM130 1391h5v4h-5zM154 1391h4v4h-4zM140 1395h4v4h-4zM210 1395h9v4h-9zM205 1399h10v5h-10zM356 1399h9v5h-9zM224 1404h5v4h-5zM304 1404h5v4h-5zM351 1404h5v4h-5zM196 1408h9v5h-9zM224 1408h5v5h-5zM234 1408h4v5h-4zM168 1413h9v4h-9zM205 1413h5v4h-5zM290 1413h19v4h-19zM323 1413h4v4h-4zM346 1413h5v4h-5zM356 1413h4v4h-4zM163 1417h5v4h-5zM285 1417h5v4h-5zM313 1421h5v5h-5zM323 1421h4v5h-4zM346 1421h10v5h-10zM140 1426h4v4h-4zM201 1430h4v5h-4zM243 1430h9v5h-9zM346 1430h5v5h-5zM219 1435h5v4h-5zM243 1435h5v4h-5zM280 1435h5v4h-5zM234 1439h4v4h-4zM248 1439h4v4h-4zM285 1439h5v4h-5zM290 1443h5v5h-5zM327 1443h5v5h-5zM177 1448h10v4h-10zM248 1448h4v4h-4zM280 1448h5v4h-5zM318 1448h5v4h-5zM285 1452h5v5h-5zM299 1452h5v5h-5zM280 1461h5v4h-5zM299 1461h5v4h-5zM234 1474h4v5h-4zM276 1474h4v5h-4zM252 1496h5v5h-5zM327 1496h5v5h-5zM346 1496h5v5h-5zM252 1501h5v4h-5zM332 1501h19v4h-19zM271 1505h9v4h-9zM327 1505h5v4h-5zM262 1509h4v5h-4zM276 1509h4v5h-4zM346 1509h5v5h-5zM173 1514h4v4h-4zM266 1514h5v4h-5zM313 1514h10v4h-10zM266 1518h5v5h-5zM299 1518h5v5h-5zM337 1518h4v5h-4zM262 1523h4v4h-4zM323 1523h4v4h-4zM332 1523h9v4h-9zM187 1527h4v4h-4zM201 1527h4v4h-4zM318 1527h5v4h-5zM327 1527h5v4h-5zM191 1531h5v5h-5zM309 1531h4v5h-4zM327 1531h5v5h-5zM337 1536h4v4h-4zM196 1540h5v5h-5zM341 1540h5v5h-5zM309 1545h4v4h-4zM337 1545h4v4h-4zM210 1549h5v4h-5zM304 1549h5v4h-5zM201 1553h9v5h-9zM304 1553h5v5h-5zM201 1558h4v4h-4zM210 1558h5v4h-5zM224 1558h5v4h-5zM243 1558h5v4h-5zM173 1562h9v5h-9zM210 1562h5v5h-5zM234 1562h4v5h-4zM234 1567h4v4h-4zM201 1571h4v4h-4zM215 1571h4v4h-4zM238 1571h5v4h-5zM280 1571h5v4h-5zM173 1575h9v5h-9zM201 1575h4v5h-4zM248 1575h4v5h-4zM257 1575h5v5h-5zM285 1575h5v5h-5zM168 1580h5v4h-5zM243 1580h5v4h-5zM262 1580h4v4h-4zM187 1584h4v5h-4zM266 1584h5v5h-5zM168 1589h5v4h-5zM187 1589h9v4h-9zM158 1593h5v4h-5zM187 1593h4v4h-4zM313 1597h10v5h-10zM313 1602h5v4h-5zM163 1611h5v4h-5zM219 1611h5v4h-5zM238 1611h5v4h-5zM234 1619h4v5h-4zM210 1628h5v5h-5zM130 1633h5v4h-5zM205 1633h5v4h-5zM215 1633h4v4h-4zM224 1633h10v4h-10zM158 1637h5v4h-5zM238 1637h5v4h-5zM154 1641h4v5h-4zM201 1641h4v5h-4zM201 1646h4v4h-4zM229 1646h5v4h-5zM168 1650h5v5h-5zM215 1650h4v5h-4zM215 1655h4v4h-4zM149 1663h5v5h-5zM158 1663h5v5h-5zM187 1677h4v4h-4zM130 1703h5v4h-5zM140 1707h4v5h-4z"/><path fill="#4acd6b" d="M318 1166h5v5h-5zM417 1166h4v5h-4zM529 1166h5v5h-5zM318 1171h5v4h-5zM421 1171h5v4h-5zM431 1171h4v4h-4zM501 1171h5v4h-5zM529 1171h5v4h-5zM327 1175h5v4h-5zM398 1175h4v4h-4zM445 1175h4v4h-4zM473 1175h5v4h-5zM496 1175h5v4h-5zM337 1179h4v5h-4zM351 1184h5v4h-5zM407 1184h10v4h-10zM421 1184h5v4h-5zM515 1184h9v4h-9zM191 1188h5v5h-5zM379 1188h5v5h-5zM421 1188h5v5h-5zM463 1188h5v5h-5zM487 1188h5v5h-5zM144 1193h5v4h-5zM313 1193h5v4h-5zM379 1193h5v4h-5zM393 1193h14v4h-14zM463 1193h5v4h-5zM144 1197h5v4h-5zM393 1197h9v4h-9zM417 1197h14v4h-14zM487 1197h5v4h-5zM313 1201h5v5h-5zM341 1201h5v5h-5zM393 1201h5v5h-5zM393 1206h5v4h-5zM421 1206h5v4h-5zM135 1210h5v5h-5zM149 1210h5v5h-5zM313 1210h5v5h-5zM323 1210h4v5h-4zM388 1210h5v5h-5zM431 1210h4v5h-4zM754 1210h5v5h-5zM135 1215h5v4h-5zM454 1215h5v4h-5zM468 1215h5v4h-5zM731 1215h5v4h-5zM459 1219h4v4h-4zM478 1219h4v4h-4zM332 1223h5v5h-5zM365 1223h5v5h-5zM731 1223h5v5h-5zM341 1228h10v4h-10zM374 1228h5v4h-5zM717 1228h5v4h-5zM731 1228h5v4h-5zM693 1232h5v5h-5zM754 1232h5v5h-5zM426 1237h5v4h-5zM750 1237h9v4h-9zM135 1241h5v4h-5zM323 1241h4v4h-4zM351 1241h5v4h-5zM412 1241h5v4h-5zM154 1245h4v5h-4zM168 1245h5v5h-5zM182 1245h5v5h-5zM205 1245h5v5h-5zM215 1245h4v5h-4zM435 1245h5v5h-5zM717 1245h5v5h-5zM309 1250h9v4h-9zM323 1250h4v4h-4zM356 1250h4v4h-4zM374 1250h5v4h-5zM435 1250h5v4h-5zM201 1254h4v5h-4zM295 1254h4v5h-4zM379 1254h9v5h-9zM412 1254h5v5h-5zM722 1254h4v5h-4zM215 1259h4v4h-4zM168 1263h5v4h-5zM219 1263h5v4h-5zM290 1263h9v4h-9zM346 1263h5v4h-5zM393 1263h5v4h-5zM407 1263h5v4h-5zM426 1263h5v4h-5zM173 1267h4v5h-4zM341 1267h5v5h-5zM351 1267h5v5h-5zM177 1272h5v4h-5zM234 1272h9v4h-9zM299 1272h10v4h-10zM346 1272h5v4h-5zM407 1272h5v4h-5zM417 1272h4v4h-4zM229 1276h5v5h-5zM285 1276h5v5h-5zM299 1276h5v5h-5zM327 1276h5v5h-5zM341 1276h5v5h-5zM426 1276h5v5h-5zM567 1276h4v5h-4zM290 1281h5v4h-5zM360 1281h5v4h-5zM393 1281h5v4h-5zM417 1281h4v4h-4zM445 1281h4v4h-4zM722 1281h4v4h-4zM736 1281h4v4h-4zM215 1285h4v4h-4zM379 1285h5v4h-5zM426 1285h9v4h-9zM459 1285h4v4h-4zM726 1285h5v4h-5zM736 1285h4v4h-4zM205 1289h5v5h-5zM384 1289h4v5h-4zM426 1289h5v5h-5zM445 1289h4v5h-4zM463 1289h5v5h-5zM726 1289h14v5h-14zM426 1294h5v4h-5zM435 1294h5v4h-5zM463 1294h10v4h-10zM501 1294h5v4h-5zM740 1294h5v4h-5zM341 1298h5v5h-5zM815 1298h5v5h-5zM529 1303h10v4h-10zM689 1303h4v4h-4zM205 1307h5v4h-5zM478 1307h4v4h-4zM492 1307h4v4h-4zM205 1311h5v5h-5zM341 1311h5v5h-5zM473 1311h5v5h-5zM482 1311h5v5h-5zM726 1311h5v5h-5zM205 1316h5v4h-5zM445 1316h4v4h-4zM539 1316h9v4h-9zM820 1316h5v4h-5zM445 1320h4v5h-4zM473 1320h5v5h-5zM684 1320h5v5h-5zM693 1320h5v5h-5zM717 1320h5v5h-5zM830 1320h4v5h-4zM224 1325h5v4h-5zM257 1325h5v4h-5zM487 1325h5v4h-5zM684 1325h5v4h-5zM801 1325h10v4h-10zM248 1329h4v4h-4zM492 1329h4v4h-4zM712 1329h5v4h-5zM806 1329h5v4h-5zM248 1333h9v5h-9zM435 1333h5v5h-5zM534 1333h5v5h-5zM712 1333h5v5h-5zM323 1338h4v4h-4zM130 1342h5v5h-5zM238 1342h5v5h-5zM820 1342h5v5h-5zM140 1347h9v4h-9zM271 1347h5v4h-5zM135 1351h5v4h-5zM168 1351h5v4h-5zM271 1351h5v4h-5zM140 1355h4v5h-4zM759 1355h10v5h-10zM130 1360h10v4h-10zM266 1360h5v4h-5zM299 1360h5v4h-5zM130 1364h5v5h-5zM276 1364h4v5h-4zM295 1364h4v5h-4zM140 1391h9v4h-9zM360 1391h5v4h-5zM219 1395h5v4h-5zM356 1395h4v4h-4zM224 1399h5v5h-5zM215 1404h9v4h-9zM229 1404h5v4h-5zM154 1408h4v5h-4zM229 1408h5v5h-5zM327 1408h5v5h-5zM341 1408h10v5h-10zM356 1408h4v5h-4zM187 1413h4v4h-4zM187 1417h4v4h-4zM290 1417h14v4h-14zM309 1417h4v4h-4zM318 1417h9v4h-9zM337 1417h4v4h-4zM290 1421h5v5h-5zM309 1421h4v5h-4zM299 1426h5v4h-5zM346 1426h5v4h-5zM210 1430h5v5h-5zM299 1430h5v5h-5zM351 1430h5v5h-5zM201 1435h9v4h-9zM238 1435h5v4h-5zM285 1435h5v4h-5zM313 1435h10v4h-10zM187 1439h4v4h-4zM243 1439h5v4h-5zM309 1439h4v4h-4zM327 1439h10v4h-10zM177 1443h5v5h-5zM187 1443h4v5h-4zM196 1443h9v5h-9zM219 1443h5v5h-5zM266 1443h14v5h-14zM323 1443h4v5h-4zM341 1443h5v5h-5zM168 1448h5v4h-5zM187 1448h4v4h-4zM285 1448h5v4h-5zM163 1452h5v5h-5zM229 1452h5v5h-5zM243 1452h5v5h-5zM280 1452h5v5h-5zM149 1457h5v4h-5zM210 1457h9v4h-9zM280 1457h5v4h-5zM313 1461h5v4h-5zM234 1479h4v4h-4zM243 1479h5v4h-5zM257 1505h5v4h-5zM280 1505h5v4h-5zM210 1514h5v4h-5zM224 1514h5v4h-5zM262 1514h4v4h-4zM327 1514h5v4h-5zM341 1514h5v4h-5zM224 1518h5v5h-5zM262 1518h4v5h-4zM332 1518h5v5h-5zM187 1523h4v4h-4zM252 1523h5v4h-5zM215 1527h4v4h-4zM252 1527h10v4h-10zM290 1527h5v4h-5zM313 1527h5v4h-5zM323 1527h4v4h-4zM337 1527h4v4h-4zM187 1531h4v5h-4zM276 1531h9v5h-9zM323 1531h4v5h-4zM238 1536h5v4h-5zM266 1536h5v4h-5zM313 1536h5v4h-5zM327 1536h5v4h-5zM215 1540h4v5h-4zM243 1540h9v5h-9zM327 1540h5v5h-5zM337 1540h4v5h-4zM215 1545h4v4h-4zM196 1549h5v4h-5zM215 1549h4v4h-4zM187 1553h4v5h-4zM210 1553h5v5h-5zM229 1553h5v5h-5zM290 1553h14v5h-14zM191 1558h5v4h-5zM280 1558h5v4h-5zM130 1567h5v4h-5zM130 1571h5v4h-5zM205 1571h5v4h-5zM252 1580h5v4h-5zM163 1584h10v5h-10zM205 1584h10v5h-10zM313 1593h10v4h-10zM309 1597h4v5h-4zM219 1606h5v5h-5zM215 1615h4v4h-4zM154 1619h4v5h-4zM219 1624h5v4h-5zM229 1624h5v4h-5zM130 1628h5v5h-5zM149 1628h5v5h-5zM224 1628h5v5h-5zM149 1633h5v4h-5zM215 1637h4v4h-4zM229 1637h9v4h-9zM219 1641h5v5h-5zM224 1646h5v4h-5zM163 1650h5v5h-5zM163 1659h5v4h-5zM144 1663h5v5h-5zM215 1663h4v5h-4z"/><path fill="#63d273" d="M327 1166h5v5h-5zM374 1166h5v5h-5zM421 1166h5v5h-5zM454 1166h5v5h-5zM295 1171h4v4h-4zM370 1171h4v4h-4zM379 1171h5v4h-5zM407 1171h5v4h-5zM449 1171h10v4h-10zM478 1171h4v4h-4zM492 1171h4v4h-4zM290 1175h5v4h-5zM449 1175h5v4h-5zM501 1175h5v4h-5zM295 1179h4v5h-4zM388 1179h5v5h-5zM412 1179h5v5h-5zM487 1179h5v5h-5zM515 1179h5v5h-5zM313 1184h5v4h-5zM341 1184h5v4h-5zM370 1184h4v4h-4zM398 1184h9v4h-9zM459 1184h9v4h-9zM323 1188h4v5h-4zM365 1188h5v5h-5zM388 1188h5v5h-5zM417 1188h4v5h-4zM459 1188h4v5h-4zM459 1193h4v4h-4zM487 1193h5v4h-5zM285 1197h5v4h-5zM313 1197h5v4h-5zM323 1197h4v4h-4zM463 1197h5v4h-5zM473 1197h14v4h-14zM327 1201h5v5h-5zM426 1201h5v5h-5zM454 1201h5v5h-5zM130 1206h10v4h-10zM468 1206h5v4h-5zM384 1210h4v5h-4zM393 1210h5v5h-5zM435 1210h5v5h-5zM454 1210h9v5h-9zM736 1210h4v5h-4zM313 1215h5v4h-5zM393 1215h5v4h-5zM445 1215h4v4h-4zM135 1219h5v4h-5zM318 1219h5v4h-5zM341 1219h5v4h-5zM356 1219h4v4h-4zM374 1219h5v4h-5zM393 1219h9v4h-9zM468 1219h10v4h-10zM304 1223h5v5h-5zM351 1223h5v5h-5zM370 1223h4v5h-4zM248 1228h4v4h-4zM285 1228h5v4h-5zM332 1228h5v4h-5zM388 1228h5v4h-5zM398 1228h4v4h-4zM754 1228h5v4h-5zM280 1232h5v5h-5zM341 1237h10v4h-10zM717 1237h9v4h-9zM140 1241h4v4h-4zM337 1241h4v4h-4zM402 1241h5v4h-5zM177 1245h5v5h-5zM187 1245h4v5h-4zM271 1245h5v5h-5zM327 1245h5v5h-5zM402 1245h5v5h-5zM431 1245h4v5h-4zM698 1245h5v5h-5zM191 1250h5v4h-5zM201 1250h14v4h-14zM360 1250h5v4h-5zM431 1250h4v4h-4zM712 1250h5v4h-5zM304 1254h5v5h-5zM402 1254h5v5h-5zM173 1259h4v4h-4zM201 1259h4v4h-4zM219 1259h5v4h-5zM243 1259h5v4h-5zM257 1259h5v4h-5zM290 1259h5v4h-5zM407 1259h5v4h-5zM210 1263h5v4h-5zM327 1263h5v4h-5zM365 1263h5v4h-5zM431 1263h4v4h-4zM177 1267h5v5h-5zM215 1267h4v5h-4zM341 1272h5v4h-5zM356 1272h9v4h-9zM398 1272h4v4h-4zM421 1272h5v4h-5zM567 1272h4v4h-4zM210 1276h5v5h-5zM238 1276h5v5h-5zM332 1276h5v5h-5zM356 1276h9v5h-9zM417 1276h9v5h-9zM210 1281h5v4h-5zM379 1281h5v4h-5zM421 1281h5v4h-5zM360 1285h5v4h-5zM445 1285h4v4h-4zM722 1285h4v4h-4zM219 1289h5v5h-5zM351 1289h9v5h-9zM712 1289h5v5h-5zM722 1289h4v5h-4zM304 1294h5v4h-5zM736 1294h4v4h-4zM351 1298h9v5h-9zM693 1298h5v5h-5zM210 1303h5v4h-5zM219 1303h5v4h-5zM445 1303h4v4h-4zM210 1307h5v4h-5zM360 1307h5v4h-5zM440 1307h9v4h-9zM539 1307h4v4h-4zM693 1307h5v4h-5zM360 1311h5v5h-5zM478 1311h4v5h-4zM487 1311h5v5h-5zM534 1311h5v5h-5zM703 1311h5v5h-5zM811 1311h4v5h-4zM820 1311h5v5h-5zM252 1316h5v4h-5zM478 1316h4v4h-4zM722 1316h4v4h-4zM815 1316h5v4h-5zM215 1320h4v5h-4zM539 1320h4v5h-4zM834 1320h5v5h-5zM337 1325h4v4h-4zM703 1325h5v4h-5zM262 1329h4v4h-4zM332 1329h5v4h-5zM708 1333h4v5h-4zM825 1333h5v5h-5zM271 1338h5v4h-5zM830 1338h4v4h-4zM149 1342h5v5h-5zM158 1342h5v5h-5zM271 1342h5v5h-5zM130 1347h5v4h-5zM163 1355h5v5h-5zM271 1355h5v5h-5zM764 1360h5v4h-5zM154 1364h9v5h-9zM290 1364h5v5h-5zM149 1377h9v5h-9zM144 1395h10v4h-10zM154 1399h4v5h-4zM215 1399h9v5h-9zM210 1404h5v4h-5zM234 1404h4v4h-4zM299 1404h5v4h-5zM356 1404h4v4h-4zM154 1413h4v4h-4zM177 1413h10v4h-10zM191 1413h5v4h-5zM154 1417h9v4h-9zM191 1417h10v4h-10zM304 1417h5v4h-5zM313 1417h5v4h-5zM327 1417h5v4h-5zM191 1421h5v5h-5zM295 1421h4v5h-4zM337 1421h4v5h-4zM280 1426h5v4h-5zM295 1426h4v4h-4zM313 1426h5v4h-5zM351 1426h5v4h-5zM196 1430h5v5h-5zM285 1430h5v5h-5zM295 1430h4v5h-4zM248 1435h4v4h-4zM304 1435h5v4h-5zM332 1435h5v4h-5zM351 1435h5v4h-5zM224 1439h5v4h-5zM304 1439h5v4h-5zM341 1439h5v4h-5zM351 1439h5v4h-5zM191 1443h5v5h-5zM234 1443h4v5h-4zM285 1443h5v5h-5zM191 1448h5v4h-5zM229 1448h5v4h-5zM252 1448h10v4h-10zM276 1448h4v4h-4zM309 1448h4v4h-4zM158 1452h5v5h-5zM201 1452h9v5h-9zM234 1452h4v5h-4zM318 1457h5v4h-5zM252 1474h5v5h-5zM248 1487h4v5h-4zM280 1492h5v4h-5zM257 1496h9v5h-9zM257 1501h5v4h-5zM332 1505h9v4h-9zM234 1509h4v5h-4zM327 1509h5v5h-5zM168 1514h5v4h-5zM234 1514h4v4h-4zM243 1514h5v4h-5zM332 1514h9v4h-9zM182 1518h5v5h-5zM191 1518h5v5h-5zM219 1518h5v5h-5zM248 1518h9v5h-9zM318 1518h5v5h-5zM257 1523h5v4h-5zM313 1523h10v4h-10zM219 1527h10v4h-10zM205 1531h10v5h-10zM238 1531h5v5h-5zM248 1531h9v5h-9zM313 1531h5v5h-5zM219 1536h5v4h-5zM285 1536h5v4h-5zM313 1540h5v5h-5zM248 1545h4v4h-4zM224 1549h5v4h-5zM257 1549h5v4h-5zM299 1549h5v4h-5zM215 1553h4v5h-4zM215 1558h4v4h-4zM243 1562h5v5h-5zM140 1567h4v4h-4zM243 1567h5v4h-5zM271 1567h5v4h-5zM140 1571h4v4h-4zM248 1571h4v4h-4zM271 1571h5v4h-5zM140 1575h4v5h-4zM205 1575h10v5h-10zM173 1580h9v4h-9zM173 1584h4v5h-4zM191 1584h5v5h-5zM154 1593h4v4h-4zM163 1602h5v4h-5zM154 1611h4v4h-4zM210 1615h5v4h-5zM158 1619h5v5h-5zM238 1619h5v5h-5zM140 1624h4v4h-4zM234 1624h9v4h-9zM234 1628h4v5h-4zM215 1641h4v5h-4zM224 1641h5v5h-5zM163 1646h5v4h-5zM168 1655h5v4h-5zM154 1659h4v4h-4zM130 1707h5v5h-5z"/><path fill="#72d67a" d="M295 1166h4v5h-4zM388 1166h10v5h-10zM440 1166h9v5h-9zM417 1171h4v4h-4zM487 1171h5v4h-5zM496 1171h5v4h-5zM285 1175h5v4h-5zM309 1175h4v4h-4zM374 1175h5v4h-5zM388 1175h10v4h-10zM431 1175h4v4h-4zM440 1175h5v4h-5zM487 1175h9v4h-9zM313 1179h5v5h-5zM327 1179h5v5h-5zM374 1179h5v5h-5zM130 1184h5v4h-5zM295 1184h4v4h-4zM356 1184h4v4h-4zM384 1184h4v4h-4zM417 1184h4v4h-4zM445 1184h4v4h-4zM318 1188h5v5h-5zM370 1188h4v5h-4zM290 1193h5v4h-5zM323 1193h4v4h-4zM417 1193h9v4h-9zM309 1197h4v4h-4zM135 1201h5v5h-5zM144 1201h5v5h-5zM421 1201h5v5h-5zM313 1206h5v4h-5zM379 1206h5v4h-5zM459 1206h4v4h-4zM130 1210h5v5h-5zM332 1210h14v5h-14zM473 1210h5v5h-5zM140 1215h4v4h-4zM154 1215h4v4h-4zM285 1215h5v4h-5zM323 1215h4v4h-4zM341 1215h5v4h-5zM351 1215h5v4h-5zM384 1215h9v4h-9zM440 1215h5v4h-5zM459 1215h4v4h-4zM473 1215h5v4h-5zM140 1219h4v4h-4zM295 1219h4v4h-4zM379 1223h9v5h-9zM722 1223h4v5h-4zM280 1228h5v4h-5zM346 1232h10v5h-10zM370 1232h4v5h-4zM388 1232h10v5h-10zM402 1232h5v5h-5zM740 1232h5v5h-5zM750 1232h4v5h-4zM351 1237h5v4h-5zM379 1237h19v4h-19zM407 1237h5v4h-5zM154 1241h4v4h-4zM341 1241h10v4h-10zM393 1241h9v4h-9zM712 1241h5v4h-5zM163 1245h5v5h-5zM191 1245h5v5h-5zM219 1245h5v5h-5zM351 1245h5v5h-5zM365 1245h5v5h-5zM374 1245h5v5h-5zM398 1245h4v5h-4zM731 1245h5v5h-5zM215 1250h4v4h-4zM234 1250h4v4h-4zM285 1250h5v4h-5zM295 1250h9v4h-9zM708 1250h4v4h-4zM205 1254h10v5h-10zM224 1254h14v5h-14zM299 1254h5v5h-5zM374 1254h5v5h-5zM421 1254h10v5h-10zM318 1259h9v4h-9zM365 1259h14v4h-14zM417 1259h4v4h-4zM431 1259h4v4h-4zM177 1263h5v4h-5zM215 1263h4v4h-4zM243 1263h5v4h-5zM309 1263h4v4h-4zM351 1263h5v4h-5zM168 1267h5v5h-5zM219 1267h5v5h-5zM337 1267h4v5h-4zM356 1267h4v5h-4zM365 1267h5v5h-5zM168 1272h5v4h-5zM215 1272h9v4h-9zM252 1272h5v4h-5zM337 1276h4v5h-4zM276 1281h4v4h-4zM384 1281h4v4h-4zM426 1281h5v4h-5zM224 1285h5v4h-5zM276 1285h9v4h-9zM454 1285h5v4h-5zM276 1289h4v5h-4zM351 1294h5v4h-5zM440 1294h9v4h-9zM337 1298h4v5h-4zM360 1298h5v5h-5zM440 1298h5v5h-5zM736 1298h4v5h-4zM440 1303h5v4h-5zM736 1303h4v4h-4zM337 1307h4v4h-4zM534 1307h5v4h-5zM698 1307h5v4h-5zM820 1307h5v4h-5zM210 1311h5v5h-5zM210 1316h5v4h-5zM257 1316h5v4h-5zM487 1316h5v4h-5zM234 1320h4v5h-4zM243 1320h9v5h-9zM543 1320h5v5h-5zM492 1325h4v4h-4zM229 1338h5v4h-5zM313 1338h5v4h-5zM825 1338h5v4h-5zM825 1342h5v5h-5zM309 1347h4v4h-4zM130 1351h5v4h-5zM140 1351h4v4h-4zM135 1355h5v5h-5zM271 1360h5v4h-5zM759 1360h5v4h-5zM285 1364h5v5h-5zM149 1373h5v4h-5zM135 1391h5v4h-5zM135 1395h5v4h-5zM154 1395h4v4h-4zM224 1395h5v4h-5zM154 1404h4v4h-4zM196 1413h5v4h-5zM327 1413h19v4h-19zM182 1417h5v4h-5zM341 1417h10v4h-10zM163 1421h5v5h-5zM285 1421h5v5h-5zM299 1421h5v5h-5zM332 1421h5v5h-5zM196 1426h5v4h-5zM327 1426h5v4h-5zM337 1426h4v4h-4zM290 1430h5v5h-5zM309 1430h4v5h-4zM337 1430h4v5h-4zM323 1435h4v4h-4zM238 1439h5v4h-5zM299 1439h5v4h-5zM318 1439h5v4h-5zM346 1439h5v4h-5zM205 1443h5v5h-5zM201 1448h4v4h-4zM210 1452h5v5h-5zM271 1452h5v5h-5zM318 1452h5v5h-5zM154 1457h4v4h-4zM205 1457h5v4h-5zM224 1457h5v4h-5zM144 1461h10v4h-10zM144 1465h5v5h-5zM276 1465h4v5h-4zM229 1470h5v4h-5zM276 1470h4v4h-4zM257 1474h5v5h-5zM238 1479h5v4h-5zM135 1483h9v4h-9zM280 1483h5v4h-5zM271 1487h5v5h-5zM252 1492h5v4h-5zM276 1496h4v5h-4zM266 1501h14v4h-14zM196 1518h5v5h-5zM257 1518h5v5h-5zM313 1518h5v5h-5zM219 1523h5v4h-5zM248 1523h4v4h-4zM205 1527h5v4h-5zM182 1531h5v5h-5zM229 1531h5v5h-5zM299 1531h5v5h-5zM271 1536h5v4h-5zM309 1536h4v4h-4zM234 1540h4v5h-4zM252 1540h5v5h-5zM299 1540h5v5h-5zM196 1545h5v4h-5zM243 1545h5v4h-5zM290 1545h5v4h-5zM299 1545h10v4h-10zM219 1553h10v5h-10zM252 1558h5v4h-5zM238 1562h5v5h-5zM252 1562h10v5h-10zM271 1562h5v5h-5zM135 1567h5v4h-5zM210 1567h5v4h-5zM135 1571h5v4h-5zM168 1571h9v4h-9zM210 1571h5v4h-5zM257 1571h5v4h-5zM266 1575h5v5h-5zM215 1584h4v5h-4zM154 1589h14v4h-14zM140 1597h4v5h-4zM158 1597h5v5h-5zM154 1606h4v5h-4zM149 1611h5v4h-5zM158 1611h5v4h-5zM154 1615h9v4h-9zM224 1624h5v4h-5zM144 1628h5v5h-5zM135 1633h5v4h-5zM144 1633h5v4h-5zM130 1637h5v4h-5zM154 1655h9v4h-9zM158 1659h5v4h-5zM140 1668h4v4h-4zM135 1672h5v5h-5zM135 1707h5v5h-5z"/><path fill="#81da81" d="M313 1166h5v5h-5zM332 1166h5v5h-5zM412 1166h5v5h-5zM426 1166h5v5h-5zM459 1166h4v5h-4zM398 1171h4v4h-4zM459 1171h4v4h-4zM468 1171h5v4h-5zM262 1175h4v4h-4zM351 1175h5v4h-5zM426 1175h5v4h-5zM435 1175h5v4h-5zM290 1179h5v5h-5zM346 1179h5v5h-5zM393 1179h5v5h-5zM421 1179h5v5h-5zM445 1179h4v5h-4zM459 1179h4v5h-4zM478 1179h4v5h-4zM210 1184h5v4h-5zM327 1184h5v4h-5zM365 1184h5v4h-5zM426 1184h19v4h-19zM454 1184h5v4h-5zM468 1184h5v4h-5zM327 1188h5v5h-5zM341 1188h10v5h-10zM374 1188h5v5h-5zM398 1188h4v5h-4zM426 1188h5v5h-5zM440 1188h9v5h-9zM473 1188h5v5h-5zM426 1193h5v4h-5zM468 1193h5v4h-5zM140 1197h4v4h-4zM187 1197h4v4h-4zM304 1197h5v4h-5zM468 1197h5v4h-5zM130 1201h5v5h-5zM187 1201h4v5h-4zM309 1201h4v5h-4zM360 1201h5v5h-5zM431 1201h4v5h-4zM332 1206h5v4h-5zM445 1206h4v4h-4zM463 1206h5v4h-5zM482 1206h5v4h-5zM257 1210h5v5h-5zM285 1210h5v5h-5zM327 1210h5v5h-5zM356 1210h4v5h-4zM463 1210h5v5h-5zM745 1210h9v5h-9zM144 1215h5v4h-5zM337 1215h4v4h-4zM463 1215h5v4h-5zM754 1215h5v4h-5zM299 1219h5v4h-5zM337 1219h4v4h-4zM360 1219h5v4h-5zM384 1219h4v4h-4zM731 1219h5v4h-5zM149 1223h5v5h-5zM280 1223h5v5h-5zM323 1223h9v5h-9zM374 1223h5v5h-5zM726 1223h5v5h-5zM360 1228h10v4h-10zM726 1228h5v4h-5zM750 1228h4v4h-4zM276 1232h4v5h-4zM304 1232h5v5h-5zM341 1232h5v5h-5zM356 1232h4v5h-4zM365 1232h5v5h-5zM379 1232h5v5h-5zM398 1232h4v5h-4zM717 1232h9v5h-9zM745 1232h5v5h-5zM158 1237h5v4h-5zM201 1237h4v4h-4zM280 1237h5v4h-5zM332 1237h5v4h-5zM356 1237h4v4h-4zM168 1241h5v4h-5zM187 1241h4v4h-4zM196 1241h5v4h-5zM313 1241h5v4h-5zM327 1241h5v4h-5zM426 1241h9v4h-9zM708 1241h4v4h-4zM736 1241h4v4h-4zM158 1245h5v5h-5zM210 1245h5v5h-5zM243 1245h5v5h-5zM280 1245h5v5h-5zM332 1245h5v5h-5zM384 1245h4v5h-4zM703 1245h5v5h-5zM722 1245h4v5h-4zM238 1250h5v4h-5zM304 1250h5v4h-5zM318 1250h5v4h-5zM252 1254h5v5h-5zM323 1254h4v5h-4zM393 1254h5v5h-5zM417 1254h4v5h-4zM187 1259h4v4h-4zM332 1259h5v4h-5zM360 1259h5v4h-5zM393 1259h5v4h-5zM402 1259h5v4h-5zM173 1263h4v4h-4zM182 1263h5v4h-5zM257 1263h5v4h-5zM304 1263h5v4h-5zM313 1263h5v4h-5zM323 1263h4v4h-4zM332 1263h5v4h-5zM356 1263h4v4h-4zM290 1267h5v5h-5zM313 1267h5v5h-5zM323 1267h4v5h-4zM323 1272h4v4h-4zM215 1276h4v5h-4zM323 1276h4v5h-4zM309 1281h4v4h-4zM341 1281h5v4h-5zM449 1285h5v4h-5zM224 1289h5v5h-5zM248 1289h4v5h-4zM431 1289h9v5h-9zM224 1294h5v4h-5zM332 1294h5v4h-5zM731 1294h5v4h-5zM224 1298h5v5h-5zM280 1298h5v5h-5zM304 1298h5v5h-5zM224 1303h5v4h-5zM693 1303h5v4h-5zM309 1307h4v4h-4zM703 1307h5v4h-5zM811 1307h9v4h-9zM215 1311h4v5h-4zM248 1316h4v4h-4zM238 1320h5v5h-5zM332 1325h5v4h-5zM266 1329h5v4h-5zM219 1333h5v5h-5zM318 1333h5v5h-5zM238 1338h5v4h-5zM163 1351h5v4h-5zM299 1355h10v5h-10zM140 1364h4v5h-4zM149 1391h5v4h-5zM360 1395h5v4h-5zM140 1399h4v5h-4zM149 1399h5v5h-5zM205 1408h5v5h-5zM149 1413h5v4h-5zM173 1417h4v4h-4zM140 1421h4v5h-4zM149 1421h5v5h-5zM168 1421h5v5h-5zM177 1421h5v5h-5zM187 1421h4v5h-4zM304 1421h5v5h-5zM182 1426h5v4h-5zM191 1426h5v4h-5zM290 1426h5v4h-5zM304 1426h9v4h-9zM304 1430h5v5h-5zM234 1435h4v4h-4zM290 1435h5v4h-5zM327 1435h5v4h-5zM163 1439h5v4h-5zM177 1439h5v4h-5zM201 1439h9v4h-9zM323 1439h4v4h-4zM173 1443h4v5h-4zM210 1443h9v5h-9zM224 1443h5v5h-5zM196 1448h5v4h-5zM224 1448h5v4h-5zM271 1448h5v4h-5zM313 1448h5v4h-5zM154 1452h4v5h-4zM168 1452h5v5h-5zM158 1457h5v4h-5zM229 1457h5v4h-5zM243 1457h5v4h-5zM276 1457h4v4h-4zM158 1461h5v4h-5zM304 1461h5v4h-5zM140 1465h4v5h-4zM149 1465h5v5h-5zM248 1474h4v5h-4zM130 1479h5v4h-5zM140 1479h9v4h-9zM266 1479h5v4h-5zM130 1483h5v4h-5zM144 1483h5v4h-5zM262 1483h4v4h-4zM135 1487h5v5h-5zM276 1487h9v5h-9zM219 1514h5v4h-5zM248 1514h4v4h-4zM257 1514h5v4h-5zM215 1518h4v5h-4zM201 1523h4v4h-4zM224 1523h5v4h-5zM248 1527h4v4h-4zM299 1527h10v4h-10zM234 1531h4v5h-4zM285 1531h5v5h-5zM266 1540h5v5h-5zM295 1540h4v5h-4zM309 1540h4v5h-4zM252 1545h5v4h-5zM219 1549h5v4h-5zM234 1549h4v4h-4zM257 1558h5v4h-5zM276 1558h4v4h-4zM238 1567h5v4h-5zM252 1567h5v4h-5zM252 1571h5v4h-5zM130 1575h5v5h-5zM252 1575h5v5h-5zM149 1602h14v4h-14zM149 1619h5v5h-5zM130 1624h10v4h-10zM229 1628h5v5h-5zM219 1637h5v4h-5zM130 1641h5v5h-5zM144 1641h10v5h-10zM158 1650h5v5h-5z"/><path fill="#8cdd87" d="M309 1166h4v5h-4zM398 1166h4v5h-4zM407 1166h5v5h-5zM468 1166h5v5h-5zM487 1166h9v5h-9zM177 1171h14v4h-14zM285 1171h10v4h-10zM332 1171h5v4h-5zM435 1171h5v4h-5zM445 1171h4v4h-4zM252 1175h5v4h-5zM356 1175h4v4h-4zM421 1175h5v4h-5zM454 1175h5v4h-5zM205 1179h5v5h-5zM332 1179h5v5h-5zM370 1179h4v5h-4zM417 1179h4v5h-4zM435 1179h10v5h-10zM135 1184h5v4h-5zM191 1184h5v4h-5zM201 1184h9v4h-9zM332 1184h5v4h-5zM346 1184h5v4h-5zM135 1188h9v5h-9zM393 1188h5v5h-5zM402 1188h5v5h-5zM468 1188h5v5h-5zM149 1193h5v4h-5zM327 1193h5v4h-5zM341 1193h5v4h-5zM374 1193h5v4h-5zM435 1193h5v4h-5zM454 1193h5v4h-5zM473 1193h9v4h-9zM295 1197h9v4h-9zM374 1197h5v4h-5zM431 1197h9v4h-9zM449 1197h5v4h-5zM337 1201h4v5h-4zM356 1201h4v5h-4zM370 1201h9v5h-9zM309 1206h4v4h-4zM337 1206h4v4h-4zM374 1206h5v4h-5zM435 1206h5v4h-5zM140 1210h4v5h-4zM351 1210h5v5h-5zM445 1210h4v5h-4zM478 1210h4v5h-4zM187 1215h4v4h-4zM248 1215h4v4h-4zM332 1215h5v4h-5zM356 1215h4v4h-4zM374 1215h5v4h-5zM736 1215h4v4h-4zM144 1219h5v4h-5zM313 1219h5v4h-5zM332 1219h5v4h-5zM365 1219h9v4h-9zM379 1219h5v4h-5zM388 1219h5v4h-5zM754 1219h5v4h-5zM182 1223h5v5h-5zM248 1223h4v5h-4zM318 1223h5v5h-5zM356 1223h4v5h-4zM393 1223h9v5h-9zM754 1223h5v5h-5zM313 1228h5v4h-5zM323 1228h9v4h-9zM351 1228h5v4h-5zM393 1228h5v4h-5zM740 1228h10v4h-10zM149 1232h5v5h-5zM262 1232h14v5h-14zM285 1232h5v5h-5zM332 1232h5v5h-5zM374 1232h5v5h-5zM384 1232h4v5h-4zM248 1237h4v4h-4zM323 1237h4v4h-4zM365 1237h5v4h-5zM736 1237h4v4h-4zM130 1241h5v4h-5zM149 1241h5v4h-5zM191 1241h5v4h-5zM332 1241h5v4h-5zM356 1241h4v4h-4zM417 1241h9v4h-9zM722 1241h4v4h-4zM290 1245h5v5h-5zM309 1245h14v5h-14zM337 1245h4v5h-4zM370 1245h4v5h-4zM417 1245h4v5h-4zM266 1250h5v4h-5zM280 1250h5v4h-5zM327 1250h5v4h-5zM417 1250h14v4h-14zM243 1254h5v5h-5zM327 1254h5v5h-5zM431 1254h4v5h-4zM177 1259h10v4h-10zM327 1259h5v4h-5zM224 1263h5v4h-5zM248 1263h4v4h-4zM337 1263h9v4h-9zM360 1263h5v4h-5zM402 1263h5v4h-5zM224 1267h5v5h-5zM266 1267h5v5h-5zM295 1267h4v5h-4zM304 1267h9v5h-9zM360 1267h5v5h-5zM229 1272h5v4h-5zM243 1272h5v4h-5zM257 1272h5v4h-5zM266 1272h10v4h-10zM234 1276h4v5h-4zM215 1281h9v4h-9zM229 1281h5v4h-5zM271 1281h5v4h-5zM280 1281h5v4h-5zM266 1285h5v4h-5zM290 1285h5v4h-5zM384 1285h4v4h-4zM280 1289h5v5h-5zM717 1289h5v5h-5zM234 1294h4v4h-4zM280 1294h5v4h-5zM356 1294h4v4h-4zM712 1294h5v4h-5zM445 1298h4v5h-4zM698 1298h10v5h-10zM731 1298h5v5h-5zM215 1303h4v4h-4zM215 1307h4v4h-4zM224 1307h5v4h-5zM285 1307h5v4h-5zM717 1307h9v4h-9zM238 1311h5v5h-5zM693 1311h10v5h-10zM815 1311h5v5h-5zM229 1316h5v4h-5zM243 1316h5v4h-5zM473 1316h5v4h-5zM693 1316h5v4h-5zM257 1320h5v5h-5zM708 1320h4v5h-4zM248 1325h4v4h-4zM304 1325h5v4h-5zM224 1333h5v5h-5zM243 1333h5v5h-5zM271 1333h5v5h-5zM323 1333h4v5h-4zM163 1347h5v4h-5zM276 1347h4v4h-4zM144 1351h5v4h-5zM276 1351h4v4h-4zM299 1351h10v4h-10zM130 1355h5v5h-5zM144 1355h5v5h-5zM140 1360h4v4h-4zM154 1360h9v4h-9zM290 1360h5v4h-5zM144 1364h5v5h-5zM154 1373h4v4h-4zM130 1395h5v4h-5zM135 1399h5v5h-5zM149 1417h5v4h-5zM168 1417h5v4h-5zM154 1421h4v5h-4zM173 1421h4v5h-4zM327 1421h5v5h-5zM168 1426h14v4h-14zM187 1426h4v4h-4zM285 1426h5v4h-5zM173 1430h4v5h-4zM182 1430h5v5h-5zM177 1435h5v4h-5zM309 1435h4v4h-4zM341 1435h10v4h-10zM215 1439h4v4h-4zM168 1443h5v5h-5zM163 1448h5v4h-5zM210 1448h5v4h-5zM266 1448h5v4h-5zM173 1452h4v5h-4zM215 1452h4v5h-4zM224 1452h5v5h-5zM248 1452h4v5h-4zM276 1452h4v5h-4zM304 1452h5v5h-5zM313 1452h5v5h-5zM219 1457h5v4h-5zM299 1457h5v4h-5zM313 1457h5v4h-5zM154 1461h4v4h-4zM210 1461h5v4h-5zM219 1461h5v4h-5zM309 1461h4v4h-4zM158 1465h5v5h-5zM130 1474h5v5h-5zM229 1474h5v5h-5zM135 1479h5v4h-5zM271 1479h9v4h-9zM219 1483h5v4h-5zM140 1487h4v5h-4zM182 1487h5v5h-5zM130 1492h5v4h-5zM187 1492h4v4h-4zM271 1492h9v4h-9zM271 1496h5v5h-5zM234 1505h4v4h-4zM224 1509h5v5h-5zM243 1509h5v5h-5zM257 1509h5v5h-5zM177 1514h5v4h-5zM201 1514h4v4h-4zM238 1514h5v4h-5zM252 1514h5v4h-5zM215 1523h4v4h-4zM238 1523h5v4h-5zM182 1527h5v4h-5zM295 1527h4v4h-4zM191 1536h5v4h-5zM224 1536h5v4h-5zM290 1536h5v4h-5zM299 1536h5v4h-5zM191 1540h5v5h-5zM219 1540h5v5h-5zM229 1540h5v5h-5zM290 1540h5v5h-5zM191 1545h5v4h-5zM219 1545h15v4h-15zM295 1545h4v4h-4zM191 1549h5v4h-5zM229 1549h5v4h-5zM248 1549h4v4h-4zM280 1549h5v4h-5zM290 1549h9v4h-9zM182 1553h5v5h-5zM248 1553h4v5h-4zM173 1558h4v4h-4zM262 1575h4v5h-4zM144 1584h5v5h-5zM130 1602h5v4h-5zM149 1615h5v4h-5zM135 1628h5v5h-5zM154 1637h4v4h-4zM158 1646h5v4h-5zM130 1655h5v4h-5zM163 1655h5v4h-5zM140 1663h4v5h-4z"/><path fill="#97e18d" d="M299 1166h5v5h-5zM356 1166h4v5h-4zM431 1166h9v5h-9zM463 1166h5v5h-5zM135 1171h5v4h-5zM313 1171h5v4h-5zM440 1171h5v4h-5zM473 1171h5v4h-5zM140 1175h4v4h-4zM163 1175h5v4h-5zM177 1175h10v4h-10zM201 1175h4v4h-4zM365 1175h9v4h-9zM412 1175h5v4h-5zM459 1175h4v4h-4zM144 1179h5v5h-5zM196 1179h9v5h-9zM285 1179h5v5h-5zM365 1179h5v5h-5zM431 1179h4v5h-4zM454 1179h5v5h-5zM463 1179h10v5h-10zM163 1184h5v4h-5zM196 1184h5v4h-5zM318 1184h9v4h-9zM360 1184h5v4h-5zM482 1184h5v4h-5zM351 1188h5v5h-5zM435 1188h5v5h-5zM449 1188h10v5h-10zM365 1193h5v4h-5zM449 1193h5v4h-5zM130 1197h5v4h-5zM327 1197h5v4h-5zM341 1197h5v4h-5zM360 1197h5v4h-5zM370 1197h4v4h-4zM440 1197h5v4h-5zM140 1201h4v5h-4zM262 1201h4v5h-4zM285 1201h5v5h-5zM332 1201h5v5h-5zM346 1201h5v5h-5zM365 1201h5v5h-5zM449 1201h5v5h-5zM356 1206h18v4h-18zM449 1206h5v4h-5zM187 1210h4v5h-4zM374 1210h5v5h-5zM440 1210h5v5h-5zM158 1215h5v4h-5zM309 1215h4v4h-4zM327 1215h5v4h-5zM370 1215h4v4h-4zM750 1215h4v4h-4zM182 1219h5v4h-5zM304 1219h5v4h-5zM140 1223h4v5h-4zM187 1223h4v5h-4zM276 1223h4v5h-4zM299 1223h5v5h-5zM313 1223h5v5h-5zM149 1228h5v4h-5zM276 1228h4v4h-4zM304 1228h5v4h-5zM318 1228h5v4h-5zM356 1228h4v4h-4zM722 1228h4v4h-4zM323 1232h4v5h-4zM360 1232h5v5h-5zM154 1237h4v4h-4zM163 1237h5v4h-5zM262 1237h4v4h-4zM271 1237h9v4h-9zM295 1237h4v4h-4zM309 1237h4v4h-4zM327 1237h5v4h-5zM370 1237h9v4h-9zM144 1241h5v4h-5zM173 1241h14v4h-14zM205 1241h5v4h-5zM248 1241h4v4h-4zM365 1241h5v4h-5zM276 1245h4v5h-4zM295 1245h9v5h-9zM346 1245h5v5h-5zM379 1245h5v5h-5zM412 1245h5v5h-5zM421 1245h10v5h-10zM219 1250h5v4h-5zM276 1250h4v4h-4zM332 1250h5v4h-5zM398 1250h4v4h-4zM412 1250h5v4h-5zM238 1254h5v5h-5zM248 1254h4v5h-4zM257 1254h5v5h-5zM276 1254h4v5h-4zM285 1254h5v5h-5zM370 1254h4v5h-4zM248 1259h9v4h-9zM351 1259h5v4h-5zM398 1259h4v4h-4zM318 1263h5v4h-5zM398 1263h4v4h-4zM234 1267h4v5h-4zM257 1267h5v5h-5zM318 1267h5v5h-5zM224 1272h5v4h-5zM262 1272h4v4h-4zM290 1272h5v4h-5zM313 1272h10v4h-10zM219 1276h10v5h-10zM243 1276h5v5h-5zM318 1276h5v5h-5zM243 1281h5v4h-5zM271 1285h5v4h-5zM295 1285h9v4h-9zM262 1289h9v5h-9zM295 1289h9v5h-9zM708 1289h4v5h-4zM229 1294h5v4h-5zM257 1294h5v4h-5zM276 1294h4v4h-4zM708 1294h4v4h-4zM726 1294h5v4h-5zM726 1298h5v5h-5zM309 1303h4v4h-4zM219 1307h5v4h-5zM229 1307h5v4h-5zM708 1311h4v5h-4zM215 1316h4v4h-4zM717 1316h5v4h-5zM229 1320h5v5h-5zM252 1320h5v5h-5zM304 1320h5v5h-5zM703 1320h5v5h-5zM327 1325h5v4h-5zM219 1329h5v4h-5zM229 1329h5v4h-5zM271 1329h5v4h-5zM318 1329h14v4h-14zM229 1333h5v5h-5zM238 1333h5v5h-5zM234 1338h4v4h-4zM304 1338h5v4h-5zM149 1347h9v4h-9zM158 1351h5v4h-5zM144 1360h5v4h-5zM276 1360h4v4h-4zM295 1360h4v4h-4zM149 1364h5v5h-5zM280 1364h5v5h-5zM135 1408h5v5h-5zM149 1408h5v5h-5zM135 1413h5v4h-5zM144 1413h5v4h-5zM177 1417h5v4h-5zM158 1421h5v5h-5zM182 1421h5v5h-5zM332 1426h5v4h-5zM135 1430h5v5h-5zM163 1430h10v5h-10zM177 1430h5v5h-5zM187 1430h9v5h-9zM158 1435h5v4h-5zM337 1435h4v4h-4zM210 1439h5v4h-5zM219 1439h5v4h-5zM163 1443h5v5h-5zM229 1443h5v5h-5zM205 1448h5v4h-5zM182 1452h5v5h-5zM252 1452h10v5h-10zM163 1457h5v4h-5zM234 1457h9v4h-9zM248 1457h4v4h-4zM187 1461h4v4h-4zM271 1461h5v4h-5zM135 1465h5v5h-5zM224 1465h5v5h-5zM154 1470h4v4h-4zM173 1470h4v4h-4zM191 1470h5v4h-5zM224 1474h5v5h-5zM238 1474h5v5h-5zM262 1479h4v4h-4zM248 1483h4v4h-4zM262 1487h4v5h-4zM262 1492h9v4h-9zM229 1501h5v4h-5zM243 1501h5v4h-5zM252 1509h5v5h-5zM337 1509h4v5h-4zM163 1514h5v4h-5zM201 1518h4v5h-4zM210 1518h5v5h-5zM229 1518h5v5h-5zM238 1518h5v5h-5zM210 1527h5v4h-5zM229 1527h5v4h-5zM238 1527h5v4h-5zM290 1531h9v5h-9zM304 1531h5v5h-5zM187 1536h4v4h-4zM295 1536h4v4h-4zM262 1545h4v4h-4zM280 1545h5v4h-5zM252 1549h5v4h-5zM248 1567h4v4h-4zM257 1567h5v4h-5zM262 1571h9v4h-9zM135 1575h5v5h-5zM135 1584h5v5h-5zM144 1597h5v5h-5zM154 1597h4v5h-4zM149 1606h5v5h-5zM144 1611h5v4h-5zM140 1619h4v5h-4zM135 1637h5v4h-5zM144 1637h10v4h-10zM135 1641h9v5h-9zM149 1659h5v4h-5z"/><path fill="#9fe493" d="M130 1166h10v5h-10zM360 1166h5v5h-5zM370 1166h4v5h-4zM473 1166h5v5h-5zM496 1166h5v5h-5zM140 1171h4v4h-4zM149 1171h5v4h-5zM191 1171h14v4h-14zM299 1171h5v4h-5zM356 1171h9v4h-9zM402 1171h5v4h-5zM463 1171h5v4h-5zM196 1175h5v4h-5zM304 1175h5v4h-5zM407 1175h5v4h-5zM482 1175h5v4h-5zM130 1179h10v5h-10zM163 1179h5v5h-5zM210 1179h5v5h-5zM276 1179h4v5h-4zM318 1179h9v5h-9zM351 1179h9v5h-9zM402 1179h5v5h-5zM449 1179h5v5h-5zM290 1184h5v4h-5zM449 1184h5v4h-5zM130 1188h5v5h-5zM144 1188h5v5h-5zM158 1188h10v5h-10zM290 1188h5v5h-5zM478 1188h9v5h-9zM163 1193h5v4h-5zM210 1193h5v4h-5zM346 1193h5v4h-5zM370 1193h4v4h-4zM440 1193h9v4h-9zM482 1193h5v4h-5zM149 1197h5v4h-5zM337 1197h4v4h-4zM365 1197h5v4h-5zM445 1197h4v4h-4zM304 1201h5v5h-5zM187 1206h4v4h-4zM341 1206h5v4h-5zM478 1206h4v4h-4zM154 1210h4v5h-4zM163 1210h5v5h-5zM309 1210h4v5h-4zM370 1210h4v5h-4zM740 1210h5v5h-5zM290 1215h5v4h-5zM365 1215h5v4h-5zM130 1219h5v4h-5zM276 1219h9v4h-9zM309 1219h4v4h-4zM736 1219h4v4h-4zM130 1223h5v5h-5zM154 1223h4v5h-4zM285 1223h5v5h-5zM745 1223h5v5h-5zM262 1228h4v4h-4zM271 1228h5v4h-5zM224 1232h5v5h-5zM295 1232h4v5h-4zM318 1232h5v5h-5zM731 1232h5v5h-5zM177 1237h5v4h-5zM266 1237h5v4h-5zM318 1237h5v4h-5zM398 1237h9v4h-9zM726 1237h10v4h-10zM262 1241h9v4h-9zM276 1241h4v4h-4zM290 1241h5v4h-5zM360 1241h5v4h-5zM370 1241h4v4h-4zM304 1245h5v5h-5zM356 1245h4v5h-4zM224 1250h10v4h-10zM337 1250h4v4h-4zM346 1250h5v4h-5zM402 1250h5v4h-5zM360 1254h5v5h-5zM398 1254h4v5h-4zM224 1259h5v4h-5zM262 1259h4v4h-4zM271 1259h5v4h-5zM337 1259h4v4h-4zM356 1259h4v4h-4zM229 1263h9v4h-9zM262 1263h14v4h-14zM243 1267h9v5h-9zM262 1267h4v5h-4zM271 1267h5v5h-5zM248 1272h4v4h-4zM295 1272h4v4h-4zM309 1272h4v4h-4zM252 1276h10v5h-10zM309 1276h4v5h-4zM234 1281h4v4h-4zM248 1285h4v4h-4zM285 1285h5v4h-5zM309 1285h4v4h-4zM327 1285h5v4h-5zM318 1289h5v5h-5zM219 1294h5v4h-5zM262 1294h4v4h-4zM299 1294h5v4h-5zM722 1294h4v4h-4zM698 1303h5v4h-5zM726 1303h5v4h-5zM295 1311h4v5h-4zM722 1311h4v5h-4zM219 1320h10v5h-10zM276 1320h4v5h-4zM271 1325h5v4h-5zM224 1329h5v4h-5zM234 1329h4v4h-4zM243 1329h5v4h-5zM276 1329h4v4h-4zM276 1333h4v5h-4zM276 1342h4v5h-4zM304 1342h5v5h-5zM299 1347h10v4h-10zM280 1351h5v4h-5zM158 1355h5v5h-5zM276 1355h4v5h-4zM295 1355h4v5h-4zM285 1360h5v4h-5zM130 1404h5v4h-5zM149 1404h5v4h-5zM144 1417h5v4h-5zM144 1421h5v5h-5zM140 1430h4v5h-4zM163 1435h5v4h-5zM219 1448h5v4h-5zM309 1452h4v5h-4zM144 1457h5v4h-5zM187 1457h4v4h-4zM201 1457h4v4h-4zM266 1457h5v4h-5zM309 1457h4v4h-4zM140 1461h4v4h-4zM224 1461h14v4h-14zM266 1461h5v4h-5zM154 1465h4v5h-4zM187 1465h4v5h-4zM210 1465h5v5h-5zM271 1465h5v5h-5zM135 1470h9v4h-9zM149 1470h5v4h-5zM140 1474h4v5h-4zM271 1474h5v5h-5zM149 1479h9v4h-9zM215 1479h4v4h-4zM224 1479h5v4h-5zM177 1483h5v4h-5zM215 1483h4v4h-4zM276 1483h4v4h-4zM130 1487h5v5h-5zM135 1492h5v4h-5zM266 1496h5v5h-5zM224 1501h5v4h-5zM243 1505h5v4h-5zM177 1509h5v5h-5zM196 1509h5v5h-5zM238 1509h5v5h-5zM332 1509h5v5h-5zM187 1514h9v4h-9zM234 1518h4v5h-4zM182 1523h5v4h-5zM234 1536h4v4h-4zM304 1536h5v4h-5zM187 1540h4v5h-4zM271 1540h5v5h-5zM304 1540h5v5h-5zM234 1545h4v4h-4zM252 1553h14v5h-14zM280 1553h5v5h-5zM266 1558h5v4h-5zM140 1562h4v5h-4zM262 1562h9v5h-9zM163 1575h5v5h-5zM130 1589h5v4h-5zM149 1589h5v4h-5zM135 1597h5v5h-5zM144 1619h5v5h-5zM135 1646h5v4h-5zM154 1650h4v5h-4zM135 1659h5v4h-5zM130 1668h5v4h-5z"/><path fill="#a8e79a" d="M140 1166h4v5h-4zM149 1166h5v5h-5zM187 1166h14v5h-14zM290 1166h5v5h-5zM304 1166h5v5h-5zM346 1166h5v5h-5zM130 1171h5v4h-5zM173 1171h4v4h-4zM346 1171h5v4h-5zM365 1171h5v4h-5zM135 1175h5v4h-5zM144 1175h5v4h-5zM187 1175h4v4h-4zM257 1175h5v4h-5zM402 1175h5v4h-5zM463 1175h10v4h-10zM140 1179h4v5h-4zM158 1179h5v5h-5zM191 1179h5v5h-5zM280 1179h5v5h-5zM407 1179h5v5h-5zM482 1179h5v5h-5zM140 1184h9v4h-9zM158 1184h5v4h-5zM285 1184h5v4h-5zM388 1184h10v4h-10zM478 1184h4v4h-4zM187 1188h4v5h-4zM205 1188h5v5h-5zM158 1193h5v4h-5zM187 1193h4v4h-4zM351 1193h5v4h-5zM135 1197h5v4h-5zM163 1197h5v4h-5zM290 1197h5v4h-5zM149 1201h5v5h-5zM163 1201h5v5h-5zM295 1201h9v5h-9zM445 1201h4v5h-4zM144 1206h10v4h-10zM262 1206h4v4h-4zM271 1206h5v4h-5zM304 1206h5v4h-5zM351 1206h5v4h-5zM440 1206h5v4h-5zM144 1210h5v5h-5zM158 1210h5v5h-5zM360 1210h10v5h-10zM130 1215h5v4h-5zM257 1215h9v4h-9zM360 1215h5v4h-5zM379 1215h5v4h-5zM154 1219h4v4h-4zM187 1219h4v4h-4zM266 1219h5v4h-5zM285 1219h5v4h-5zM135 1223h5v5h-5zM144 1223h5v5h-5zM271 1223h5v5h-5zM290 1223h5v5h-5zM736 1223h4v5h-4zM750 1223h4v5h-4zM158 1228h5v4h-5zM182 1228h5v4h-5zM266 1228h5v4h-5zM290 1228h9v4h-9zM158 1232h10v5h-10zM187 1232h4v5h-4zM229 1232h5v5h-5zM248 1232h4v5h-4zM290 1232h5v5h-5zM736 1232h4v5h-4zM130 1237h24v4h-24zM173 1237h4v4h-4zM187 1237h4v4h-4zM360 1237h5v4h-5zM243 1241h5v4h-5zM271 1241h5v4h-5zM280 1241h5v4h-5zM295 1241h4v4h-4zM731 1241h5v4h-5zM224 1245h5v5h-5zM238 1245h5v5h-5zM266 1245h5v5h-5zM360 1245h5v5h-5zM712 1245h5v5h-5zM271 1254h5v5h-5zM280 1254h5v5h-5zM332 1254h9v5h-9zM229 1259h5v4h-5zM285 1259h5v4h-5zM341 1259h5v4h-5zM285 1267h5v5h-5zM266 1276h5v5h-5zM295 1276h4v5h-4zM248 1281h4v4h-4zM257 1281h5v4h-5zM313 1281h5v4h-5zM327 1281h5v4h-5zM337 1281h4v4h-4zM252 1285h5v4h-5zM313 1285h5v4h-5zM341 1285h5v4h-5zM229 1289h9v5h-9zM252 1289h5v5h-5zM309 1289h4v5h-4zM341 1289h5v5h-5zM238 1294h10v4h-10zM295 1294h4v4h-4zM341 1294h5v4h-5zM229 1298h5v5h-5zM708 1298h9v5h-9zM280 1303h5v4h-5zM304 1303h5v4h-5zM731 1303h5v4h-5zM290 1307h5v4h-5zM313 1307h5v4h-5zM219 1311h5v5h-5zM229 1311h9v5h-9zM285 1311h5v5h-5zM337 1311h4v5h-4zM219 1316h10v4h-10zM280 1316h10v4h-10zM337 1316h4v4h-4zM280 1320h5v5h-5zM337 1320h4v5h-4zM698 1320h5v5h-5zM229 1325h19v4h-19zM266 1325h5v4h-5zM276 1325h9v4h-9zM323 1325h4v4h-4zM280 1329h5v4h-5zM290 1329h5v4h-5zM313 1329h5v4h-5zM234 1333h4v5h-4zM280 1333h5v5h-5zM299 1333h5v5h-5zM313 1333h5v5h-5zM276 1338h4v4h-4zM158 1347h5v4h-5zM280 1347h5v4h-5zM149 1355h9v5h-9zM149 1360h5v4h-5zM130 1399h5v5h-5zM144 1399h5v5h-5zM135 1404h5v4h-5zM130 1408h5v5h-5zM130 1413h5v4h-5zM140 1413h4v4h-4zM140 1417h4v4h-4zM135 1421h5v5h-5zM135 1426h5v4h-5zM158 1426h5v4h-5zM332 1430h5v5h-5zM158 1448h5v4h-5zM149 1452h5v5h-5zM191 1452h5v5h-5zM262 1452h4v5h-4zM196 1457h5v4h-5zM163 1461h5v4h-5zM130 1465h5v5h-5zM229 1465h5v5h-5zM130 1470h5v4h-5zM144 1470h5v4h-5zM135 1474h5v5h-5zM144 1474h5v5h-5zM177 1479h5v4h-5zM248 1479h4v4h-4zM271 1483h5v4h-5zM144 1487h5v5h-5zM266 1487h5v5h-5zM191 1492h5v4h-5zM257 1492h5v4h-5zM130 1496h5v5h-5zM234 1496h4v5h-4zM248 1501h4v4h-4zM224 1505h5v4h-5zM248 1505h4v4h-4zM173 1509h4v5h-4zM219 1509h5v5h-5zM196 1514h5v4h-5zM205 1514h5v4h-5zM276 1536h9v4h-9zM224 1540h5v5h-5zM280 1540h10v5h-10zM187 1549h4v4h-4zM262 1549h4v4h-4zM285 1549h5v4h-5zM248 1558h4v4h-4zM262 1558h4v4h-4zM271 1558h5v4h-5zM144 1562h5v5h-5zM168 1562h5v5h-5zM248 1562h4v5h-4zM262 1567h4v4h-4zM130 1580h5v4h-5zM149 1584h9v5h-9zM135 1589h5v4h-5zM144 1589h5v4h-5zM144 1606h5v5h-5zM144 1615h5v4h-5zM135 1619h5v5h-5zM130 1646h5v4h-5z"/><path fill="#b4eda5" d="M182 1166h5v5h-5zM201 1166h4v5h-4zM271 1166h5v5h-5zM337 1166h9v5h-9zM351 1166h5v5h-5zM365 1166h5v5h-5zM163 1171h10v4h-10zM280 1171h5v4h-5zM304 1171h9v4h-9zM337 1171h9v4h-9zM149 1175h5v4h-5zM280 1175h5v4h-5zM299 1175h5v4h-5zM337 1175h4v4h-4zM346 1175h5v4h-5zM177 1179h5v5h-5zM271 1179h5v5h-5zM341 1179h5v5h-5zM229 1184h5v4h-5zM149 1188h5v5h-5zM229 1188h5v5h-5zM356 1188h4v5h-4zM332 1193h5v4h-5zM210 1197h5v4h-5zM262 1197h9v4h-9zM332 1197h5v4h-5zM346 1197h5v4h-5zM158 1201h5v5h-5zM351 1201h5v5h-5zM435 1201h5v5h-5zM140 1206h4v4h-4zM163 1206h10v4h-10zM276 1206h4v4h-4zM262 1210h9v5h-9zM379 1210h5v5h-5zM163 1215h5v4h-5zM252 1215h5v4h-5zM266 1215h5v4h-5zM745 1215h5v4h-5zM158 1219h5v4h-5zM257 1219h5v4h-5zM271 1219h5v4h-5zM750 1219h4v4h-4zM158 1223h5v5h-5zM177 1223h5v5h-5zM257 1223h5v5h-5zM266 1223h5v5h-5zM154 1228h4v4h-4zM187 1228h4v4h-4zM229 1228h5v4h-5zM257 1228h5v4h-5zM299 1228h5v4h-5zM309 1228h4v4h-4zM168 1232h5v5h-5zM201 1232h4v5h-4zM257 1232h5v5h-5zM299 1232h5v5h-5zM168 1237h5v4h-5zM191 1237h10v4h-10zM290 1237h5v4h-5zM215 1241h4v4h-4zM285 1241h5v4h-5zM299 1241h5v4h-5zM262 1245h4v5h-4zM726 1245h5v5h-5zM248 1250h4v4h-4zM271 1250h5v4h-5zM341 1250h5v4h-5zM266 1254h5v5h-5zM341 1254h5v5h-5zM351 1254h5v5h-5zM365 1254h5v5h-5zM234 1259h9v4h-9zM266 1259h5v4h-5zM238 1263h5v4h-5zM229 1267h5v5h-5zM238 1267h5v5h-5zM248 1276h4v5h-4zM262 1276h4v5h-4zM271 1276h9v5h-9zM238 1281h5v4h-5zM252 1281h5v4h-5zM229 1285h9v4h-9zM257 1285h5v4h-5zM238 1289h10v5h-10zM313 1289h5v5h-5zM332 1289h9v5h-9zM248 1294h4v4h-4zM309 1294h4v4h-4zM717 1294h5v4h-5zM234 1298h4v5h-4zM309 1298h4v5h-4zM717 1298h9v5h-9zM234 1303h4v4h-4zM285 1303h5v4h-5zM234 1307h9v4h-9zM332 1307h5v4h-5zM257 1311h5v5h-5zM712 1311h10v5h-10zM234 1316h4v4h-4zM299 1316h5v4h-5zM698 1316h14v4h-14zM262 1325h4v4h-4zM238 1329h5v4h-5zM304 1329h5v4h-5zM285 1333h5v5h-5zM309 1338h4v4h-4zM285 1342h5v5h-5zM285 1347h5v4h-5zM295 1347h4v4h-4zM149 1351h5v4h-5zM295 1351h4v4h-4zM130 1417h10v4h-10zM154 1426h4v4h-4zM154 1430h9v5h-9zM173 1435h4v4h-4zM149 1439h5v4h-5zM158 1439h5v4h-5zM149 1448h5v4h-5zM140 1452h9v5h-9zM177 1452h5v5h-5zM173 1457h14v4h-14zM304 1457h5v4h-5zM130 1461h10v4h-10zM168 1461h5v4h-5zM201 1461h9v4h-9zM243 1461h5v4h-5zM262 1461h4v4h-4zM168 1465h5v5h-5zM234 1465h4v5h-4zM248 1465h4v5h-4zM158 1470h5v4h-5zM177 1470h10v4h-10zM224 1470h5v4h-5zM234 1470h4v4h-4zM149 1474h9v5h-9zM219 1474h5v5h-5zM243 1474h5v5h-5zM219 1479h5v4h-5zM154 1483h4v4h-4zM243 1483h5v4h-5zM257 1483h5v4h-5zM215 1487h4v5h-4zM140 1492h4v4h-4zM229 1496h5v5h-5zM248 1496h4v5h-4zM135 1501h5v4h-5zM182 1501h9v4h-9zM163 1509h5v5h-5zM182 1509h5v5h-5zM201 1509h4v5h-4zM215 1509h4v5h-4zM182 1514h5v4h-5zM177 1518h5v5h-5zM205 1523h10v4h-10zM229 1523h9v4h-9zM234 1527h4v4h-4zM182 1536h5v4h-5zM276 1540h4v5h-4zM187 1545h4v4h-4zM266 1545h5v4h-5zM276 1545h4v4h-4zM182 1549h5v4h-5zM177 1553h5v5h-5zM144 1558h5v4h-5zM168 1567h5v4h-5zM149 1571h9v4h-9zM163 1571h5v4h-5zM135 1580h14v4h-14zM154 1580h4v4h-4zM163 1580h5v4h-5zM130 1584h5v5h-5zM158 1584h5v5h-5zM140 1589h4v4h-4zM130 1593h14v4h-14zM135 1611h9v4h-9zM140 1615h4v4h-4zM130 1619h5v5h-5zM149 1646h9v4h-9zM135 1668h5v4h-5z"/><path fill="#c1f4b2" d="M154 1166h9v5h-9zM173 1166h9v5h-9zM205 1166h5v5h-5zM266 1166h5v5h-5zM276 1166h4v5h-4zM285 1166h5v5h-5zM478 1166h4v5h-4zM144 1171h5v4h-5zM173 1175h4v4h-4zM191 1175h5v4h-5zM205 1175h10v4h-10zM276 1175h4v4h-4zM154 1179h4v5h-4zM266 1179h5v5h-5zM168 1184h5v4h-5zM187 1184h4v4h-4zM210 1188h5v5h-5zM262 1188h4v5h-4zM332 1188h5v5h-5zM360 1188h5v5h-5zM154 1193h4v4h-4zM356 1193h4v4h-4zM158 1197h5v4h-5zM182 1197h5v4h-5zM191 1197h5v4h-5zM191 1201h5v5h-5zM276 1201h4v5h-4zM290 1201h5v5h-5zM154 1206h9v4h-9zM257 1206h5v4h-5zM266 1206h5v4h-5zM280 1206h10v4h-10zM168 1210h5v5h-5zM276 1210h4v5h-4zM290 1210h9v5h-9zM168 1215h5v4h-5zM182 1215h5v4h-5zM295 1215h4v4h-4zM740 1215h5v4h-5zM191 1219h5v4h-5zM262 1219h4v4h-4zM262 1223h4v5h-4zM295 1223h4v5h-4zM309 1223h4v5h-4zM201 1228h4v4h-4zM224 1228h5v4h-5zM130 1232h5v5h-5zM182 1232h5v5h-5zM252 1232h5v5h-5zM327 1232h5v5h-5zM182 1237h5v4h-5zM229 1237h5v4h-5zM285 1237h5v4h-5zM299 1237h5v4h-5zM313 1237h5v4h-5zM219 1241h5v4h-5zM257 1241h5v4h-5zM304 1241h5v4h-5zM248 1245h4v5h-4zM243 1250h5v4h-5zM257 1250h9v4h-9zM365 1250h9v4h-9zM346 1254h5v5h-5zM356 1254h4v5h-4zM276 1259h9v4h-9zM346 1259h5v4h-5zM285 1263h5v4h-5zM276 1267h4v5h-4zM280 1276h5v5h-5zM290 1276h5v5h-5zM313 1276h5v5h-5zM262 1281h9v4h-9zM323 1281h4v4h-4zM318 1285h5v4h-5zM271 1289h5v5h-5zM290 1289h5v5h-5zM323 1289h4v5h-4zM318 1294h5v4h-5zM295 1298h9v5h-9zM332 1298h5v5h-5zM229 1303h5v4h-5zM257 1303h5v4h-5zM290 1303h5v4h-5zM703 1303h5v4h-5zM243 1307h5v4h-5zM257 1307h5v4h-5zM224 1311h5v5h-5zM243 1311h5v5h-5zM252 1311h5v5h-5zM276 1316h4v4h-4zM304 1316h9v4h-9zM285 1320h10v5h-10zM318 1325h5v4h-5zM285 1329h5v4h-5zM290 1333h5v5h-5zM285 1338h5v4h-5zM154 1351h4v4h-4zM140 1408h4v5h-4zM149 1426h5v4h-5zM168 1435h5v4h-5zM144 1439h5v4h-5zM154 1439h4v4h-4zM168 1439h5v4h-5zM149 1443h5v5h-5zM140 1457h4v4h-4zM191 1457h5v4h-5zM252 1457h5v4h-5zM262 1457h4v4h-4zM173 1461h4v4h-4zM182 1461h5v4h-5zM215 1461h4v4h-4zM248 1461h4v4h-4zM243 1465h5v5h-5zM187 1470h4v4h-4zM210 1470h5v4h-5zM219 1470h5v4h-5zM248 1470h4v4h-4zM271 1470h5v4h-5zM182 1474h5v5h-5zM201 1479h4v4h-4zM257 1479h5v4h-5zM149 1483h5v4h-5zM229 1483h14v4h-14zM252 1483h5v4h-5zM210 1487h5v5h-5zM252 1487h5v5h-5zM196 1492h5v4h-5zM177 1501h5v4h-5zM234 1501h9v4h-9zM177 1505h5v4h-5zM196 1505h5v4h-5zM215 1505h9v4h-9zM238 1505h5v4h-5zM187 1509h4v5h-4zM210 1509h5v5h-5zM173 1523h4v4h-4zM177 1536h5v4h-5zM229 1536h5v4h-5zM285 1545h5v4h-5zM266 1549h5v4h-5zM266 1553h5v5h-5zM276 1553h4v5h-4zM130 1562h5v5h-5zM154 1567h4v4h-4zM163 1567h5v4h-5zM266 1567h5v4h-5zM144 1575h5v5h-5zM154 1575h4v5h-4zM140 1584h4v5h-4zM130 1597h5v5h-5zM149 1597h5v5h-5zM135 1602h5v4h-5zM135 1606h5v5h-5zM130 1615h10v4h-10zM130 1650h5v5h-5zM149 1655h5v4h-5z"/><path fill="#cffbc3" d="M168 1166h5v5h-5zM257 1166h5v5h-5zM280 1166h5v5h-5zM154 1171h4v4h-4zM205 1171h5v4h-5zM252 1171h5v4h-5zM351 1171h5v4h-5zM130 1175h5v4h-5zM158 1175h5v4h-5zM168 1175h5v4h-5zM271 1175h5v4h-5zM341 1175h5v4h-5zM149 1179h5v5h-5zM168 1179h9v5h-9zM182 1179h5v5h-5zM262 1179h4v5h-4zM154 1184h4v4h-4zM182 1184h5v4h-5zM234 1184h4v4h-4zM280 1184h5v4h-5zM154 1188h4v5h-4zM285 1188h5v5h-5zM182 1193h5v4h-5zM285 1193h5v4h-5zM360 1193h5v4h-5zM351 1197h9v4h-9zM271 1201h5v5h-5zM280 1201h5v5h-5zM440 1201h5v5h-5zM290 1206h5v4h-5zM299 1206h5v4h-5zM271 1210h5v5h-5zM299 1210h5v5h-5zM173 1215h4v4h-4zM280 1215h5v4h-5zM299 1215h5v4h-5zM163 1223h5v5h-5zM215 1223h4v5h-4zM224 1223h5v5h-5zM238 1223h10v5h-10zM740 1223h5v5h-5zM135 1228h14v4h-14zM177 1228h5v4h-5zM252 1228h5v4h-5zM135 1232h5v5h-5zM144 1232h5v5h-5zM234 1232h4v5h-4zM219 1237h10v4h-10zM234 1237h4v4h-4zM304 1237h5v4h-5zM229 1241h5v4h-5zM726 1241h5v4h-5zM229 1245h9v5h-9zM708 1245h4v5h-4zM252 1263h5v4h-5zM280 1263h5v4h-5zM252 1267h5v5h-5zM318 1281h5v4h-5zM332 1281h5v4h-5zM243 1285h5v4h-5zM262 1285h4v4h-4zM323 1285h4v4h-4zM337 1285h4v4h-4zM257 1289h5v5h-5zM252 1294h5v4h-5zM271 1294h5v4h-5zM290 1294h5v4h-5zM327 1294h5v4h-5zM337 1294h4v4h-4zM276 1298h4v5h-4zM285 1298h10v5h-10zM238 1303h5v4h-5zM262 1303h4v4h-4zM295 1303h9v4h-9zM712 1303h5v4h-5zM262 1307h4v4h-4zM295 1307h4v4h-4zM238 1316h5v4h-5zM290 1316h5v4h-5zM327 1320h5v5h-5zM290 1325h5v4h-5zM313 1325h5v4h-5zM295 1329h9v4h-9zM304 1333h5v5h-5zM290 1338h5v4h-5zM290 1347h5v4h-5zM285 1351h5v4h-5zM280 1355h5v5h-5zM290 1355h5v5h-5zM280 1360h5v4h-5zM140 1404h4v4h-4zM144 1408h5v5h-5zM154 1435h4v4h-4zM140 1439h4v4h-4zM140 1443h9v5h-9zM135 1452h5v5h-5zM196 1452h5v5h-5zM219 1452h5v5h-5zM135 1457h5v4h-5zM168 1457h5v4h-5zM257 1457h5v4h-5zM196 1461h5v4h-5zM238 1461h5v4h-5zM173 1465h4v5h-4zM219 1465h5v5h-5zM238 1465h5v5h-5zM252 1465h5v5h-5zM266 1465h5v5h-5zM215 1470h4v4h-4zM252 1470h5v4h-5zM177 1474h5v5h-5zM210 1474h9v5h-9zM210 1479h5v4h-5zM252 1479h5v4h-5zM210 1483h5v4h-5zM266 1483h5v4h-5zM149 1487h5v5h-5zM187 1487h4v5h-4zM234 1487h4v5h-4zM257 1487h5v5h-5zM182 1492h5v4h-5zM234 1492h9v4h-9zM248 1492h4v4h-4zM196 1496h5v5h-5zM130 1501h5v4h-5zM163 1501h5v4h-5zM196 1501h5v4h-5zM191 1509h5v5h-5zM205 1518h5v5h-5zM168 1523h5v4h-5zM177 1523h5v4h-5zM173 1540h4v5h-4zM168 1545h5v4h-5zM168 1549h5v4h-5zM177 1549h5v4h-5zM149 1558h5v4h-5zM135 1562h5v5h-5zM149 1567h5v4h-5zM144 1571h5v4h-5zM158 1575h5v5h-5zM149 1580h5v4h-5zM144 1593h5v4h-5zM144 1602h5v4h-5zM140 1606h4v5h-4zM140 1646h4v4h-4zM130 1659h5v4h-5zM140 1659h9v4h-9zM130 1663h5v5h-5z"/><path fill="#d8fecb" d="M144 1166h5v5h-5zM252 1166h5v5h-5zM262 1166h4v5h-4zM158 1171h5v4h-5zM271 1171h9v4h-9zM266 1175h5v4h-5zM187 1179h4v5h-4zM149 1184h5v4h-5zM173 1184h9v4h-9zM262 1184h4v4h-4zM271 1184h9v4h-9zM168 1188h5v5h-5zM196 1188h9v5h-9zM234 1193h4v4h-4zM271 1197h5v4h-5zM280 1197h5v4h-5zM154 1201h4v5h-4zM168 1201h5v5h-5zM266 1201h5v5h-5zM191 1206h5v4h-5zM295 1206h4v4h-4zM173 1210h4v5h-4zM191 1210h5v5h-5zM252 1210h5v5h-5zM280 1210h5v5h-5zM304 1210h5v5h-5zM191 1215h5v4h-5zM304 1215h5v4h-5zM163 1219h5v4h-5zM173 1219h9v4h-9zM248 1219h4v4h-4zM740 1219h10v4h-10zM168 1223h5v5h-5zM191 1223h5v5h-5zM130 1228h5v4h-5zM163 1228h5v4h-5zM234 1228h4v4h-4zM243 1228h5v4h-5zM140 1232h4v5h-4zM154 1232h4v5h-4zM177 1232h5v5h-5zM191 1232h5v5h-5zM219 1232h5v5h-5zM243 1232h5v5h-5zM313 1232h5v5h-5zM252 1237h10v4h-10zM210 1241h5v4h-5zM252 1241h5v4h-5zM257 1245h5v5h-5zM252 1250h5v4h-5zM276 1263h4v4h-4zM280 1267h5v5h-5zM276 1272h9v4h-9zM238 1285h5v4h-5zM332 1285h5v4h-5zM266 1294h5v4h-5zM313 1294h5v4h-5zM323 1294h4v4h-4zM238 1298h5v5h-5zM248 1298h4v5h-4zM257 1298h5v5h-5zM271 1298h5v5h-5zM243 1303h5v4h-5zM266 1303h5v4h-5zM717 1303h5v4h-5zM252 1307h5v4h-5zM271 1307h5v4h-5zM708 1307h4v4h-4zM271 1311h5v5h-5zM290 1311h5v5h-5zM309 1311h4v5h-4zM295 1316h4v4h-4zM313 1316h5v4h-5zM271 1320h5v5h-5zM295 1333h4v5h-4zM280 1338h5v4h-5zM299 1338h5v4h-5zM280 1342h5v5h-5zM299 1342h5v5h-5zM285 1355h5v5h-5zM144 1404h5v4h-5zM144 1426h5v4h-5zM149 1430h5v5h-5zM144 1435h5v4h-5zM173 1439h4v4h-4zM154 1443h4v5h-4zM154 1448h4v4h-4zM177 1461h5v4h-5zM191 1461h5v4h-5zM163 1465h5v5h-5zM182 1465h5v5h-5zM196 1465h9v5h-9zM257 1465h9v5h-9zM238 1470h5v4h-5zM257 1470h5v4h-5zM187 1474h4v5h-4zM262 1474h9v5h-9zM224 1483h5v4h-5zM163 1487h5v5h-5zM219 1487h5v5h-5zM238 1487h5v5h-5zM219 1492h5v4h-5zM135 1496h5v5h-5zM187 1496h4v5h-4zM238 1496h5v5h-5zM182 1505h5v4h-5zM158 1509h5v5h-5zM168 1509h5v5h-5zM173 1518h4v5h-4zM168 1527h5v4h-5zM177 1527h5v4h-5zM177 1531h5v5h-5zM177 1540h5v5h-5zM149 1545h5v4h-5zM163 1545h5v4h-5zM173 1545h4v4h-4zM182 1545h5v4h-5zM276 1549h4v4h-4zM163 1553h5v5h-5zM173 1553h4v5h-4zM271 1553h5v5h-5zM130 1558h5v4h-5zM168 1558h5v4h-5zM158 1562h10v5h-10zM158 1567h5v4h-5zM158 1571h5v4h-5zM149 1575h5v5h-5zM158 1580h5v4h-5zM149 1593h5v4h-5zM140 1602h4v4h-4zM130 1606h5v5h-5zM130 1611h5v4h-5zM135 1663h5v5h-5z"/><path fill="#d7f8c0" d="M163 1166h5v5h-5zM210 1166h5v5h-5zM257 1171h14v4h-14zM215 1175h4v4h-4zM215 1179h4v5h-4zM257 1179h5v5h-5zM215 1184h4v4h-4zM173 1188h4v5h-4zM182 1188h5v5h-5zM276 1188h4v5h-4zM154 1197h4v4h-4zM276 1197h4v4h-4zM182 1201h5v5h-5zM173 1206h4v4h-4zM182 1206h5v4h-5zM238 1206h5v4h-5zM177 1210h5v5h-5zM177 1215h5v4h-5zM271 1215h9v4h-9zM168 1219h5v4h-5zM210 1219h5v4h-5zM243 1219h5v4h-5zM252 1219h5v4h-5zM252 1223h5v5h-5zM168 1228h5v4h-5zM219 1228h5v4h-5zM238 1228h5v4h-5zM210 1232h5v5h-5zM238 1232h5v5h-5zM243 1237h5v4h-5zM224 1241h5v4h-5zM309 1241h4v4h-4zM252 1245h5v5h-5zM285 1289h5v5h-5zM327 1289h5v5h-5zM285 1294h5v4h-5zM243 1298h5v5h-5zM313 1298h14v5h-14zM248 1303h4v4h-4zM271 1303h5v4h-5zM332 1303h5v4h-5zM708 1303h4v4h-4zM248 1307h4v4h-4zM304 1307h5v4h-5zM712 1307h5v4h-5zM280 1311h5v5h-5zM266 1320h5v5h-5zM295 1320h4v5h-4zM309 1320h4v5h-4zM323 1320h4v5h-4zM332 1320h5v5h-5zM285 1325h5v4h-5zM299 1325h5v4h-5zM309 1325h4v4h-4zM309 1329h4v4h-4zM295 1338h4v4h-4zM290 1342h9v5h-9zM290 1351h5v4h-5zM130 1421h5v5h-5zM144 1430h5v5h-5zM140 1435h4v4h-4zM135 1439h5v4h-5zM135 1443h5v5h-5zM158 1443h5v5h-5zM140 1448h9v4h-9zM130 1452h5v5h-5zM130 1457h5v4h-5zM252 1461h10v4h-10zM191 1465h5v5h-5zM191 1474h10v5h-10zM182 1479h9v4h-9zM187 1483h4v4h-4zM201 1483h4v4h-4zM144 1492h10v4h-10zM243 1492h5v4h-5zM168 1496h5v5h-5zM243 1496h5v5h-5zM173 1501h4v4h-4zM191 1501h5v4h-5zM219 1501h5v4h-5zM173 1505h4v4h-4zM210 1505h5v4h-5zM205 1509h5v5h-5zM158 1514h5v4h-5zM163 1523h5v4h-5zM173 1527h4v4h-4zM163 1531h10v5h-10zM144 1545h5v4h-5zM149 1549h5v4h-5zM173 1549h4v4h-4zM271 1549h5v4h-5zM144 1553h10v5h-10zM168 1553h5v5h-5zM154 1558h4v4h-4zM163 1558h5v4h-5zM149 1562h9v5h-9zM144 1567h5v4h-5zM144 1646h5v4h-5zM135 1650h5v5h-5zM149 1650h5v5h-5zM144 1655h5v4h-5z"/><path fill="#cff1b0" d="M215 1166h4v5h-4zM210 1171h5v4h-5zM238 1184h5v4h-5zM215 1188h4v5h-4zM168 1193h5v4h-5zM177 1193h5v4h-5zM191 1193h5v4h-5zM271 1193h5v4h-5zM280 1193h5v4h-5zM168 1197h5v4h-5zM177 1206h5v4h-5zM243 1206h14v4h-14zM182 1210h5v5h-5zM210 1215h5v4h-5zM234 1219h4v4h-4zM173 1223h4v5h-4zM219 1223h5v5h-5zM173 1232h4v5h-4zM205 1232h5v5h-5zM309 1232h4v5h-4zM215 1237h4v4h-4zM238 1237h5v4h-5zM234 1241h4v4h-4zM262 1298h4v5h-4zM327 1298h5v5h-5zM252 1303h5v4h-5zM722 1303h4v4h-4zM276 1307h9v4h-9zM248 1311h4v5h-4zM262 1311h4v5h-4zM276 1311h4v5h-4zM299 1311h10v5h-10zM313 1311h5v5h-5zM262 1320h4v5h-4zM299 1320h5v5h-5zM313 1320h5v5h-5zM295 1325h4v4h-4zM309 1333h4v5h-4zM130 1426h5v4h-5zM130 1430h5v5h-5zM149 1435h5v4h-5zM135 1448h5v4h-5zM177 1465h5v5h-5zM205 1465h5v5h-5zM215 1465h4v5h-4zM201 1470h4v4h-4zM266 1470h5v4h-5zM191 1479h5v4h-5zM158 1483h5v4h-5zM182 1483h5v4h-5zM205 1483h5v4h-5zM154 1487h4v5h-4zM191 1487h5v5h-5zM229 1487h5v5h-5zM243 1487h5v5h-5zM163 1492h5v4h-5zM229 1492h5v4h-5zM140 1496h4v5h-4zM163 1496h5v5h-5zM182 1496h5v5h-5zM158 1505h5v4h-5zM187 1505h4v4h-4zM158 1518h5v5h-5zM168 1518h5v5h-5zM163 1527h5v4h-5zM163 1536h5v4h-5zM182 1540h5v5h-5zM271 1545h5v4h-5z"/><path fill="#cbeaa3" d="M219 1166h5v5h-5zM215 1171h4v4h-4zM154 1175h4v4h-4zM177 1188h5v5h-5zM234 1188h4v5h-4zM271 1188h5v5h-5zM280 1188h5v5h-5zM205 1193h5v4h-5zM229 1193h5v4h-5zM257 1193h14v4h-14zM177 1197h5v4h-5zM196 1197h5v4h-5zM234 1197h4v4h-4zM257 1201h5v5h-5zM243 1210h9v5h-9zM234 1215h4v4h-4zM243 1215h5v4h-5zM201 1223h4v5h-4zM234 1223h4v5h-4zM173 1228h4v4h-4zM191 1228h5v4h-5zM205 1228h14v4h-14zM205 1237h10v4h-10zM252 1298h5v5h-5zM266 1298h5v5h-5zM313 1303h5v4h-5zM266 1307h5v4h-5zM299 1307h5v4h-5zM327 1307h5v4h-5zM266 1311h5v5h-5zM332 1311h5v5h-5zM262 1316h4v4h-4zM271 1316h5v4h-5zM318 1320h5v5h-5zM135 1435h5v4h-5zM130 1443h5v5h-5zM130 1448h5v4h-5zM163 1470h10v4h-10zM196 1470h5v4h-5zM243 1470h5v4h-5zM262 1470h4v4h-4zM173 1474h4v5h-4zM201 1474h4v5h-4zM158 1479h5v4h-5zM191 1483h5v4h-5zM168 1487h5v5h-5zM201 1487h9v5h-9zM154 1492h4v4h-4zM168 1492h5v4h-5zM201 1492h4v4h-4zM177 1496h5v5h-5zM158 1501h5v4h-5zM168 1501h5v4h-5zM163 1505h5v4h-5zM191 1505h5v4h-5zM163 1540h5v5h-5zM177 1545h5v4h-5zM144 1549h5v4h-5zM163 1549h5v4h-5zM158 1553h5v5h-5zM140 1558h4v4h-4zM158 1558h5v4h-5zM140 1650h4v5h-4z"/><path fill="#c7e499" d="M219 1171h5v4h-5zM229 1171h5v4h-5zM224 1184h5v4h-5zM266 1184h5v4h-5zM266 1188h5v5h-5zM201 1193h4v4h-4zM215 1193h4v4h-4zM276 1193h4v4h-4zM173 1197h4v4h-4zM196 1201h5v5h-5zM210 1201h5v5h-5zM243 1201h5v5h-5zM252 1201h5v5h-5zM205 1215h5v4h-5zM196 1219h5v4h-5zM238 1219h5v4h-5zM196 1223h5v5h-5zM210 1223h5v5h-5zM229 1223h5v5h-5zM196 1232h5v5h-5zM215 1232h4v5h-4zM238 1241h5v4h-5zM276 1303h4v4h-4zM318 1303h9v4h-9zM205 1470h5v4h-5zM158 1474h5v5h-5zM196 1479h5v4h-5zM205 1479h5v4h-5zM173 1483h4v4h-4zM173 1487h9v5h-9zM196 1487h5v5h-5zM224 1487h5v5h-5zM205 1492h5v4h-5zM191 1496h5v5h-5zM201 1496h4v5h-4zM224 1496h5v5h-5zM201 1501h18v4h-18zM168 1505h5v4h-5zM201 1505h9v4h-9zM154 1518h4v5h-4zM158 1527h5v4h-5zM158 1536h5v4h-5zM168 1536h5v4h-5zM154 1545h4v4h-4zM154 1549h9v4h-9zM154 1553h4v5h-4zM135 1558h5v4h-5zM144 1650h5v5h-5zM135 1655h5v4h-5z"/><path fill="#c4de8f" d="M229 1166h5v5h-5zM248 1166h4v5h-4zM248 1171h4v4h-4zM219 1175h5v4h-5zM248 1175h4v4h-4zM229 1179h5v5h-5zM257 1184h5v4h-5zM224 1188h5v5h-5zM257 1188h5v5h-5zM173 1193h4v4h-4zM196 1193h5v4h-5zM173 1201h9v5h-9zM248 1201h4v5h-4zM196 1215h5v4h-5zM219 1219h5v4h-5zM196 1228h5v4h-5zM266 1316h5v4h-5zM318 1316h5v4h-5zM130 1435h5v4h-5zM130 1439h5v4h-5zM168 1474h5v5h-5zM168 1483h5v4h-5zM196 1483h5v4h-5zM177 1492h5v4h-5zM215 1492h4v4h-4zM224 1492h5v4h-5zM205 1496h5v5h-5zM219 1496h5v5h-5zM140 1501h4v4h-4zM163 1518h5v5h-5zM158 1523h5v4h-5zM168 1540h5v5h-5zM158 1545h5v4h-5zM140 1655h4v4h-4z"/><path fill="#c2d987" d="M224 1166h5v5h-5zM224 1171h5v4h-5zM229 1175h5v4h-5zM224 1179h5v5h-5zM248 1179h4v5h-4zM243 1184h5v4h-5zM219 1188h5v5h-5zM205 1197h5v4h-5zM257 1197h5v4h-5zM215 1201h9v5h-9zM238 1201h5v5h-5zM234 1206h4v4h-4zM196 1210h5v5h-5zM205 1210h10v5h-10zM234 1210h9v5h-9zM201 1215h4v4h-4zM215 1219h4v4h-4zM205 1223h5v5h-5zM318 1307h5v4h-5zM327 1316h10v4h-10zM205 1474h5v5h-5zM163 1479h14v4h-14zM210 1492h5v4h-5zM144 1496h5v5h-5zM173 1496h4v5h-4zM210 1496h5v5h-5zM158 1531h5v5h-5zM173 1531h4v5h-4zM173 1536h4v4h-4zM158 1540h5v5h-5z"/><path fill="#c1d57f" d="M234 1171h4v4h-4zM224 1175h5v4h-5zM234 1175h4v4h-4zM219 1179h5v5h-5zM234 1179h4v5h-4zM252 1179h5v5h-5zM219 1193h5v4h-5zM201 1197h4v4h-4zM205 1201h5v5h-5zM196 1206h5v4h-5zM205 1206h5v4h-5zM215 1206h4v4h-4zM201 1210h4v5h-4zM219 1215h5v4h-5zM229 1219h5v4h-5zM327 1303h5v4h-5zM323 1316h4v4h-4zM163 1474h5v5h-5zM158 1492h5v4h-5zM173 1492h4v4h-4zM154 1496h9v5h-9zM130 1505h10v4h-10z"/><path fill="#c0d277" d="M243 1166h5v5h-5zM219 1184h5v4h-5zM238 1188h5v5h-5zM215 1197h9v4h-9zM234 1201h4v5h-4zM210 1206h5v4h-5zM224 1215h5v4h-5zM238 1215h5v4h-5zM201 1219h4v4h-4zM224 1219h5v4h-5zM318 1311h5v5h-5zM327 1311h5v5h-5zM158 1487h5v5h-5zM149 1496h5v5h-5zM215 1496h4v5h-4zM154 1540h4v5h-4zM130 1553h5v5h-5z"/><path fill="#bece6f" d="M238 1166h5v5h-5zM252 1184h5v4h-5zM224 1193h5v4h-5zM238 1193h5v4h-5zM229 1197h5v4h-5zM238 1197h10v4h-10zM252 1197h5v4h-5zM224 1201h10v5h-10zM201 1206h4v4h-4zM224 1210h5v5h-5zM229 1215h5v4h-5zM205 1219h5v4h-5zM163 1483h5v4h-5zM144 1501h5v4h-5zM154 1509h4v5h-4zM140 1553h4v5h-4z"/><path fill="#bdca69" d="M238 1171h10v4h-10zM238 1179h5v5h-5zM243 1188h5v5h-5zM252 1193h5v4h-5zM224 1197h5v4h-5zM201 1201h4v5h-4zM219 1206h5v4h-5zM229 1206h5v4h-5zM215 1210h9v5h-9zM215 1215h4v4h-4zM323 1307h4v4h-4zM154 1501h4v4h-4zM154 1505h4v4h-4zM154 1514h4v4h-4z"/><path fill="#bcc662" d="M234 1166h4v5h-4zM248 1184h4v4h-4zM252 1188h5v5h-5zM248 1197h4v4h-4zM224 1206h5v4h-5zM229 1210h5v5h-5zM149 1518h5v5h-5zM154 1527h4v4h-4zM154 1536h4v4h-4zM140 1540h4v5h-4zM149 1540h5v5h-5zM135 1553h5v5h-5z"/><path fill="#bac25c" d="M238 1175h5v4h-5zM243 1193h5v4h-5zM323 1311h4v5h-4zM149 1501h5v4h-5zM140 1505h14v4h-14zM130 1509h5v5h-5zM154 1523h4v4h-4zM130 1527h5v4h-5zM149 1527h5v4h-5zM154 1531h4v5h-4zM140 1545h4v4h-4zM130 1549h5v4h-5zM140 1549h4v4h-4z"/><path fill="#b9be55" d="M243 1175h5v4h-5zM248 1193h4v4h-4zM144 1540h5v5h-5z"/><path fill="#b7b74c" d="M248 1188h4v5h-4zM135 1509h5v5h-5zM144 1531h10v5h-10zM135 1536h5v4h-5zM144 1536h5v4h-5zM135 1549h5v4h-5z"/><path fill="#b5b043" d="M149 1509h5v5h-5zM140 1518h4v5h-4zM149 1523h5v4h-5zM144 1527h5v4h-5zM149 1536h5v4h-5zM135 1540h5v5h-5zM135 1545h5v4h-5z"/><path fill="#b3a73a" d="M243 1179h5v5h-5zM149 1514h5v4h-5zM144 1518h5v5h-5zM130 1523h5v4h-5zM144 1523h5v4h-5z"/><path fill="#ad9a30" d="M135 1523h5v4h-5zM130 1545h5v4h-5z"/><path fill="#a78c26" d="M140 1509h9v5h-9zM130 1514h5v4h-5zM130 1531h5v5h-5z"/><path fill="#a1801d" d="M140 1531h4v5h-4zM140 1536h4v4h-4z"/><path fill="#9d7817" d="M135 1514h5v4h-5zM130 1518h10v5h-10zM135 1527h5v4h-5zM130 1540h5v5h-5z"/><path fill="#997012" d="M144 1514h5v4h-5zM140 1527h4v4h-4z"/><path fill="#95680d" d="M140 1514h4v4h-4zM130 1536h5v4h-5z"/><path fill="#926008" d="M140 1523h4v4h-4zM135 1531h5v5h-5z"/></g><g stroke="#0a1a0a" stroke-width="1.1" stroke-dasharray="11 10.1" fill="none"><line x1="249.1" y1="1166.2" x2="249.1" y2="1830.6"/><line x1="366.3" y1="1166.2" x2="366.3" y2="1830.6"/><line x1="484.8" y1="1166.2" x2="484.8" y2="1830.6"/><line x1="601.3" y1="1166.2" x2="601.3" y2="1830.6"/><line x1="718.4" y1="1166.2" x2="718.4" y2="1830.6"/><line x1="836.7" y1="1166.2" x2="836.7" y2="1830.6"/><line x1="130.3" y1="1277.3" x2="838.9" y2="1277.3"/><line x1="130.3" y1="1386.1" x2="838.9" y2="1386.1"/><line x1="130.3" y1="1497.4" x2="838.9" y2="1497.4"/><line x1="130.3" y1="1608.5" x2="838.9" y2="1608.5"/><line x1="130.3" y1="1717.6" x2="838.9" y2="1717.6"/><line x1="130.3" y1="1828.3" x2="838.9" y2="1828.3"/></g><rect x="130.3" y="1166.2" width="708.6" height="664.4" fill="none" stroke="#333" stroke-width="1"/><rect x="879.6" y="1823.59" width="54.5" height="11.01" fill="#066a2b"/><rect x="879.6" y="1813.19" width="54.5" height="11.01" fill="#08712d"/><rect x="879.6" y="1802.78" width="54.5" height="11.01" fill="#06752d"/><rect x="879.6" y="1792.38" width="54.5" height="11.01" fill="#047a2d"/><rect x="879.6" y="1781.97" width="54.5" height="11.01" fill="#027f2d"/><rect x="879.6" y="1771.56" width="54.5" height="11.01" fill="#00832d"/><rect x="879.6" y="1761.16" width="54.5" height="11.01" fill="#00872f"/><rect x="879.6" y="1750.75" width="54.5" height="11.01" fill="#008b30"/><rect x="879.6" y="1740.34" width="54.5" height="11.01" fill="#008f31"/><rect x="879.6" y="1729.94" width="54.5" height="11.01" fill="#009332"/><rect x="879.6" y="1719.53" width="54.5" height="11.01" fill="#009732"/><rect x="879.6" y="1709.12" width="54.5" height="11.01" fill="#009c32"/><rect x="879.6" y="1698.72" width="54.5" height="11.01" fill="#00a032"/><rect x="879.6" y="1688.31" width="54.5" height="11.01" fill="#00a635"/><rect x="879.6" y="1677.91" width="54.5" height="11.01" fill="#00ad3a"/><rect x="879.6" y="1667.50" width="54.5" height="11.01" fill="#00b342"/><rect x="879.6" y="1657.09" width="54.5" height="11.01" fill="#00b84a"/><rect x="879.6" y="1646.69" width="54.5" height="11.01" fill="#00bc50"/><rect x="879.6" y="1636.28" width="54.5" height="11.01" fill="#00bf56"/><rect x="879.6" y="1625.88" width="54.5" height="11.01" fill="#00c35b"/><rect x="879.6" y="1615.47" width="54.5" height="11.01" fill="#32c864"/><rect x="879.6" y="1605.06" width="54.5" height="11.01" fill="#4acd6b"/><rect x="879.6" y="1594.66" width="54.5" height="11.01" fill="#63d273"/><rect x="879.6" y="1584.25" width="54.5" height="11.01" fill="#72d67a"/><rect x="879.6" y="1573.84" width="54.5" height="11.01" fill="#81da81"/><rect x="879.6" y="1563.44" width="54.5" height="11.01" fill="#8cdd87"/><rect x="879.6" y="1553.03" width="54.5" height="11.01" fill="#97e18d"/><rect x="879.6" y="1542.62" width="54.5" height="11.01" fill="#9fe493"/><rect x="879.6" y="1532.22" width="54.5" height="11.01" fill="#a8e79a"/><rect x="879.6" y="1521.81" width="54.5" height="11.01" fill="#b4eda5"/><rect x="879.6" y="1511.41" width="54.5" height="11.01" fill="#c1f4b2"/><rect x="879.6" y="1501.00" width="54.5" height="11.01" fill="#cffbc3"/><rect x="879.6" y="1490.59" width="54.5" height="11.01" fill="#d8fecb"/><rect x="879.6" y="1480.19" width="54.5" height="11.01" fill="#d7f8c0"/><rect x="879.6" y="1469.78" width="54.5" height="11.01" fill="#cff1b0"/><rect x="879.6" y="1459.38" width="54.5" height="11.01" fill="#cbeaa3"/><rect x="879.6" y="1448.97" width="54.5" height="11.01" fill="#c7e499"/><rect x="879.6" y="1438.56" width="54.5" height="11.01" fill="#c4de8f"/><rect x="879.6" y="1428.16" width="54.5" height="11.01" fill="#c2d987"/><rect x="879.6" y="1417.75" width="54.5" height="11.01" fill="#c1d57f"/><rect x="879.6" y="1407.34" width="54.5" height="11.01" fill="#c0d277"/><rect x="879.6" y="1396.94" width="54.5" height="11.01" fill="#bece6f"/><rect x="879.6" y="1386.53" width="54.5" height="11.01" fill="#bdca69"/><rect x="879.6" y="1376.12" width="54.5" height="11.01" fill="#bcc662"/><rect x="879.6" y="1365.72" width="54.5" height="11.01" fill="#bac25c"/><rect x="879.6" y="1355.31" width="54.5" height="11.01" fill="#b9be55"/><rect x="879.6" y="1344.91" width="54.5" height="11.01" fill="#b7b74c"/><rect x="879.6" y="1334.50" width="54.5" height="11.01" fill="#b5b043"/><rect x="879.6" y="1324.09" width="54.5" height="11.01" fill="#b3a73a"/><rect x="879.6" y="1313.69" width="54.5" height="11.01" fill="#ad9a30"/><rect x="879.6" y="1303.28" width="54.5" height="11.01" fill="#a78c26"/><rect x="879.6" y="1292.88" width="54.5" height="11.01" fill="#a1801d"/><rect x="879.6" y="1282.47" width="54.5" height="11.01" fill="#9d7817"/><rect x="879.6" y="1272.06" width="54.5" height="11.01" fill="#997012"/><rect x="879.6" y="1261.66" width="54.5" height="11.01" fill="#95680d"/><rect x="879.6" y="1251.25" width="54.5" height="11.01" fill="#926008"/><rect x="879.6" y="1240.84" width="54.5" height="11.01" fill="#8e5802"/><rect x="879.6" y="1230.44" width="54.5" height="11.01" fill="#895000"/><rect x="879.6" y="1220.03" width="54.5" height="11.01" fill="#844700"/><rect x="879.6" y="1209.62" width="54.5" height="11.01" fill="#7f3e00"/><rect x="879.6" y="1199.22" width="54.5" height="11.01" fill="#7a3500"/><rect x="879.6" y="1188.81" width="54.5" height="11.01" fill="#762f00"/><rect x="879.6" y="1178.41" width="54.5" height="11.01" fill="#732a00"/><rect x="879.6" y="1168.00" width="54.5" height="11.01" fill="#702500"/><rect x="879.6" y="1166.8" width="54.5" height="667.2" fill="none" stroke="#777" stroke-width="0.8"/><g stroke="#333" stroke-width="1"><line x1="879.6" y1="1715.3" x2="885.6" y2="1715.3"/><line x1="927.1" y1="1715.3" x2="934.1" y2="1715.3"/><line x1="879.6" y1="1596.6" x2="885.6" y2="1596.6"/><line x1="927.1" y1="1596.6" x2="934.1" y2="1596.6"/><line x1="879.6" y1="1477.9" x2="885.6" y2="1477.9"/><line x1="927.1" y1="1477.9" x2="934.1" y2="1477.9"/><line x1="879.6" y1="1359.2" x2="885.6" y2="1359.2"/><line x1="927.1" y1="1359.2" x2="934.1" y2="1359.2"/><line x1="879.6" y1="1240.5" x2="885.6" y2="1240.5"/><line x1="927.1" y1="1240.5" x2="934.1" y2="1240.5"/></g><g font-family="Liberation Sans" font-size="35.5" fill="#000"><text x="937.5" y="1844.5">0</text><text x="937.5" y="1725.8">500</text><text x="937.5" y="1607.1">1000</text><text x="937.5" y="1488.4">1500</text><text x="937.5" y="1369.7">2000</text><text x="937.5" y="1251.0">2500</text><text x="123.5" y="1176.6" text-anchor="end">42</text><text x="123.5" y="1287.0" text-anchor="end">41.5</text><text x="123.5" y="1397.4" text-anchor="end">41</text><text x="123.5" y="1507.9" text-anchor="end">40.5</text><text x="123.5" y="1618.3" text-anchor="end">40</text><text x="123.5" y="1728.7" text-anchor="end">39.5</text><text x="123.5" y="1839.1" text-anchor="end">39</text><text x="132.0" y="1868.6" text-anchor="middle">115</text><text x="249.7" y="1868.6" text-anchor="middle">115.5</text><text x="367.3" y="1868.6" text-anchor="middle">116</text><text x="485.0" y="1868.6" text-anchor="middle">116.5</text><text x="602.6" y="1868.6" text-anchor="middle">117</text><text x="720.2" y="1868.6" text-anchor="middle">117.5</text><text x="837.9" y="1868.6" text-anchor="middle">118</text><text x="380.5" y="1909.5">Longitude (°)</text><text transform="translate(33.5,1585.6) rotate(-90)">Latitude (°)</text></g><text x="339.6" y="1141" font-family="Liberation Sans" font-weight="bold" font-size="30.8">Elevation of Beijing</text><text x="890.7" y="1143.5" font-family="Liberation Sans" font-weight="bold" font-size="31.5">m</text><text x="506.5" y="2020.6" font-family="Liberation Serif" font-size="44">(<tspan font-weight="bold">b</tspan>)</text><g fill="none" stroke="#3a3a3a" stroke-width="1.2"><polyline points="781,52.7 632.8,52.7 613.3,55.5 415.2,55.2 395.6,52.7 174.9,52.3 152.7,50.3 150.6,191 150.1,300 147.8,332.8 144.9,473 144.3,500 141.9,614 142,720 139.4,757 138.6,894.6 158.9,897.7 494,897.5 513,899 533,897.5 869.5,897 889,893.8 889,749.3 886.3,720 886.5,610.8 884.6,596.1"/></g><g fill="none" stroke="#1a1a1a" stroke-width="1.2" stroke-dasharray="2.7 2.5"><polyline points="150.6,191 188.6,191 192,193.3 781,193.3"/><polyline points="147.8,332.8 210,333.2 215,335.9 782,335.9"/><polyline points="144.9,473.7 258.5,474 262,476.6 770,475.5 780,474"/><polyline points="141.9,614.6 300,616 512,617.5 700,618 735,614.7 886.5,614.7"/><polyline points="139.4,756.3 373.8,756.3 376,758.3 646.9,759 650,757.1 889,757.1"/><polyline points="274.5,52.5 272.6,230 271.4,300 269.5,500 264.4,897.5"/><polyline points="394.8,52.7 393.7,230 392.5,300 390.9,500 388.8,897.5"/><polyline points="514.5,55.5 514,230 514.8,300 514,500 513.3,898"/><polyline points="634,52.7 636,300 638.3,720 638.7,897.5"/><polyline points="753.9,52.7 754.5,100 758,480 759.6,590 762,760 763.3,897"/></g><g fill="none" stroke="#3c3cff" stroke-width="1.15" stroke-linejoin="miter"><polyline points="323.7,474.6 328.1,470.2 329,465.8 333.4,462.3 336.9,459.6 346.6,458.8 346.6,451.7 354.5,450.9 358,449.1 361.5,448.2 366.8,443.8 374.7,443.8 377.3,445.9 382.6,446.5 384.4,453.5 389.6,453.5 395.8,447.3 397.6,448.2 406.3,445.9 409.9,441.2 417.8,441.2 420.4,439.4 421.3,429.8 423,428.9 426.6,431.5 431,430.6 431.8,420.1 437.1,413.1 442.4,407.8 447.7,404.3 449.1,394.6 453.8,394.6 454.3,399 458.2,401.6 464.4,404.3 465.2,406 465.8,399.9 486.9,399.5 488.4,397.5 491.8,401.4 502.5,400.8 502.1,390.1 498.6,386.2 488.8,383.2 487.9,377.4 479.1,368.6 471.3,361.8 471.3,356.9 478.1,352 484.9,356.9 486.9,361.8 491.8,364.7 493.7,362.7 496.6,364.7 506.4,363.7 507.4,361.8 504.5,356.9 503.5,352 499.6,347.1 500.5,341.3 502.5,340.3 514.2,342.2 520.1,340.3 529.8,339.3 530.8,342.2 537.7,342.2 539.6,335.4 541.6,330.5 540.6,320.7 546.4,320.7 549.4,322.7 558.2,322.7 557.2,335.4 557.2,348.1 562.1,352 567,356.9 567.9,363.7 576.7,368.6 584.5,374.5 585.5,379.3 596.3,383.2 602.1,387.1 607,392 608.8,397.6 614,399.3 616.7,406.4 621.1,412.5 627.2,418.7 634.3,422.2 641.3,422.2 645.7,419.6 664.2,419.6 667.7,422.2 673,420.4 684.4,421.8 691.4,426.1 701.1,427.1 704.6,431.9 712.5,431.3 716.9,428.3 724.8,424.8 739.7,424.8 742.4,427.5 757.3,427.5 761.4,431.3 756.4,437.1 754.7,436.2 752,434.5 745.9,434.5 745,438 738.9,438.9 738.9,453.8 740.6,454.7 736.2,453.8 730.1,459.1 724.8,453.8 714.3,453.5 705.5,457.3 700.2,460.9 698.4,466.1 695.8,467.9 695.8,473.2 691.4,471.4 687.9,473.2 687,478.4 693.2,485.5 694,489 698.4,494.3 693.2,501.3 692.3,510.1 690.5,513.2 698.4,517.6 699.3,522.9 704.6,523.7 703.7,529 708.1,536.9 714.3,535.2 719.5,539.5 720.4,550.1 723,551.9 726.6,551 732.7,555.4 730.1,559.8 735.3,565 731.8,567.7 723.9,568.6 722.2,572.1 723.9,577.3 713.4,577.3 709,581.7 702.8,586.1 695.8,586.1 687.9,591.4 685.3,597.6 681.7,594 674.7,596.7 670.3,600.2 661.5,595.8 652.7,600.2 647.5,602.8 641.3,608.1 632.5,607.6 629,605.5 621.1,602.8 614.1,602.3 609.7,605.1 603.5,605.5 598.4,602.5 592.5,606.1 589.6,609 585.2,608.3 579.4,612 569.1,612 563.2,612 557.4,614.2 553,612.7 547.9,611.2 542,612.7 539.8,614.2"/><polyline points="579.4,612 578.6,619.3 580.1,620.8 576.4,625.2 576.4,629.5 582.3,629.5 582.3,650 587.4,650 595.5,655.9 602.8,661.8 607.2,661 610.8,664 614.5,660.3 618.9,664.7 619.6,674.2 621.8,675 624,678.6 618.9,679.4 611.6,686.7 615.2,691.1 610.1,694 607.9,695.5 607.9,703.5 610.1,704.3 610.1,708.6 613,709.4 602.8,709.4 596.2,716 594.7,721.1 591.1,724 583.7,730.6 576.4,724.8 573.5,724 567.6,724 566.9,719.6 563.2,710.1 561.8,709.4 557.4,708.6 551.5,702.8 548.6,699.1 544.9,694.7 540.5,696.9 536.1,697.7 533.9,699.1 529.5,696.9 522.2,698.4 520.8,693.3 521.5,689.6 517.8,686.7 520.8,680.8 520,676.4 521.5,672 520.8,664.7"/><polyline points="567.6,724 564.7,724.8 564.7,729.2 567.6,730.6 566.2,734.3 562.5,730.6 557.4,729.9 545.7,729.2 539.8,724 529.5,724 528.8,727.7 521.5,731.3 520,739.4 516.4,740.1 513.4,743.1 509,743.8 506.8,746.7 501.7,749.7 495.9,752.6 494.4,756.3 494.4,762.8 498.8,764.3 501,768 502.5,771.6 500.3,773.1 490,773.1 487.6,771.7 472.3,770.5 462.2,759 453.3,757.8 449.5,754 448.2,740 441.9,734.9 433,733.6 425.4,737.4 417.8,738.7 415.2,736.2 405.1,736.2 400,738.7 389.8,734.9 384.7,732.4 382.2,738.7 374.6,738.7 369.5,731.1 364.4,732.4 364.4,740 358.1,742.5 349.2,743.8 345.4,754 326.3,754 321.3,745.1 316.2,741.3 311.1,732.4 307.3,726 303.5,728.6 287,731.1 280.6,726.5 274.3,726 266.7,731.1 267.9,727.3 270.5,720.9 265.4,715.9 259,710.8 262.9,705.7 260.3,701.9 259,689.2 251.4,684.1 245.1,679 247.6,677.8 255.2,676.5 259,672.2 261.6,674 265.4,676.5 273,672.7 280.6,670.2 290.8,663.8 292.2,656.5 295.9,652.8 300.5,650.9 307.9,647.2 315.4,642 324.6,640.2 329.3,637.6 333.9,639.4 343.2,643.5 351.5,645 359.9,639.4 371,641.6 371,652.8 378.4,653.7 384,652.8 387.7,651.9 388.7,654.6 386.8,657.4 384,660.2 387.7,662.1 391.4,661.1 397,660.2 404.4,660.2 408.1,654.6 415.2,654.1 422.3,650.4 428.7,650.2 438.1,650.4 441,652.2 443.9,651.6 446.3,648 451.6,647.5 460.9,647.5 462.7,649.8 464.5,647.5 471.5,647.5 472.7,651.6 477.3,654.5 487.3,654.5 489.7,657.4 490.8,655.1 497.3,654.5 500.8,657.4 504.3,659.2 502,660.9 497.3,663.9 499.6,666.8 505.5,669.1 509,671.5 510.2,669.7 513.7,669.1 520.8,664.7"/><polyline points="441.9,734.9 443.1,704.4 448.2,700.6 448.2,670.2 448,667.4 441,668 437.5,675"/><polyline points="448.2,675.2 460.9,675.2 461.5,677.3 464.5,680.9 469.1,675 474.4,672.1 479.7,677.3 484.4,677.9 486.1,683.8 487.3,677.9 490.2,677.3 490.8,665.6 492.6,663.9 497.3,663.9"/><polyline points="404.1,660.4 408.8,665.6 409.4,669.1 408.8,675 412.3,677.9 417.6,677.9 419.9,679.7"/><polyline points="404.4,660.2 409.1,665.8 410,673.2 413.7,677.8"/><polyline points="244.8,678.8 245.8,677.8 257.8,674.1 259.7,672.3 263.4,676.9 267.1,676 274.5,673.2 280.1,669.5 285.7,665.8 291.2,661.1"/><polyline points="258.8,712 259.7,706.6 262.5,702.9 259.7,699.2 258.8,689.9 252.3,686.2 244.8,678.8"/><polyline points="280.1,666.7 274.5,663 269,659.3 270.8,650.9 267.1,645.4 266.2,639.8 257.8,633.3 253.2,631.4 247.6,627.7 246.7,619.4 249.5,612.9 253.2,608.2 262.5,602.7 269,596.2 274.5,595.3 281,589.7 285.7,586.9 289.4,583.2 300.5,580.4 323.7,580.4 328.3,575.8 327.4,572.1 331.1,568.4 334.8,565.6 336.7,567.4 337.6,572.1 345,573 350.6,573.9 358,576.7 368.2,577.6 373.8,582.3 375.7,587.8 379.4,588.8 384,594.3 387.7,593.4 391.4,595.3 397.9,595.3 406.3,588.8 409.8,584 415.7,583 418.6,586 421.6,583.4 429.4,583 437.2,572.9 440.1,574.3 447.9,577.2 449.9,585 454.8,588.9 462.6,594.8 468.4,600.6 476.3,600.6 482.1,599.6 484.1,604.5 486,607.5 494.8,600.6 502.6,597.7 503.6,592.8 513.4,596.5 525.2,600.9 531,608.3 539.8,614.2 544.2,617.1 547.9,619.3 548.6,632.5 543.5,636.9 542,647.9 542.7,656.6 538.3,663.2 532.5,666.9 529.5,664.7 520.8,664.7 514.2,669.1"/><polyline points="323.7,474.6 335.2,476.3 332.7,483.4 332.7,491.3 339.5,496.1 345.4,502 353.2,510.8 355.2,515.7 366.9,516.6 369.8,520.5 371.8,526.4 375.7,532.3 377.6,540.1 378.6,544 369.8,545.9 362,550.8 360,559.6 352.2,565.5 351.3,573.3"/><polyline points="378.6,544 384.5,540.1 386.4,536.2 383.5,526.4 392.3,523.5 394.2,528.4 402,528.4 408.9,522.1 415.7,523.5 422.5,529.3 426.4,522.5 429.4,514.7 439.1,511.8 450.9,511.2 454.8,509.8 459.6,511.2 460.6,506.9 468.4,508.8 474.3,511.8 477.2,516.6 482.1,522.5 491.9,523.5 499.5,526.2 501.7,537.9 506.8,538.6 512.7,543.7 512.7,546.7 509,547.4 506.1,554 506.1,559.1 509,564.3 508.3,577.4 509.8,585.5 503.9,590.6 504.6,592.8"/><polyline points="460,507.1 460,489.5 465.2,486 460.8,480.7 467.5,477.6 480.2,476.6 486,482.5 491.9,480.5 513.4,480.8 513.4,475.6 508.3,473.4 503.9,468.3 512,459.5 522.2,450"/><polyline points="502.5,400.8 508.4,399.8 511.3,401.8 514.2,407.7 515.2,409.6 513.2,411.6 513.2,418.4 509.3,422.3 511.3,423.3 511.3,428.2 516.2,431.1 522,432.1 525.9,437 529.8,438.9 525,440.9 522,446.7 520.1,449.6"/><polyline points="607,392 604.1,392 596.3,399.8 594.3,403.8 583.6,405.7 582.6,416.4 578.7,419.4 567.9,421.3 565,425.2 563,431.1 562.1,442.8 563,446.7 564.7,450 565.4,456.6 558.8,459.5 554.5,461 561.8,464.6 565.4,469 561.8,472 559.6,478.6 561.8,483 566.9,489.5 567.6,498.3 565.4,502.7 562.5,510.8 566.9,515.9 569.1,521.8 573.5,521 578.6,525.4 579.4,530.6 573.5,532 573.5,535.7 571.3,538.6"/><polyline points="513.4,546 517.1,546.7 521.5,542.3 528.1,540.8 532,541 536,544 540.5,546.7 544.2,543.7 549.3,543 553,545.2 553.7,550.3 557.4,549.6 571.3,538.6 576.4,543 582.3,539.4 583.7,535.7 586.7,537.2 591.1,537.9 594,535 594.7,531.3 597.7,531.3 601.3,534.2 605.7,541.5 610.1,549.6 613.8,554.7 618.9,553.3 621.1,552.5 626.2,551.1 627.7,546.7 627.7,537.9 635.2,534.3 638.7,530.8 636.9,526.4 637.8,523.7 644.8,521.4 648.3,522.9 658,516.7 661.5,517.6 673,510.9 692.3,509.7"/><polyline points="619.3,554.5 620.2,563.3 626.4,569.4 627.2,582.6 630.8,589.6 631.6,595.8 629,600.2 629,605.5"/><polyline points="530.3,585.5 530.3,600.9 534,603.1 539.1,605.3 538.3,589.2 536.9,587"/><polyline points="405.3,600 405.3,607.6 412.9,607.6 418.2,608.8 420.5,608.2 421.1,610.5 425.2,610.5 428.1,615.2 431.1,617.6 432.8,621.1 434,620.5 434.6,625.8 436.3,627 439.8,629.9 442.2,632.8 441.6,637.5 442.8,639.3 451,639.8 451.6,647.5"/><polyline points="429.3,617.6 426.4,619.3 420.5,620.5 420.5,627 417,628.1 417,635.2 418.8,636.3 421.1,639.8 425.2,644.5 428.1,647.5 428.7,650.2"/><polyline points="472.1,647.5 471.5,635.2 469.7,635.2 472.7,633.4 475,634.6 476.8,632.2 479.7,631.6 479.7,628.1"/><polyline points="472.1,644.5 497.3,644.5 499.6,646.9 499.6,651.6 497.3,654.5"/><polyline points="485.5,644.5 485.5,628.1 489.1,627.5 490.8,624.6 491.4,628.1 496.7,630.5 497.3,644.5"/><polyline points="488.5,646.9 488.5,653.9"/><polyline points="485.5,628.1 483.2,623.4 480.9,618.8 477.9,612.9 475,610.5 482,610 483.2,608.2 484.4,605.9 483.2,601.8 486,607.5"/><polyline points="486.7,607 493.8,601.8 502,600 503.6,592.8"/><polyline points="403,594.8 405,606.5 415.7,608.4 421.6,610.4 429.4,617.2"/><polyline points="416.5,628.7 416.5,636.1 420,635.2"/><polyline points="465.6,600 470.3,602.3 475,601.8 482,600.6"/></g><g font-family="Liberation Serif" font-weight="bold" font-size="33" fill="#3b2550" text-anchor="middle"><text x="318.0" y="430.5">1</text><text x="416.1" y="384.3">2</text><text x="491.8" y="464.6">3</text><text x="331.2" y="535.5">4</text><text x="425.0" y="577.5">5</text><text x="532.5" y="556.5">6</text><text x="204.5" y="629.3">7</text><text x="302.9" y="605.1">8</text><text x="302.9" y="651.2">9</text><text x="307.0" y="678.1">10</text><text x="389.1" y="645.7">11</text><text x="429.1" y="700.9">12</text><text x="201.0" y="715.3">13</text><text x="335.9" y="746.6">14</text></g><g font-family="Liberation Sans" fill="#000"><text transform="translate(55.96,68.90) scale(1.167,1)" font-size="33.36">42</text><text transform="translate(98.27,53.22) scale(1.117,1)" font-size="19.92">O</text><text transform="translate(114.69,68.10) scale(1.157,1)" font-size="33.37">N</text><text transform="translate(49.94,351.40) scale(1.047,1)" font-size="33.52">41</text><text transform="translate(92.19,336.12) scale(1.118,1)" font-size="19.64">O</text><text transform="translate(108.79,350.80) scale(1.183,1)" font-size="32.65">N</text><text transform="translate(44.34,634.00) scale(1.223,1)" font-size="32.78">40</text><text transform="translate(86.33,617.92) scale(1.161,1)" font-size="19.92">O</text><text transform="translate(103.61,632.80) scale(1.188,1)" font-size="32.35">N</text><text transform="translate(42.26,913.10) scale(1.203,1)" font-size="32.36">39</text><text transform="translate(82.58,898.12) scale(1.255,1)" font-size="19.36">O</text><text transform="translate(99.36,913.40) scale(1.160,1)" font-size="34.68">N</text><text transform="translate(88.59,939.21) scale(1.189,1)" font-size="31.78">115</text><text transform="translate(146.01,922.53) scale(1.436,1)" font-size="17.95">O</text><text transform="translate(162.55,939.90) scale(1.137,1)" font-size="33.37">E</text><text transform="translate(338.15,940.69) scale(1.161,1)" font-size="33.07">116</text><text transform="translate(396.64,925.81) scale(1.137,1)" font-size="20.21">O</text><text transform="translate(413.95,940.40) scale(1.121,1)" font-size="32.79">E</text><text transform="translate(588.24,936.90) scale(1.066,1)" font-size="34.82">117</text><text transform="translate(647.17,921.52) scale(1.166,1)" font-size="19.08">O</text><text transform="translate(663.56,936.90) scale(1.115,1)" font-size="33.95">E</text><text transform="translate(838.16,933.99) scale(1.122,1)" font-size="34.05">118</text><text transform="translate(896.96,918.82) scale(1.182,1)" font-size="19.08">O</text><text transform="translate(913.56,931.90) scale(1.087,1)" font-size="34.82">E</text><text transform="translate(102.14,205.00) scale(1.141,1)" font-size="27.42">30'</text><text transform="translate(96.81,487.20) scale(1.202,1)" font-size="26.72">30'</text><text transform="translate(90.46,769.70) scale(1.251,1)" font-size="26.72">30'</text><text transform="translate(243.55,925.61) scale(1.308,1)" font-size="25.87">30'</text><text transform="translate(494.47,923.62) scale(1.096,1)" font-size="25.45">30'</text><text transform="translate(744.13,920.93) scale(1.274,1)" font-size="24.75">30'</text></g><g font-family="Liberation Serif" font-size="36" fill="#000"><text transform="translate(788.6,33.90) scale(0.996,1)">1: Yan Qing</text><text transform="translate(788.6,75.87) scale(0.959,1)">2: Huai Rou</text><text transform="translate(788.6,117.84) scale(0.997,1)">3: Mi Yun</text><text transform="translate(788.6,159.81) scale(0.954,1)">4: Chang Ping</text><text transform="translate(788.6,201.78) scale(0.983,1)">5: Shun Yi</text><text transform="translate(788.6,243.75) scale(0.958,1)">6: Ping Gu</text><text transform="translate(788.6,285.72) scale(0.978,1)">7: Men Tougou</text><text transform="translate(788.6,327.69) scale(0.965,1)">8: Hai Dian</text><text transform="translate(788.6,369.66) scale(0.958,1)">9: Shi Jingshan</text><text transform="translate(788.6,411.63) scale(0.985,1)">10: Feng Tai</text><text transform="translate(788.6,453.60) scale(0.997,1)">11: Chao Yang</text><text transform="translate(788.6,495.57) scale(0.986,1)">12: Tong Zhou</text><text transform="translate(788.6,537.54) scale(0.97,1)">13: Fang Shan</text><text transform="translate(788.6,579.51) scale(0.968,1)">14: Da Xing</text></g><text x="508" y="1050.3" font-family="Liberation Serif" font-size="44">(<tspan font-weight="bold">a</tspan>)</text></svg></body></html>
